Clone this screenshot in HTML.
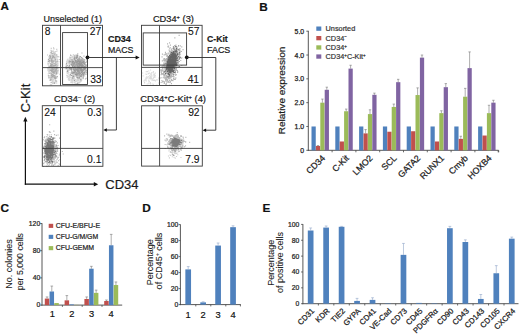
<!DOCTYPE html>
<html><head><meta charset="utf-8"><style>
html,body{margin:0;padding:0;background:#fff;width:520px;height:334px;overflow:hidden;}
svg{display:block;}
text{font-family:"Liberation Sans", sans-serif;}
</style></head><body>
<svg width="520" height="334" viewBox="0 0 520 334">
<rect width="520" height="334" fill="#fff"/>
<text x="0.6" y="9.9" font-size="11.6" font-weight="bold" fill="#111" stroke="#111" stroke-width="0.2">A</text>
<path d="M53.9 80.5h1.1v1.1h-1.1zM55.5 57.7h1.1v1.1h-1.1zM50.3 79.7h1.1v1.1h-1.1zM55.8 65.9h1.1v1.1h-1.1zM50.3 59.5h1.1v1.1h-1.1zM49.8 65.1h1.1v1.1h-1.1zM52.6 68.8h1.1v1.1h-1.1zM49.4 55.4h1.1v1.1h-1.1zM53.7 51.5h1.1v1.1h-1.1zM47.4 67.5h1.1v1.1h-1.1zM52.1 81.2h1.1v1.1h-1.1zM53.9 67.5h1.1v1.1h-1.1zM52.5 58.4h1.1v1.1h-1.1zM54.6 56.8h1.1v1.1h-1.1zM56.1 55.3h1.1v1.1h-1.1zM49.9 79.9h1.1v1.1h-1.1zM52.6 78.8h1.1v1.1h-1.1zM54.0 75.2h1.1v1.1h-1.1zM48.0 68.4h1.1v1.1h-1.1zM52.6 79.6h1.1v1.1h-1.1zM51.0 70.3h1.1v1.1h-1.1zM47.7 63.2h1.1v1.1h-1.1zM50.6 55.1h1.1v1.1h-1.1zM56.0 62.9h1.1v1.1h-1.1zM57.8 70.1h1.1v1.1h-1.1zM53.7 71.7h1.1v1.1h-1.1zM54.4 55.1h1.1v1.1h-1.1zM51.8 58.1h1.1v1.1h-1.1zM51.4 53.3h1.1v1.1h-1.1zM54.4 60.2h1.1v1.1h-1.1zM56.6 72.5h1.1v1.1h-1.1zM53.3 54.9h1.1v1.1h-1.1zM53.1 56.1h1.1v1.1h-1.1zM56.7 71.8h1.1v1.1h-1.1zM53.3 62.8h1.1v1.1h-1.1zM51.5 58.1h1.1v1.1h-1.1zM52.1 68.6h1.1v1.1h-1.1zM50.5 75.5h1.1v1.1h-1.1zM47.3 62.7h1.1v1.1h-1.1zM57.6 72.4h1.1v1.1h-1.1zM51.7 67.8h1.1v1.1h-1.1zM56.6 61.7h1.1v1.1h-1.1zM53.5 73.2h1.1v1.1h-1.1zM50.9 67.6h1.1v1.1h-1.1zM55.4 80.9h1.1v1.1h-1.1zM55.9 54.6h1.1v1.1h-1.1zM51.6 77.7h1.1v1.1h-1.1zM55.7 67.4h1.1v1.1h-1.1zM55.0 57.7h1.1v1.1h-1.1zM49.2 62.3h1.1v1.1h-1.1zM49.0 61.8h1.1v1.1h-1.1zM57.4 69.5h1.1v1.1h-1.1zM50.7 59.2h1.1v1.1h-1.1zM57.5 65.1h1.1v1.1h-1.1zM57.8 67.5h1.1v1.1h-1.1zM52.7 80.5h1.1v1.1h-1.1zM55.2 69.7h1.1v1.1h-1.1zM51.7 79.9h1.1v1.1h-1.1zM51.5 81.4h1.1v1.1h-1.1zM47.8 64.6h1.1v1.1h-1.1zM52.7 82.3h1.1v1.1h-1.1zM49.8 77.4h1.1v1.1h-1.1zM54.4 74.4h1.1v1.1h-1.1zM53.9 83.0h1.1v1.1h-1.1zM50.7 63.5h1.1v1.1h-1.1zM53.6 66.3h1.1v1.1h-1.1zM53.5 72.4h1.1v1.1h-1.1zM52.1 71.4h1.1v1.1h-1.1zM54.0 56.3h1.1v1.1h-1.1zM47.7 64.0h1.1v1.1h-1.1zM55.4 77.7h1.1v1.1h-1.1zM55.0 53.8h1.1v1.1h-1.1zM56.7 67.8h1.1v1.1h-1.1zM49.8 58.5h1.1v1.1h-1.1zM49.1 69.3h1.1v1.1h-1.1zM47.4 70.1h1.1v1.1h-1.1zM48.8 73.0h1.1v1.1h-1.1zM57.3 68.3h1.1v1.1h-1.1zM55.9 72.4h1.1v1.1h-1.1zM53.7 56.5h1.1v1.1h-1.1zM53.3 51.3h1.1v1.1h-1.1zM50.7 60.8h1.1v1.1h-1.1zM48.2 71.3h1.1v1.1h-1.1zM55.8 60.7h1.1v1.1h-1.1zM56.5 77.1h1.1v1.1h-1.1zM48.4 76.1h1.1v1.1h-1.1zM56.7 56.7h1.1v1.1h-1.1zM53.3 71.7h1.1v1.1h-1.1zM53.7 53.3h1.1v1.1h-1.1zM54.3 71.5h1.1v1.1h-1.1zM56.1 77.3h1.1v1.1h-1.1zM50.6 74.5h1.1v1.1h-1.1zM54.2 57.3h1.1v1.1h-1.1zM53.2 82.1h1.1v1.1h-1.1zM51.2 58.6h1.1v1.1h-1.1zM52.0 72.3h1.1v1.1h-1.1zM48.1 62.9h1.1v1.1h-1.1zM48.5 72.5h1.1v1.1h-1.1zM56.1 62.8h1.1v1.1h-1.1zM51.1 68.3h1.1v1.1h-1.1zM49.4 58.4h1.1v1.1h-1.1zM50.6 65.6h1.1v1.1h-1.1zM47.9 75.6h1.1v1.1h-1.1zM53.4 60.2h1.1v1.1h-1.1zM47.9 75.9h1.1v1.1h-1.1zM57.0 59.2h1.1v1.1h-1.1zM50.4 78.3h1.1v1.1h-1.1zM53.8 56.4h1.1v1.1h-1.1zM51.8 80.1h1.1v1.1h-1.1zM51.1 74.2h1.1v1.1h-1.1zM48.1 74.7h1.1v1.1h-1.1zM55.5 78.1h1.1v1.1h-1.1zM54.4 62.6h1.1v1.1h-1.1zM47.7 67.6h1.1v1.1h-1.1zM55.3 56.5h1.1v1.1h-1.1zM49.9 68.2h1.1v1.1h-1.1zM55.2 80.5h1.1v1.1h-1.1zM48.4 56.3h1.1v1.1h-1.1zM55.8 71.9h1.1v1.1h-1.1zM55.5 63.4h1.1v1.1h-1.1zM54.1 56.3h1.1v1.1h-1.1zM55.4 75.8h1.1v1.1h-1.1zM54.9 65.1h1.1v1.1h-1.1zM51.2 64.3h1.1v1.1h-1.1zM53.0 63.2h1.1v1.1h-1.1zM53.0 74.5h1.1v1.1h-1.1zM51.2 78.2h1.1v1.1h-1.1zM57.1 63.2h1.1v1.1h-1.1zM48.5 75.9h1.1v1.1h-1.1zM54.8 78.1h1.1v1.1h-1.1zM53.3 65.2h1.1v1.1h-1.1zM55.3 56.5h1.1v1.1h-1.1zM52.2 51.1h1.1v1.1h-1.1zM50.5 60.6h1.1v1.1h-1.1zM54.9 65.5h1.1v1.1h-1.1zM49.7 63.4h1.1v1.1h-1.1zM49.5 54.2h1.1v1.1h-1.1zM47.4 67.1h1.1v1.1h-1.1zM48.4 56.0h1.1v1.1h-1.1zM56.5 66.5h1.1v1.1h-1.1zM49.0 72.8h1.1v1.1h-1.1zM49.9 67.9h1.1v1.1h-1.1zM50.1 67.5h1.1v1.1h-1.1zM53.9 68.2h1.1v1.1h-1.1zM51.4 76.9h1.1v1.1h-1.1zM56.6 56.1h1.1v1.1h-1.1zM49.3 67.2h1.1v1.1h-1.1zM52.5 81.1h1.1v1.1h-1.1zM47.4 60.7h1.1v1.1h-1.1zM53.6 52.3h1.1v1.1h-1.1zM49.6 65.8h1.1v1.1h-1.1zM56.7 75.9h1.1v1.1h-1.1zM56.1 75.9h1.1v1.1h-1.1zM54.8 78.9h1.1v1.1h-1.1zM54.5 75.0h1.1v1.1h-1.1zM50.3 55.7h1.1v1.1h-1.1zM55.3 55.6h1.1v1.1h-1.1zM57.1 70.3h1.1v1.1h-1.1zM50.6 81.8h1.1v1.1h-1.1zM48.7 67.5h1.1v1.1h-1.1zM53.3 77.3h1.1v1.1h-1.1zM50.1 77.3h1.1v1.1h-1.1zM54.7 71.9h1.1v1.1h-1.1zM57.5 64.7h1.1v1.1h-1.1zM51.6 73.5h1.1v1.1h-1.1zM56.2 61.4h1.1v1.1h-1.1zM54.4 57.1h1.1v1.1h-1.1zM53.1 76.2h1.1v1.1h-1.1zM47.7 74.7h1.1v1.1h-1.1zM52.2 63.9h1.1v1.1h-1.1zM54.9 67.8h1.1v1.1h-1.1zM55.0 52.9h1.1v1.1h-1.1zM53.2 69.0h1.1v1.1h-1.1zM52.0 71.5h1.1v1.1h-1.1zM53.1 52.5h1.1v1.1h-1.1zM53.5 57.6h1.1v1.1h-1.1zM49.2 79.9h1.1v1.1h-1.1zM49.2 65.4h1.1v1.1h-1.1zM55.3 74.0h1.1v1.1h-1.1zM53.1 77.4h1.1v1.1h-1.1zM52.1 71.1h1.1v1.1h-1.1zM56.0 73.1h1.1v1.1h-1.1zM54.1 63.8h1.1v1.1h-1.1zM53.1 63.5h1.1v1.1h-1.1zM55.2 62.9h1.1v1.1h-1.1zM52.1 75.7h1.1v1.1h-1.1zM52.5 61.5h1.1v1.1h-1.1zM56.1 63.0h1.1v1.1h-1.1zM56.3 76.7h1.1v1.1h-1.1zM51.9 74.2h1.1v1.1h-1.1zM47.4 63.3h1.1v1.1h-1.1zM56.5 69.7h1.1v1.1h-1.1zM53.1 72.6h1.1v1.1h-1.1zM54.5 69.8h1.1v1.1h-1.1zM51.6 56.2h1.1v1.1h-1.1zM50.2 60.0h1.1v1.1h-1.1zM50.9 65.2h1.1v1.1h-1.1zM51.1 69.8h1.1v1.1h-1.1zM51.1 59.1h1.1v1.1h-1.1zM56.7 66.8h1.1v1.1h-1.1zM54.5 52.5h1.1v1.1h-1.1zM56.5 60.6h1.1v1.1h-1.1zM52.4 56.7h1.1v1.1h-1.1zM51.6 78.2h1.1v1.1h-1.1zM56.1 66.1h1.1v1.1h-1.1zM55.4 65.6h1.1v1.1h-1.1zM51.1 68.6h1.1v1.1h-1.1zM49.2 60.8h1.1v1.1h-1.1zM54.8 76.2h1.1v1.1h-1.1zM56.0 65.1h1.1v1.1h-1.1zM47.7 73.2h1.1v1.1h-1.1zM49.7 71.9h1.1v1.1h-1.1zM51.1 71.7h1.1v1.1h-1.1zM49.8 66.2h1.1v1.1h-1.1zM52.8 71.5h1.1v1.1h-1.1zM50.2 60.4h1.1v1.1h-1.1zM49.8 52.3h1.1v1.1h-1.1zM51.7 76.2h1.1v1.1h-1.1zM54.8 56.6h1.1v1.1h-1.1zM48.5 60.9h1.1v1.1h-1.1zM55.5 66.6h1.1v1.1h-1.1zM57.2 72.3h1.1v1.1h-1.1zM53.8 76.1h1.1v1.1h-1.1zM55.3 61.7h1.1v1.1h-1.1zM49.8 64.9h1.1v1.1h-1.1zM52.4 54.8h1.1v1.1h-1.1zM51.9 71.8h1.1v1.1h-1.1zM48.9 59.6h1.1v1.1h-1.1zM49.0 55.6h1.1v1.1h-1.1zM52.2 50.5h1.1v1.1h-1.1zM52.0 55.5h1.1v1.1h-1.1zM50.0 76.9h1.1v1.1h-1.1zM49.0 71.0h1.1v1.1h-1.1zM51.5 64.2h1.1v1.1h-1.1zM56.0 55.5h1.1v1.1h-1.1zM54.4 51.7h1.1v1.1h-1.1zM54.3 70.4h1.1v1.1h-1.1zM55.5 57.3h1.1v1.1h-1.1zM48.3 60.7h1.1v1.1h-1.1zM53.7 72.6h1.1v1.1h-1.1zM54.5 69.4h1.1v1.1h-1.1zM57.5 70.7h1.1v1.1h-1.1zM50.7 67.4h1.1v1.1h-1.1zM54.6 64.3h1.1v1.1h-1.1zM56.4 75.7h1.1v1.1h-1.1zM50.7 52.6h1.1v1.1h-1.1zM48.5 56.3h1.1v1.1h-1.1zM50.3 65.2h1.1v1.1h-1.1zM57.2 59.5h1.1v1.1h-1.1zM56.9 73.1h1.1v1.1h-1.1zM56.4 63.7h1.1v1.1h-1.1zM49.7 54.8h1.1v1.1h-1.1zM55.8 73.3h1.1v1.1h-1.1zM49.3 59.1h1.1v1.1h-1.1zM57.3 59.1h1.1v1.1h-1.1zM54.7 54.4h1.1v1.1h-1.1zM56.0 54.0h1.1v1.1h-1.1zM52.7 51.2h1.1v1.1h-1.1zM53.1 78.8h1.1v1.1h-1.1zM47.9 59.3h1.1v1.1h-1.1zM55.4 70.7h1.1v1.1h-1.1zM50.4 71.4h1.1v1.1h-1.1zM52.0 79.3h1.1v1.1h-1.1zM50.2 75.8h1.1v1.1h-1.1zM54.0 75.2h1.1v1.1h-1.1zM51.2 74.6h1.1v1.1h-1.1zM54.7 63.2h1.1v1.1h-1.1zM54.8 57.0h1.1v1.1h-1.1zM55.0 59.5h1.1v1.1h-1.1zM52.2 79.2h1.1v1.1h-1.1zM51.9 59.8h1.1v1.1h-1.1zM50.4 52.6h1.1v1.1h-1.1zM49.4 59.2h1.1v1.1h-1.1zM52.1 57.3h1.1v1.1h-1.1zM55.1 81.4h1.1v1.1h-1.1zM50.0 69.5h1.1v1.1h-1.1zM52.6 52.6h1.1v1.1h-1.1zM52.2 77.4h1.1v1.1h-1.1zM47.7 70.2h1.1v1.1h-1.1zM47.1 67.7h1.1v1.1h-1.1zM51.1 75.8h1.1v1.1h-1.1zM47.8 59.0h1.1v1.1h-1.1zM55.9 66.0h1.1v1.1h-1.1zM52.0 82.9h1.1v1.1h-1.1zM50.5 51.4h1.1v1.1h-1.1zM51.3 55.2h1.1v1.1h-1.1zM47.9 69.3h1.1v1.1h-1.1zM57.5 69.7h1.1v1.1h-1.1zM54.1 61.0h1.1v1.1h-1.1zM53.3 75.6h1.1v1.1h-1.1zM53.5 77.3h1.1v1.1h-1.1zM53.1 56.7h1.1v1.1h-1.1zM53.4 66.7h1.1v1.1h-1.1zM48.8 71.1h1.1v1.1h-1.1zM56.0 54.6h1.1v1.1h-1.1zM53.0 74.9h1.1v1.1h-1.1zM51.4 59.2h1.1v1.1h-1.1zM51.1 68.4h1.1v1.1h-1.1zM54.6 69.0h1.1v1.1h-1.1zM49.7 55.9h1.1v1.1h-1.1zM47.5 61.3h1.1v1.1h-1.1zM49.1 66.0h1.1v1.1h-1.1zM48.9 66.6h1.1v1.1h-1.1zM52.8 75.3h1.1v1.1h-1.1zM51.8 54.8h1.1v1.1h-1.1zM55.3 54.0h1.1v1.1h-1.1zM55.9 60.6h1.1v1.1h-1.1zM52.0 72.5h1.1v1.1h-1.1zM52.6 55.6h1.1v1.1h-1.1zM48.5 59.7h1.1v1.1h-1.1zM48.4 65.8h1.1v1.1h-1.1zM50.9 70.0h1.1v1.1h-1.1zM50.6 75.7h1.1v1.1h-1.1zM49.8 63.8h1.1v1.1h-1.1zM55.3 63.8h1.1v1.1h-1.1zM50.4 75.0h1.1v1.1h-1.1zM49.8 54.7h1.1v1.1h-1.1zM51.8 70.5h1.1v1.1h-1.1zM54.8 66.2h1.1v1.1h-1.1zM54.7 54.4h1.1v1.1h-1.1zM48.0 61.3h1.1v1.1h-1.1zM57.1 70.8h1.1v1.1h-1.1zM47.7 69.3h1.1v1.1h-1.1zM52.0 69.2h1.1v1.1h-1.1zM55.1 73.1h1.1v1.1h-1.1zM55.9 64.0h1.1v1.1h-1.1zM55.6 80.3h1.1v1.1h-1.1zM52.0 82.1h1.1v1.1h-1.1zM57.4 62.7h1.1v1.1h-1.1zM57.3 63.8h1.1v1.1h-1.1zM51.1 75.7h1.1v1.1h-1.1zM52.2 65.2h1.1v1.1h-1.1zM51.2 64.7h1.1v1.1h-1.1zM55.3 69.2h1.1v1.1h-1.1zM54.4 77.3h1.1v1.1h-1.1zM49.5 57.9h1.1v1.1h-1.1zM50.1 60.3h1.1v1.1h-1.1zM55.4 62.7h1.1v1.1h-1.1zM50.6 71.6h1.1v1.1h-1.1zM54.7 75.7h1.1v1.1h-1.1zM50.3 71.6h1.1v1.1h-1.1zM47.4 63.7h1.1v1.1h-1.1zM53.4 58.6h1.1v1.1h-1.1zM50.8 70.7h1.1v1.1h-1.1zM53.5 55.2h1.1v1.1h-1.1zM54.8 52.7h1.1v1.1h-1.1zM49.8 56.8h1.1v1.1h-1.1zM52.7 70.4h1.1v1.1h-1.1zM54.7 61.4h1.1v1.1h-1.1zM47.4 68.7h1.1v1.1h-1.1zM50.7 52.4h1.1v1.1h-1.1zM51.8 57.0h1.1v1.1h-1.1zM56.9 71.6h1.1v1.1h-1.1zM48.0 60.8h1.1v1.1h-1.1zM54.0 53.4h1.1v1.1h-1.1zM50.7 61.3h1.1v1.1h-1.1zM54.4 68.6h1.1v1.1h-1.1zM53.8 53.4h1.1v1.1h-1.1zM49.9 69.8h1.1v1.1h-1.1zM54.0 67.6h1.1v1.1h-1.1zM54.6 77.6h1.1v1.1h-1.1zM55.7 65.4h1.1v1.1h-1.1zM49.7 79.4h1.1v1.1h-1.1zM51.4 60.6h1.1v1.1h-1.1zM52.6 50.3h1.1v1.1h-1.1zM51.9 56.8h1.1v1.1h-1.1zM54.8 67.1h1.1v1.1h-1.1zM50.5 59.5h1.1v1.1h-1.1zM57.3 67.1h1.1v1.1h-1.1zM57.9 69.7h1.1v1.1h-1.1zM47.6 67.4h1.1v1.1h-1.1zM52.5 64.8h1.1v1.1h-1.1zM51.5 78.4h1.1v1.1h-1.1zM53.9 74.8h1.1v1.1h-1.1zM53.3 57.1h1.1v1.1h-1.1zM54.7 56.6h1.1v1.1h-1.1zM52.2 83.2h1.1v1.1h-1.1zM52.9 51.9h1.1v1.1h-1.1zM51.7 72.4h1.1v1.1h-1.1zM47.2 68.4h1.1v1.1h-1.1zM51.2 67.1h1.1v1.1h-1.1zM50.3 72.3h1.1v1.1h-1.1zM57.6 66.8h1.1v1.1h-1.1zM52.1 79.2h1.1v1.1h-1.1zM50.2 77.3h1.1v1.1h-1.1zM50.2 74.5h1.1v1.1h-1.1zM50.7 70.5h1.1v1.1h-1.1zM55.9 68.4h1.1v1.1h-1.1zM51.2 61.9h1.1v1.1h-1.1zM47.8 58.8h1.1v1.1h-1.1zM53.9 53.3h1.1v1.1h-1.1zM54.4 82.7h1.1v1.1h-1.1zM55.9 56.1h1.1v1.1h-1.1zM53.8 67.7h1.1v1.1h-1.1zM49.2 67.7h1.1v1.1h-1.1zM50.2 54.3h1.1v1.1h-1.1zM48.4 77.2h1.1v1.1h-1.1zM48.5 56.4h1.1v1.1h-1.1zM53.4 64.4h1.1v1.1h-1.1zM51.7 57.0h1.1v1.1h-1.1zM54.3 59.8h1.1v1.1h-1.1zM51.4 65.8h1.1v1.1h-1.1zM56.9 58.4h1.1v1.1h-1.1zM54.9 60.5h1.1v1.1h-1.1zM56.8 63.4h1.1v1.1h-1.1zM52.6 79.8h1.1v1.1h-1.1zM54.4 53.2h1.1v1.1h-1.1zM48.8 57.3h1.1v1.1h-1.1zM48.0 66.0h1.1v1.1h-1.1zM53.5 60.8h1.1v1.1h-1.1zM48.2 77.6h1.1v1.1h-1.1zM55.8 69.1h1.1v1.1h-1.1zM48.5 68.4h1.1v1.1h-1.1zM53.9 64.6h1.1v1.1h-1.1zM56.5 63.3h1.1v1.1h-1.1zM52.6 53.9h1.1v1.1h-1.1zM53.2 76.1h1.1v1.1h-1.1zM55.0 58.7h1.1v1.1h-1.1zM51.7 64.1h1.1v1.1h-1.1zM55.6 56.0h1.1v1.1h-1.1z" fill="#222" fill-opacity="0.2"/>
<path d="M51.8 57.0h1.1v1.1h-1.1zM55.4 59.1h1.1v1.1h-1.1zM50.3 64.8h1.1v1.1h-1.1zM55.0 61.4h1.1v1.1h-1.1zM50.8 75.1h1.1v1.1h-1.1zM54.7 65.0h1.1v1.1h-1.1zM49.7 55.6h1.1v1.1h-1.1zM50.8 50.2h1.1v1.1h-1.1zM54.4 63.0h1.1v1.1h-1.1zM53.7 82.9h1.1v1.1h-1.1zM55.4 58.8h1.1v1.1h-1.1zM54.7 77.3h1.1v1.1h-1.1zM50.6 60.4h1.1v1.1h-1.1zM52.2 55.2h1.1v1.1h-1.1zM56.2 48.8h1.1v1.1h-1.1zM49.7 65.8h1.1v1.1h-1.1zM51.9 69.3h1.1v1.1h-1.1zM53.2 66.3h1.1v1.1h-1.1zM55.3 50.9h1.1v1.1h-1.1zM52.5 62.3h1.1v1.1h-1.1zM52.8 69.8h1.1v1.1h-1.1zM50.2 62.9h1.1v1.1h-1.1zM54.5 70.8h1.1v1.1h-1.1zM50.8 84.3h1.1v1.1h-1.1zM58.3 56.3h1.1v1.1h-1.1zM54.5 69.8h1.1v1.1h-1.1zM52.0 63.7h1.1v1.1h-1.1zM52.0 63.6h1.1v1.1h-1.1zM54.4 64.8h1.1v1.1h-1.1zM51.4 58.4h1.1v1.1h-1.1zM52.4 60.8h1.1v1.1h-1.1zM52.0 76.3h1.1v1.1h-1.1zM53.4 72.0h1.1v1.1h-1.1zM53.4 68.5h1.1v1.1h-1.1zM52.2 65.5h1.1v1.1h-1.1zM54.4 59.3h1.1v1.1h-1.1zM55.9 68.3h1.1v1.1h-1.1zM50.6 64.1h1.1v1.1h-1.1zM50.8 69.3h1.1v1.1h-1.1zM50.7 77.1h1.1v1.1h-1.1zM50.5 49.8h1.1v1.1h-1.1zM50.7 51.9h1.1v1.1h-1.1zM52.4 76.5h1.1v1.1h-1.1zM54.1 57.3h1.1v1.1h-1.1zM50.6 82.2h1.1v1.1h-1.1zM53.3 68.0h1.1v1.1h-1.1zM55.7 69.1h1.1v1.1h-1.1zM53.4 72.9h1.1v1.1h-1.1zM51.0 59.5h1.1v1.1h-1.1zM52.6 60.4h1.1v1.1h-1.1zM52.3 68.8h1.1v1.1h-1.1zM58.4 61.2h1.1v1.1h-1.1zM52.2 66.7h1.1v1.1h-1.1zM53.6 76.4h1.1v1.1h-1.1zM51.3 61.4h1.1v1.1h-1.1zM48.4 60.6h1.1v1.1h-1.1zM53.8 68.4h1.1v1.1h-1.1zM50.0 65.0h1.1v1.1h-1.1zM52.6 72.0h1.1v1.1h-1.1zM51.0 66.0h1.1v1.1h-1.1zM48.0 58.8h1.1v1.1h-1.1zM56.5 50.5h1.1v1.1h-1.1zM51.7 69.8h1.1v1.1h-1.1zM51.6 61.5h1.1v1.1h-1.1zM52.3 68.0h1.1v1.1h-1.1zM52.3 53.0h1.1v1.1h-1.1zM52.1 61.2h1.1v1.1h-1.1zM51.1 69.8h1.1v1.1h-1.1zM54.1 75.2h1.1v1.1h-1.1zM51.3 75.4h1.1v1.1h-1.1zM55.4 77.1h1.1v1.1h-1.1zM56.0 66.8h1.1v1.1h-1.1zM52.1 74.6h1.1v1.1h-1.1zM49.1 69.7h1.1v1.1h-1.1zM51.2 65.0h1.1v1.1h-1.1zM48.1 60.9h1.1v1.1h-1.1zM52.4 75.1h1.1v1.1h-1.1zM55.0 67.4h1.1v1.1h-1.1zM52.0 61.4h1.1v1.1h-1.1zM53.5 66.0h1.1v1.1h-1.1zM54.0 82.0h1.1v1.1h-1.1zM52.4 56.0h1.1v1.1h-1.1zM50.3 56.3h1.1v1.1h-1.1zM49.5 78.4h1.1v1.1h-1.1zM53.1 55.8h1.1v1.1h-1.1zM54.1 78.1h1.1v1.1h-1.1zM51.6 62.6h1.1v1.1h-1.1zM51.7 70.3h1.1v1.1h-1.1zM54.1 77.5h1.1v1.1h-1.1zM55.5 77.5h1.1v1.1h-1.1zM55.9 73.3h1.1v1.1h-1.1zM48.7 67.0h1.1v1.1h-1.1zM53.3 64.9h1.1v1.1h-1.1zM54.8 65.1h1.1v1.1h-1.1zM50.2 79.6h1.1v1.1h-1.1zM54.2 69.8h1.1v1.1h-1.1zM54.8 76.5h1.1v1.1h-1.1zM53.4 48.3h1.1v1.1h-1.1zM50.8 64.3h1.1v1.1h-1.1zM50.0 69.6h1.1v1.1h-1.1zM55.5 64.1h1.1v1.1h-1.1zM49.7 84.2h1.1v1.1h-1.1zM51.4 58.1h1.1v1.1h-1.1zM53.1 71.4h1.1v1.1h-1.1zM50.7 74.3h1.1v1.1h-1.1zM51.3 60.6h1.1v1.1h-1.1zM52.9 74.2h1.1v1.1h-1.1zM50.9 70.6h1.1v1.1h-1.1zM50.7 79.1h1.1v1.1h-1.1zM52.4 67.0h1.1v1.1h-1.1zM54.3 75.2h1.1v1.1h-1.1zM55.7 70.6h1.1v1.1h-1.1zM51.0 63.7h1.1v1.1h-1.1zM53.8 72.6h1.1v1.1h-1.1zM56.0 71.3h1.1v1.1h-1.1zM55.2 80.1h1.1v1.1h-1.1zM52.9 56.1h1.1v1.1h-1.1zM49.6 56.5h1.1v1.1h-1.1zM56.5 61.2h1.1v1.1h-1.1zM55.6 72.7h1.1v1.1h-1.1zM56.8 76.0h1.1v1.1h-1.1zM52.2 66.4h1.1v1.1h-1.1zM52.7 69.4h1.1v1.1h-1.1zM51.2 67.7h1.1v1.1h-1.1zM56.5 54.4h1.1v1.1h-1.1zM53.1 60.7h1.1v1.1h-1.1zM53.0 74.7h1.1v1.1h-1.1zM52.4 74.2h1.1v1.1h-1.1zM48.5 76.9h1.1v1.1h-1.1zM51.0 73.0h1.1v1.1h-1.1zM53.0 47.3h1.1v1.1h-1.1zM50.6 69.8h1.1v1.1h-1.1zM56.4 70.3h1.1v1.1h-1.1zM53.1 56.7h1.1v1.1h-1.1zM56.1 82.5h1.1v1.1h-1.1zM52.6 66.2h1.1v1.1h-1.1zM48.5 75.1h1.1v1.1h-1.1zM59.3 73.7h1.1v1.1h-1.1zM55.7 72.3h1.1v1.1h-1.1zM50.0 78.7h1.1v1.1h-1.1zM49.4 66.3h1.1v1.1h-1.1zM53.2 75.1h1.1v1.1h-1.1zM53.5 71.1h1.1v1.1h-1.1zM50.6 57.7h1.1v1.1h-1.1zM52.7 62.3h1.1v1.1h-1.1zM49.2 57.9h1.1v1.1h-1.1zM51.3 53.2h1.1v1.1h-1.1zM49.1 54.9h1.1v1.1h-1.1zM53.0 71.3h1.1v1.1h-1.1zM57.5 56.0h1.1v1.1h-1.1zM50.8 75.3h1.1v1.1h-1.1zM52.0 65.4h1.1v1.1h-1.1zM56.8 65.3h1.1v1.1h-1.1zM49.6 57.5h1.1v1.1h-1.1zM53.3 70.4h1.1v1.1h-1.1zM49.1 60.1h1.1v1.1h-1.1zM53.8 72.6h1.1v1.1h-1.1zM50.9 73.0h1.1v1.1h-1.1zM53.9 53.7h1.1v1.1h-1.1zM51.7 71.3h1.1v1.1h-1.1zM51.1 50.9h1.1v1.1h-1.1zM51.8 74.0h1.1v1.1h-1.1zM56.5 50.5h1.1v1.1h-1.1zM59.0 59.0h1.1v1.1h-1.1zM54.9 77.9h1.1v1.1h-1.1zM55.0 69.2h1.1v1.1h-1.1zM49.6 73.0h1.1v1.1h-1.1zM50.7 47.8h1.1v1.1h-1.1zM59.6 73.7h1.1v1.1h-1.1zM57.0 60.7h1.1v1.1h-1.1zM56.2 80.7h1.1v1.1h-1.1zM56.4 67.8h1.1v1.1h-1.1zM49.5 66.6h1.1v1.1h-1.1zM47.0 54.4h1.1v1.1h-1.1zM52.7 60.1h1.1v1.1h-1.1zM52.1 67.1h1.1v1.1h-1.1z" fill="#222" fill-opacity="0.25"/>
<path d="M73.8 64.1h1.1v1.1h-1.1zM75.1 59.3h1.1v1.1h-1.1zM71.0 62.7h1.1v1.1h-1.1zM82.4 72.9h1.1v1.1h-1.1zM73.5 59.4h1.1v1.1h-1.1zM71.8 65.7h1.1v1.1h-1.1zM83.9 69.6h1.1v1.1h-1.1zM67.6 70.1h1.1v1.1h-1.1zM84.3 63.6h1.1v1.1h-1.1zM78.2 67.3h1.1v1.1h-1.1zM69.9 76.9h1.1v1.1h-1.1zM74.8 69.6h1.1v1.1h-1.1zM74.1 73.8h1.1v1.1h-1.1zM66.0 68.3h1.1v1.1h-1.1zM69.4 56.6h1.1v1.1h-1.1zM68.6 60.9h1.1v1.1h-1.1zM82.4 74.5h1.1v1.1h-1.1zM71.1 65.2h1.1v1.1h-1.1zM73.8 62.3h1.1v1.1h-1.1zM73.4 76.6h1.1v1.1h-1.1zM66.1 61.8h1.1v1.1h-1.1zM74.6 73.8h1.1v1.1h-1.1zM78.1 75.2h1.1v1.1h-1.1zM71.0 62.0h1.1v1.1h-1.1zM70.7 77.6h1.1v1.1h-1.1zM83.9 71.3h1.1v1.1h-1.1zM71.8 64.2h1.1v1.1h-1.1zM77.8 79.4h1.1v1.1h-1.1zM71.7 59.2h1.1v1.1h-1.1zM82.4 72.2h1.1v1.1h-1.1zM72.2 77.4h1.1v1.1h-1.1zM78.4 55.5h1.1v1.1h-1.1zM72.9 72.6h1.1v1.1h-1.1zM78.9 67.1h1.1v1.1h-1.1zM74.3 75.0h1.1v1.1h-1.1zM75.7 55.9h1.1v1.1h-1.1zM68.5 59.5h1.1v1.1h-1.1zM73.2 63.2h1.1v1.1h-1.1zM72.1 78.0h1.1v1.1h-1.1zM81.5 69.5h1.1v1.1h-1.1zM73.7 61.5h1.1v1.1h-1.1zM75.9 60.1h1.1v1.1h-1.1zM82.5 78.2h1.1v1.1h-1.1zM83.1 62.5h1.1v1.1h-1.1zM78.3 79.2h1.1v1.1h-1.1zM81.3 79.4h1.1v1.1h-1.1zM74.8 78.8h1.1v1.1h-1.1zM74.2 61.4h1.1v1.1h-1.1zM74.6 63.6h1.1v1.1h-1.1zM80.6 78.5h1.1v1.1h-1.1zM67.5 58.4h1.1v1.1h-1.1zM72.6 67.4h1.1v1.1h-1.1zM78.7 61.6h1.1v1.1h-1.1zM82.0 61.8h1.1v1.1h-1.1zM66.2 63.0h1.1v1.1h-1.1zM71.3 75.2h1.1v1.1h-1.1zM77.7 70.3h1.1v1.1h-1.1zM69.2 79.8h1.1v1.1h-1.1zM80.5 68.9h1.1v1.1h-1.1zM67.9 60.0h1.1v1.1h-1.1zM72.5 63.4h1.1v1.1h-1.1zM65.8 65.7h1.1v1.1h-1.1zM73.9 62.1h1.1v1.1h-1.1zM72.6 63.5h1.1v1.1h-1.1zM72.4 72.1h1.1v1.1h-1.1zM74.9 59.4h1.1v1.1h-1.1zM81.2 68.9h1.1v1.1h-1.1zM74.1 74.9h1.1v1.1h-1.1zM80.3 79.0h1.1v1.1h-1.1zM81.5 73.6h1.1v1.1h-1.1zM79.6 58.2h1.1v1.1h-1.1zM79.2 61.1h1.1v1.1h-1.1zM69.9 57.1h1.1v1.1h-1.1zM72.8 54.1h1.1v1.1h-1.1zM78.3 75.9h1.1v1.1h-1.1zM80.8 57.4h1.1v1.1h-1.1zM78.0 78.6h1.1v1.1h-1.1zM70.1 67.4h1.1v1.1h-1.1zM68.1 69.7h1.1v1.1h-1.1zM71.7 73.2h1.1v1.1h-1.1zM75.7 74.1h1.1v1.1h-1.1zM69.7 74.7h1.1v1.1h-1.1zM79.9 75.2h1.1v1.1h-1.1zM76.6 61.7h1.1v1.1h-1.1zM73.6 69.0h1.1v1.1h-1.1zM75.4 60.9h1.1v1.1h-1.1zM70.1 64.4h1.1v1.1h-1.1zM80.9 66.6h1.1v1.1h-1.1zM65.3 67.1h1.1v1.1h-1.1zM75.8 64.2h1.1v1.1h-1.1zM73.3 64.7h1.1v1.1h-1.1zM68.0 73.3h1.1v1.1h-1.1zM80.9 76.3h1.1v1.1h-1.1zM69.3 68.9h1.1v1.1h-1.1zM79.3 65.1h1.1v1.1h-1.1zM73.9 78.7h1.1v1.1h-1.1zM73.2 73.0h1.1v1.1h-1.1zM67.7 78.7h1.1v1.1h-1.1zM68.6 74.6h1.1v1.1h-1.1zM68.7 75.4h1.1v1.1h-1.1zM82.1 61.1h1.1v1.1h-1.1zM66.4 71.1h1.1v1.1h-1.1zM75.0 67.9h1.1v1.1h-1.1zM80.9 67.4h1.1v1.1h-1.1zM74.9 68.1h1.1v1.1h-1.1zM74.0 65.7h1.1v1.1h-1.1zM67.9 62.4h1.1v1.1h-1.1zM70.1 60.9h1.1v1.1h-1.1zM80.9 56.9h1.1v1.1h-1.1zM68.8 69.3h1.1v1.1h-1.1zM71.1 60.7h1.1v1.1h-1.1zM72.3 68.6h1.1v1.1h-1.1zM82.4 66.4h1.1v1.1h-1.1zM74.0 66.0h1.1v1.1h-1.1zM78.4 71.2h1.1v1.1h-1.1zM70.4 81.6h1.1v1.1h-1.1zM73.1 71.4h1.1v1.1h-1.1zM66.7 65.3h1.1v1.1h-1.1zM74.0 55.4h1.1v1.1h-1.1zM71.3 59.6h1.1v1.1h-1.1zM64.8 68.5h1.1v1.1h-1.1zM78.9 64.6h1.1v1.1h-1.1zM82.2 77.4h1.1v1.1h-1.1zM71.4 78.9h1.1v1.1h-1.1zM84.0 72.1h1.1v1.1h-1.1zM71.9 80.5h1.1v1.1h-1.1zM84.3 63.9h1.1v1.1h-1.1zM78.5 60.5h1.1v1.1h-1.1zM76.4 62.7h1.1v1.1h-1.1zM83.8 63.8h1.1v1.1h-1.1zM69.1 67.2h1.1v1.1h-1.1zM70.7 78.1h1.1v1.1h-1.1zM82.0 57.8h1.1v1.1h-1.1zM76.9 70.2h1.1v1.1h-1.1zM79.1 62.7h1.1v1.1h-1.1zM72.6 60.7h1.1v1.1h-1.1zM70.6 58.8h1.1v1.1h-1.1zM72.1 74.3h1.1v1.1h-1.1zM74.8 61.9h1.1v1.1h-1.1zM71.8 82.5h1.1v1.1h-1.1zM71.7 70.9h1.1v1.1h-1.1zM84.3 62.4h1.1v1.1h-1.1zM81.5 56.9h1.1v1.1h-1.1zM79.9 77.7h1.1v1.1h-1.1zM70.3 69.1h1.1v1.1h-1.1zM73.7 75.1h1.1v1.1h-1.1zM70.6 78.5h1.1v1.1h-1.1zM83.3 75.6h1.1v1.1h-1.1zM71.5 67.4h1.1v1.1h-1.1zM82.0 64.2h1.1v1.1h-1.1zM81.4 77.0h1.1v1.1h-1.1zM74.3 80.4h1.1v1.1h-1.1zM72.6 76.0h1.1v1.1h-1.1zM77.9 63.4h1.1v1.1h-1.1zM75.7 71.7h1.1v1.1h-1.1zM75.8 56.8h1.1v1.1h-1.1zM75.7 57.3h1.1v1.1h-1.1zM81.7 66.5h1.1v1.1h-1.1zM79.5 78.3h1.1v1.1h-1.1zM75.8 55.0h1.1v1.1h-1.1zM81.8 74.3h1.1v1.1h-1.1zM83.6 61.6h1.1v1.1h-1.1zM81.0 79.7h1.1v1.1h-1.1zM72.0 65.8h1.1v1.1h-1.1zM69.4 63.4h1.1v1.1h-1.1zM66.8 76.5h1.1v1.1h-1.1zM73.5 70.5h1.1v1.1h-1.1zM70.5 64.3h1.1v1.1h-1.1zM80.3 67.6h1.1v1.1h-1.1zM77.0 66.2h1.1v1.1h-1.1zM76.2 80.4h1.1v1.1h-1.1zM70.1 69.1h1.1v1.1h-1.1zM78.9 56.1h1.1v1.1h-1.1zM84.7 68.5h1.1v1.1h-1.1zM69.7 76.3h1.1v1.1h-1.1zM81.6 72.4h1.1v1.1h-1.1zM75.6 75.8h1.1v1.1h-1.1zM83.8 72.7h1.1v1.1h-1.1zM77.1 65.1h1.1v1.1h-1.1zM76.5 70.1h1.1v1.1h-1.1zM80.0 81.2h1.1v1.1h-1.1zM74.2 76.1h1.1v1.1h-1.1zM70.7 67.5h1.1v1.1h-1.1zM70.6 68.2h1.1v1.1h-1.1zM82.4 61.6h1.1v1.1h-1.1zM81.8 60.8h1.1v1.1h-1.1zM70.9 70.1h1.1v1.1h-1.1zM78.2 79.9h1.1v1.1h-1.1zM83.0 61.0h1.1v1.1h-1.1zM80.2 72.5h1.1v1.1h-1.1zM72.6 76.8h1.1v1.1h-1.1zM83.3 67.9h1.1v1.1h-1.1zM68.0 76.4h1.1v1.1h-1.1zM70.9 71.1h1.1v1.1h-1.1zM74.9 57.9h1.1v1.1h-1.1zM80.3 75.7h1.1v1.1h-1.1zM67.5 61.3h1.1v1.1h-1.1zM82.8 68.6h1.1v1.1h-1.1zM72.2 66.9h1.1v1.1h-1.1zM68.2 68.4h1.1v1.1h-1.1zM69.3 58.4h1.1v1.1h-1.1zM72.5 55.4h1.1v1.1h-1.1zM74.4 74.4h1.1v1.1h-1.1zM78.2 82.8h1.1v1.1h-1.1zM83.1 72.5h1.1v1.1h-1.1zM83.4 66.8h1.1v1.1h-1.1zM81.3 62.0h1.1v1.1h-1.1zM75.6 82.9h1.1v1.1h-1.1zM77.1 68.7h1.1v1.1h-1.1zM81.0 62.9h1.1v1.1h-1.1zM69.5 58.8h1.1v1.1h-1.1zM76.6 74.6h1.1v1.1h-1.1zM80.7 65.0h1.1v1.1h-1.1zM69.1 79.1h1.1v1.1h-1.1zM69.4 68.3h1.1v1.1h-1.1zM84.3 75.4h1.1v1.1h-1.1zM76.3 69.1h1.1v1.1h-1.1zM79.1 72.3h1.1v1.1h-1.1zM71.6 56.3h1.1v1.1h-1.1zM68.7 77.0h1.1v1.1h-1.1zM77.8 77.4h1.1v1.1h-1.1zM72.5 81.3h1.1v1.1h-1.1zM77.0 69.9h1.1v1.1h-1.1zM81.7 72.3h1.1v1.1h-1.1zM78.7 58.2h1.1v1.1h-1.1zM77.2 64.2h1.1v1.1h-1.1zM74.6 61.4h1.1v1.1h-1.1zM80.6 57.2h1.1v1.1h-1.1zM71.1 68.8h1.1v1.1h-1.1zM68.9 59.8h1.1v1.1h-1.1zM72.9 77.2h1.1v1.1h-1.1zM85.3 70.3h1.1v1.1h-1.1zM72.1 60.5h1.1v1.1h-1.1zM68.3 63.2h1.1v1.1h-1.1zM81.0 73.5h1.1v1.1h-1.1zM79.9 73.7h1.1v1.1h-1.1zM71.1 79.3h1.1v1.1h-1.1zM68.9 66.3h1.1v1.1h-1.1zM66.9 72.9h1.1v1.1h-1.1zM80.6 68.5h1.1v1.1h-1.1zM78.4 75.5h1.1v1.1h-1.1zM77.2 59.4h1.1v1.1h-1.1zM79.2 57.0h1.1v1.1h-1.1zM70.2 66.9h1.1v1.1h-1.1zM78.2 75.8h1.1v1.1h-1.1zM72.3 65.2h1.1v1.1h-1.1zM68.9 69.1h1.1v1.1h-1.1zM76.7 81.5h1.1v1.1h-1.1zM79.7 78.2h1.1v1.1h-1.1zM78.2 62.2h1.1v1.1h-1.1zM77.6 79.8h1.1v1.1h-1.1zM66.7 67.9h1.1v1.1h-1.1zM80.2 74.2h1.1v1.1h-1.1zM67.2 69.3h1.1v1.1h-1.1zM79.0 63.6h1.1v1.1h-1.1zM75.1 82.8h1.1v1.1h-1.1zM77.8 68.6h1.1v1.1h-1.1zM82.4 75.8h1.1v1.1h-1.1zM82.0 70.8h1.1v1.1h-1.1zM76.6 69.4h1.1v1.1h-1.1zM79.9 63.4h1.1v1.1h-1.1zM74.9 67.6h1.1v1.1h-1.1zM78.4 60.0h1.1v1.1h-1.1zM68.3 79.2h1.1v1.1h-1.1zM79.6 76.0h1.1v1.1h-1.1zM73.8 56.6h1.1v1.1h-1.1zM74.3 79.4h1.1v1.1h-1.1zM75.2 72.5h1.1v1.1h-1.1zM72.4 58.0h1.1v1.1h-1.1zM77.7 68.0h1.1v1.1h-1.1zM71.8 61.3h1.1v1.1h-1.1zM79.1 63.0h1.1v1.1h-1.1zM76.6 61.3h1.1v1.1h-1.1zM80.3 64.7h1.1v1.1h-1.1zM74.5 81.3h1.1v1.1h-1.1zM79.6 75.6h1.1v1.1h-1.1zM71.6 78.7h1.1v1.1h-1.1zM83.3 73.3h1.1v1.1h-1.1zM82.0 69.8h1.1v1.1h-1.1zM79.9 57.2h1.1v1.1h-1.1zM67.5 60.8h1.1v1.1h-1.1zM76.6 76.4h1.1v1.1h-1.1zM80.3 68.1h1.1v1.1h-1.1zM72.1 56.4h1.1v1.1h-1.1zM66.3 72.4h1.1v1.1h-1.1zM80.7 80.7h1.1v1.1h-1.1zM72.2 81.6h1.1v1.1h-1.1zM70.7 81.7h1.1v1.1h-1.1zM82.6 74.6h1.1v1.1h-1.1zM79.3 78.7h1.1v1.1h-1.1zM75.8 68.7h1.1v1.1h-1.1zM72.2 79.5h1.1v1.1h-1.1zM80.7 61.8h1.1v1.1h-1.1zM68.4 59.4h1.1v1.1h-1.1zM76.5 61.9h1.1v1.1h-1.1zM69.6 56.5h1.1v1.1h-1.1zM71.3 76.7h1.1v1.1h-1.1zM65.0 68.0h1.1v1.1h-1.1zM77.2 55.0h1.1v1.1h-1.1zM70.7 80.7h1.1v1.1h-1.1zM68.1 76.4h1.1v1.1h-1.1zM74.0 58.6h1.1v1.1h-1.1zM74.6 81.2h1.1v1.1h-1.1zM82.9 65.2h1.1v1.1h-1.1zM85.2 68.8h1.1v1.1h-1.1zM69.2 69.8h1.1v1.1h-1.1zM79.1 68.0h1.1v1.1h-1.1zM71.9 60.9h1.1v1.1h-1.1zM70.7 55.0h1.1v1.1h-1.1zM81.1 65.6h1.1v1.1h-1.1zM77.0 60.1h1.1v1.1h-1.1zM78.5 74.7h1.1v1.1h-1.1zM79.9 68.3h1.1v1.1h-1.1zM76.5 74.0h1.1v1.1h-1.1zM70.3 81.8h1.1v1.1h-1.1zM78.0 80.3h1.1v1.1h-1.1zM66.7 69.4h1.1v1.1h-1.1zM66.8 59.2h1.1v1.1h-1.1zM72.5 59.2h1.1v1.1h-1.1zM71.6 79.2h1.1v1.1h-1.1zM78.9 74.6h1.1v1.1h-1.1zM78.5 75.8h1.1v1.1h-1.1zM80.2 74.9h1.1v1.1h-1.1zM80.7 71.9h1.1v1.1h-1.1zM75.7 56.2h1.1v1.1h-1.1zM80.2 63.7h1.1v1.1h-1.1zM74.9 56.5h1.1v1.1h-1.1zM80.9 70.3h1.1v1.1h-1.1zM78.8 63.6h1.1v1.1h-1.1zM82.5 64.9h1.1v1.1h-1.1zM84.3 62.4h1.1v1.1h-1.1zM79.9 62.2h1.1v1.1h-1.1zM73.4 72.6h1.1v1.1h-1.1zM66.7 75.7h1.1v1.1h-1.1zM69.1 68.4h1.1v1.1h-1.1zM71.4 60.6h1.1v1.1h-1.1zM84.1 68.7h1.1v1.1h-1.1zM78.2 74.6h1.1v1.1h-1.1zM81.7 61.4h1.1v1.1h-1.1zM66.2 67.5h1.1v1.1h-1.1zM83.8 72.3h1.1v1.1h-1.1zM73.2 57.6h1.1v1.1h-1.1zM80.5 69.5h1.1v1.1h-1.1zM81.9 69.4h1.1v1.1h-1.1zM70.8 73.1h1.1v1.1h-1.1zM67.7 72.0h1.1v1.1h-1.1zM79.5 63.8h1.1v1.1h-1.1zM79.1 76.9h1.1v1.1h-1.1zM82.0 72.0h1.1v1.1h-1.1zM82.3 73.3h1.1v1.1h-1.1zM72.7 61.1h1.1v1.1h-1.1zM68.2 79.7h1.1v1.1h-1.1zM80.5 60.2h1.1v1.1h-1.1zM80.5 67.0h1.1v1.1h-1.1zM67.4 61.6h1.1v1.1h-1.1zM66.0 74.7h1.1v1.1h-1.1zM72.4 75.1h1.1v1.1h-1.1zM70.7 57.4h1.1v1.1h-1.1zM78.8 75.9h1.1v1.1h-1.1zM68.6 64.1h1.1v1.1h-1.1zM73.8 76.8h1.1v1.1h-1.1zM70.7 73.1h1.1v1.1h-1.1zM72.7 67.5h1.1v1.1h-1.1zM74.2 61.9h1.1v1.1h-1.1zM79.1 78.7h1.1v1.1h-1.1zM67.7 60.6h1.1v1.1h-1.1zM77.0 81.6h1.1v1.1h-1.1zM74.4 59.5h1.1v1.1h-1.1zM77.0 82.2h1.1v1.1h-1.1zM73.1 61.4h1.1v1.1h-1.1zM82.8 77.1h1.1v1.1h-1.1zM82.4 65.2h1.1v1.1h-1.1zM70.5 60.7h1.1v1.1h-1.1zM72.2 79.7h1.1v1.1h-1.1zM72.5 66.9h1.1v1.1h-1.1zM76.4 60.1h1.1v1.1h-1.1zM70.1 61.5h1.1v1.1h-1.1zM70.0 69.0h1.1v1.1h-1.1zM66.6 76.9h1.1v1.1h-1.1zM68.2 66.8h1.1v1.1h-1.1zM78.0 57.6h1.1v1.1h-1.1zM73.1 70.4h1.1v1.1h-1.1zM76.1 80.3h1.1v1.1h-1.1zM81.0 57.1h1.1v1.1h-1.1zM82.0 70.0h1.1v1.1h-1.1zM78.7 58.3h1.1v1.1h-1.1zM74.4 74.5h1.1v1.1h-1.1zM81.2 77.7h1.1v1.1h-1.1zM69.1 78.5h1.1v1.1h-1.1zM76.4 73.6h1.1v1.1h-1.1zM82.4 65.7h1.1v1.1h-1.1zM81.5 64.9h1.1v1.1h-1.1zM75.6 58.7h1.1v1.1h-1.1zM80.4 80.2h1.1v1.1h-1.1zM67.9 75.8h1.1v1.1h-1.1zM83.8 67.9h1.1v1.1h-1.1zM80.9 63.6h1.1v1.1h-1.1zM75.3 59.3h1.1v1.1h-1.1zM77.2 65.4h1.1v1.1h-1.1zM81.4 73.5h1.1v1.1h-1.1zM79.7 61.0h1.1v1.1h-1.1zM84.1 72.8h1.1v1.1h-1.1zM83.9 74.7h1.1v1.1h-1.1zM77.2 66.1h1.1v1.1h-1.1zM72.0 68.2h1.1v1.1h-1.1zM69.2 66.3h1.1v1.1h-1.1zM75.2 54.4h1.1v1.1h-1.1zM72.8 62.0h1.1v1.1h-1.1zM77.8 77.9h1.1v1.1h-1.1zM77.4 73.4h1.1v1.1h-1.1zM77.4 61.2h1.1v1.1h-1.1zM72.4 78.8h1.1v1.1h-1.1zM82.6 71.7h1.1v1.1h-1.1zM81.7 71.3h1.1v1.1h-1.1zM83.5 60.8h1.1v1.1h-1.1zM73.8 73.6h1.1v1.1h-1.1zM69.0 74.9h1.1v1.1h-1.1zM70.0 74.8h1.1v1.1h-1.1zM81.4 66.2h1.1v1.1h-1.1zM66.9 74.8h1.1v1.1h-1.1zM84.3 72.3h1.1v1.1h-1.1zM77.7 66.4h1.1v1.1h-1.1zM79.3 60.8h1.1v1.1h-1.1zM78.5 74.3h1.1v1.1h-1.1zM75.8 61.3h1.1v1.1h-1.1zM82.0 59.9h1.1v1.1h-1.1zM66.1 60.9h1.1v1.1h-1.1zM75.4 71.1h1.1v1.1h-1.1zM74.0 57.8h1.1v1.1h-1.1zM77.6 61.4h1.1v1.1h-1.1zM81.7 59.5h1.1v1.1h-1.1zM73.3 60.1h1.1v1.1h-1.1zM82.6 72.1h1.1v1.1h-1.1zM77.7 62.9h1.1v1.1h-1.1zM68.2 79.2h1.1v1.1h-1.1zM80.6 75.5h1.1v1.1h-1.1zM68.2 71.8h1.1v1.1h-1.1zM70.5 68.9h1.1v1.1h-1.1zM74.1 70.4h1.1v1.1h-1.1zM73.2 78.0h1.1v1.1h-1.1zM82.6 76.7h1.1v1.1h-1.1zM76.1 80.5h1.1v1.1h-1.1zM74.8 56.7h1.1v1.1h-1.1zM70.2 73.2h1.1v1.1h-1.1zM72.5 66.2h1.1v1.1h-1.1zM72.9 59.3h1.1v1.1h-1.1zM78.6 63.2h1.1v1.1h-1.1zM74.1 81.6h1.1v1.1h-1.1zM77.7 77.8h1.1v1.1h-1.1zM65.9 65.0h1.1v1.1h-1.1zM84.4 67.4h1.1v1.1h-1.1zM73.1 68.7h1.1v1.1h-1.1zM84.8 65.4h1.1v1.1h-1.1zM69.7 60.5h1.1v1.1h-1.1zM75.4 67.5h1.1v1.1h-1.1zM77.2 76.9h1.1v1.1h-1.1zM74.6 71.9h1.1v1.1h-1.1zM71.4 81.9h1.1v1.1h-1.1zM74.8 60.2h1.1v1.1h-1.1zM71.3 66.7h1.1v1.1h-1.1zM73.9 70.0h1.1v1.1h-1.1zM74.5 54.5h1.1v1.1h-1.1zM74.5 74.7h1.1v1.1h-1.1zM71.5 64.6h1.1v1.1h-1.1zM75.4 80.8h1.1v1.1h-1.1zM71.4 56.1h1.1v1.1h-1.1zM71.1 57.1h1.1v1.1h-1.1zM77.0 78.8h1.1v1.1h-1.1zM77.1 58.1h1.1v1.1h-1.1zM73.0 61.5h1.1v1.1h-1.1zM74.1 57.5h1.1v1.1h-1.1zM81.6 61.1h1.1v1.1h-1.1zM68.5 69.3h1.1v1.1h-1.1zM76.8 79.9h1.1v1.1h-1.1zM71.7 71.1h1.1v1.1h-1.1zM67.1 69.1h1.1v1.1h-1.1zM67.1 62.5h1.1v1.1h-1.1zM71.0 74.7h1.1v1.1h-1.1zM78.3 73.7h1.1v1.1h-1.1zM79.4 75.1h1.1v1.1h-1.1zM78.4 70.1h1.1v1.1h-1.1zM80.1 55.9h1.1v1.1h-1.1zM68.9 75.7h1.1v1.1h-1.1zM68.5 69.4h1.1v1.1h-1.1zM70.0 66.4h1.1v1.1h-1.1zM82.0 73.3h1.1v1.1h-1.1zM73.8 61.7h1.1v1.1h-1.1zM81.4 73.2h1.1v1.1h-1.1zM73.7 79.6h1.1v1.1h-1.1zM78.5 80.5h1.1v1.1h-1.1zM76.1 74.8h1.1v1.1h-1.1zM74.5 71.7h1.1v1.1h-1.1zM79.5 81.6h1.1v1.1h-1.1zM72.3 67.6h1.1v1.1h-1.1zM83.6 65.8h1.1v1.1h-1.1zM82.0 66.1h1.1v1.1h-1.1zM71.6 61.8h1.1v1.1h-1.1zM69.0 66.4h1.1v1.1h-1.1zM67.9 78.3h1.1v1.1h-1.1zM78.8 62.6h1.1v1.1h-1.1zM68.7 60.9h1.1v1.1h-1.1zM82.7 70.5h1.1v1.1h-1.1zM69.4 59.8h1.1v1.1h-1.1zM78.2 72.4h1.1v1.1h-1.1zM71.2 63.5h1.1v1.1h-1.1zM74.2 80.8h1.1v1.1h-1.1zM75.8 78.7h1.1v1.1h-1.1zM78.0 70.4h1.1v1.1h-1.1zM74.8 73.9h1.1v1.1h-1.1zM74.8 75.3h1.1v1.1h-1.1zM68.3 63.2h1.1v1.1h-1.1zM82.8 65.4h1.1v1.1h-1.1zM76.6 56.6h1.1v1.1h-1.1zM80.4 73.5h1.1v1.1h-1.1zM70.6 79.4h1.1v1.1h-1.1zM74.6 55.2h1.1v1.1h-1.1zM77.3 78.0h1.1v1.1h-1.1zM77.6 65.8h1.1v1.1h-1.1zM73.8 78.1h1.1v1.1h-1.1zM67.7 71.1h1.1v1.1h-1.1zM75.3 65.4h1.1v1.1h-1.1zM73.0 61.6h1.1v1.1h-1.1zM70.2 60.7h1.1v1.1h-1.1zM66.7 70.1h1.1v1.1h-1.1zM73.9 74.9h1.1v1.1h-1.1zM77.9 82.1h1.1v1.1h-1.1zM71.6 80.0h1.1v1.1h-1.1zM72.6 73.3h1.1v1.1h-1.1zM81.4 65.4h1.1v1.1h-1.1zM73.9 72.4h1.1v1.1h-1.1zM66.8 69.5h1.1v1.1h-1.1zM66.5 60.2h1.1v1.1h-1.1zM77.6 82.7h1.1v1.1h-1.1zM67.6 69.1h1.1v1.1h-1.1zM73.8 64.9h1.1v1.1h-1.1zM80.6 74.8h1.1v1.1h-1.1zM76.3 72.1h1.1v1.1h-1.1zM76.7 73.8h1.1v1.1h-1.1zM66.7 67.1h1.1v1.1h-1.1zM80.9 62.3h1.1v1.1h-1.1zM77.2 55.2h1.1v1.1h-1.1zM68.8 65.5h1.1v1.1h-1.1zM66.0 66.2h1.1v1.1h-1.1zM69.3 79.4h1.1v1.1h-1.1zM71.2 64.9h1.1v1.1h-1.1zM81.3 70.3h1.1v1.1h-1.1zM77.3 59.5h1.1v1.1h-1.1zM69.7 72.2h1.1v1.1h-1.1zM74.9 61.6h1.1v1.1h-1.1zM76.2 72.5h1.1v1.1h-1.1zM71.0 79.9h1.1v1.1h-1.1zM65.6 63.9h1.1v1.1h-1.1zM68.6 74.4h1.1v1.1h-1.1zM82.6 74.4h1.1v1.1h-1.1zM70.7 77.2h1.1v1.1h-1.1zM66.1 67.2h1.1v1.1h-1.1zM75.1 80.4h1.1v1.1h-1.1zM82.1 69.9h1.1v1.1h-1.1zM65.6 66.4h1.1v1.1h-1.1zM78.8 65.7h1.1v1.1h-1.1zM72.2 76.5h1.1v1.1h-1.1zM78.6 66.6h1.1v1.1h-1.1zM79.4 65.4h1.1v1.1h-1.1zM67.5 66.0h1.1v1.1h-1.1zM73.7 78.3h1.1v1.1h-1.1zM68.8 68.5h1.1v1.1h-1.1zM83.4 73.7h1.1v1.1h-1.1zM76.9 71.0h1.1v1.1h-1.1zM77.1 67.4h1.1v1.1h-1.1zM72.1 60.7h1.1v1.1h-1.1zM65.9 64.6h1.1v1.1h-1.1zM80.7 70.1h1.1v1.1h-1.1zM67.9 77.9h1.1v1.1h-1.1zM78.2 70.2h1.1v1.1h-1.1zM73.2 78.3h1.1v1.1h-1.1zM75.4 62.4h1.1v1.1h-1.1zM72.9 69.6h1.1v1.1h-1.1zM78.7 56.5h1.1v1.1h-1.1zM80.0 69.5h1.1v1.1h-1.1zM78.9 75.6h1.1v1.1h-1.1zM85.4 67.8h1.1v1.1h-1.1zM68.7 64.7h1.1v1.1h-1.1zM72.2 80.4h1.1v1.1h-1.1zM75.5 55.5h1.1v1.1h-1.1zM79.5 68.4h1.1v1.1h-1.1zM64.7 67.8h1.1v1.1h-1.1zM67.1 69.4h1.1v1.1h-1.1zM68.4 73.5h1.1v1.1h-1.1zM78.2 63.1h1.1v1.1h-1.1zM71.4 71.0h1.1v1.1h-1.1zM72.3 56.8h1.1v1.1h-1.1zM76.5 75.2h1.1v1.1h-1.1zM79.3 68.2h1.1v1.1h-1.1zM75.7 72.4h1.1v1.1h-1.1zM73.8 82.3h1.1v1.1h-1.1zM68.7 77.9h1.1v1.1h-1.1zM79.6 80.5h1.1v1.1h-1.1zM83.9 60.6h1.1v1.1h-1.1zM83.9 65.6h1.1v1.1h-1.1zM78.8 82.1h1.1v1.1h-1.1z" fill="#222" fill-opacity="0.19"/>
<path d="M82.5 60.2h1.1v1.1h-1.1zM75.9 62.6h1.1v1.1h-1.1zM81.8 66.1h1.1v1.1h-1.1zM78.6 57.8h1.1v1.1h-1.1zM78.1 58.8h1.1v1.1h-1.1zM79.9 68.4h1.1v1.1h-1.1zM78.4 77.1h1.1v1.1h-1.1zM80.9 69.6h1.1v1.1h-1.1zM79.2 65.5h1.1v1.1h-1.1zM82.9 72.2h1.1v1.1h-1.1zM72.5 72.0h1.1v1.1h-1.1zM80.9 71.5h1.1v1.1h-1.1zM80.6 60.0h1.1v1.1h-1.1zM73.1 76.0h1.1v1.1h-1.1zM79.7 59.1h1.1v1.1h-1.1zM80.1 64.6h1.1v1.1h-1.1zM70.0 54.6h1.1v1.1h-1.1zM71.1 67.9h1.1v1.1h-1.1zM78.3 65.2h1.1v1.1h-1.1zM79.8 69.6h1.1v1.1h-1.1zM68.8 64.9h1.1v1.1h-1.1zM74.7 60.1h1.1v1.1h-1.1zM76.0 65.9h1.1v1.1h-1.1zM77.3 58.9h1.1v1.1h-1.1zM76.3 77.0h1.1v1.1h-1.1zM73.6 57.7h1.1v1.1h-1.1zM79.8 69.6h1.1v1.1h-1.1zM80.6 60.7h1.1v1.1h-1.1zM83.1 62.4h1.1v1.1h-1.1zM73.3 63.3h1.1v1.1h-1.1zM78.0 70.2h1.1v1.1h-1.1zM81.4 66.4h1.1v1.1h-1.1zM82.8 66.9h1.1v1.1h-1.1zM82.6 59.2h1.1v1.1h-1.1zM71.3 70.5h1.1v1.1h-1.1zM72.1 64.9h1.1v1.1h-1.1zM78.0 64.0h1.1v1.1h-1.1zM76.4 73.7h1.1v1.1h-1.1zM66.9 71.1h1.1v1.1h-1.1zM78.4 70.3h1.1v1.1h-1.1zM86.9 60.3h1.1v1.1h-1.1zM78.9 65.5h1.1v1.1h-1.1zM81.1 67.3h1.1v1.1h-1.1zM81.5 64.3h1.1v1.1h-1.1zM78.7 63.0h1.1v1.1h-1.1zM75.4 65.8h1.1v1.1h-1.1zM77.8 60.4h1.1v1.1h-1.1zM85.7 65.8h1.1v1.1h-1.1zM72.1 72.2h1.1v1.1h-1.1zM75.1 69.1h1.1v1.1h-1.1zM78.4 67.8h1.1v1.1h-1.1zM79.3 63.5h1.1v1.1h-1.1zM78.7 77.1h1.1v1.1h-1.1zM68.2 66.8h1.1v1.1h-1.1zM80.5 61.0h1.1v1.1h-1.1zM72.2 77.7h1.1v1.1h-1.1zM76.8 77.3h1.1v1.1h-1.1zM81.0 66.9h1.1v1.1h-1.1zM80.7 69.8h1.1v1.1h-1.1zM83.9 68.8h1.1v1.1h-1.1zM79.2 67.4h1.1v1.1h-1.1zM84.7 70.7h1.1v1.1h-1.1zM73.9 63.2h1.1v1.1h-1.1zM80.0 63.3h1.1v1.1h-1.1zM76.8 61.5h1.1v1.1h-1.1zM77.3 68.7h1.1v1.1h-1.1zM83.1 66.5h1.1v1.1h-1.1zM80.8 63.9h1.1v1.1h-1.1zM65.5 65.7h1.1v1.1h-1.1zM79.3 76.5h1.1v1.1h-1.1zM72.2 76.4h1.1v1.1h-1.1zM77.3 70.3h1.1v1.1h-1.1zM66.8 67.2h1.1v1.1h-1.1zM76.9 70.0h1.1v1.1h-1.1zM78.9 60.6h1.1v1.1h-1.1zM82.9 70.1h1.1v1.1h-1.1zM81.2 71.7h1.1v1.1h-1.1zM83.6 66.4h1.1v1.1h-1.1zM72.3 59.3h1.1v1.1h-1.1zM84.7 70.2h1.1v1.1h-1.1zM79.0 64.2h1.1v1.1h-1.1zM78.6 66.6h1.1v1.1h-1.1zM77.0 62.9h1.1v1.1h-1.1zM75.7 59.7h1.1v1.1h-1.1zM75.2 70.2h1.1v1.1h-1.1zM82.0 65.4h1.1v1.1h-1.1zM78.7 64.9h1.1v1.1h-1.1zM73.4 73.3h1.1v1.1h-1.1zM80.2 79.4h1.1v1.1h-1.1zM75.0 65.8h1.1v1.1h-1.1zM82.6 65.2h1.1v1.1h-1.1zM72.1 61.6h1.1v1.1h-1.1zM79.0 68.3h1.1v1.1h-1.1zM78.1 71.7h1.1v1.1h-1.1zM83.1 68.2h1.1v1.1h-1.1zM78.6 65.2h1.1v1.1h-1.1zM81.0 71.3h1.1v1.1h-1.1zM78.8 68.8h1.1v1.1h-1.1zM77.0 59.2h1.1v1.1h-1.1zM73.9 70.5h1.1v1.1h-1.1zM80.6 74.8h1.1v1.1h-1.1zM78.8 71.0h1.1v1.1h-1.1zM84.6 71.7h1.1v1.1h-1.1zM75.7 65.5h1.1v1.1h-1.1zM79.1 61.4h1.1v1.1h-1.1zM80.7 71.8h1.1v1.1h-1.1zM76.3 76.8h1.1v1.1h-1.1zM77.2 65.4h1.1v1.1h-1.1zM77.4 62.8h1.1v1.1h-1.1zM80.4 66.6h1.1v1.1h-1.1zM86.1 69.7h1.1v1.1h-1.1zM81.0 65.3h1.1v1.1h-1.1zM72.0 66.0h1.1v1.1h-1.1zM74.6 71.4h1.1v1.1h-1.1zM78.4 75.2h1.1v1.1h-1.1zM81.9 70.8h1.1v1.1h-1.1zM79.6 67.6h1.1v1.1h-1.1zM81.5 71.3h1.1v1.1h-1.1zM75.2 69.1h1.1v1.1h-1.1zM77.3 62.9h1.1v1.1h-1.1zM71.8 72.7h1.1v1.1h-1.1zM78.8 68.1h1.1v1.1h-1.1zM87.0 79.5h1.1v1.1h-1.1zM74.4 72.0h1.1v1.1h-1.1zM81.4 68.6h1.1v1.1h-1.1zM80.7 66.4h1.1v1.1h-1.1zM85.8 69.7h1.1v1.1h-1.1zM80.1 73.0h1.1v1.1h-1.1zM82.6 68.9h1.1v1.1h-1.1zM80.0 75.6h1.1v1.1h-1.1zM80.9 66.0h1.1v1.1h-1.1zM74.6 64.7h1.1v1.1h-1.1zM73.7 67.1h1.1v1.1h-1.1zM79.7 55.9h1.1v1.1h-1.1zM78.6 69.9h1.1v1.1h-1.1zM79.3 61.5h1.1v1.1h-1.1zM84.3 62.9h1.1v1.1h-1.1zM72.9 60.9h1.1v1.1h-1.1zM78.4 71.6h1.1v1.1h-1.1zM83.9 67.6h1.1v1.1h-1.1zM73.0 63.1h1.1v1.1h-1.1zM74.4 65.6h1.1v1.1h-1.1zM70.3 67.1h1.1v1.1h-1.1zM81.5 65.7h1.1v1.1h-1.1zM80.6 61.6h1.1v1.1h-1.1zM71.8 63.2h1.1v1.1h-1.1zM83.8 71.9h1.1v1.1h-1.1zM76.4 72.8h1.1v1.1h-1.1zM77.0 74.4h1.1v1.1h-1.1zM80.7 64.2h1.1v1.1h-1.1zM82.2 62.5h1.1v1.1h-1.1zM74.2 59.0h1.1v1.1h-1.1zM79.7 66.2h1.1v1.1h-1.1zM78.1 64.4h1.1v1.1h-1.1zM85.1 64.3h1.1v1.1h-1.1zM75.2 73.0h1.1v1.1h-1.1zM85.0 68.3h1.1v1.1h-1.1zM70.5 63.4h1.1v1.1h-1.1zM81.3 66.6h1.1v1.1h-1.1zM85.6 59.4h1.1v1.1h-1.1zM81.6 63.2h1.1v1.1h-1.1zM84.6 66.1h1.1v1.1h-1.1zM83.2 63.1h1.1v1.1h-1.1zM72.0 60.7h1.1v1.1h-1.1zM75.7 61.2h1.1v1.1h-1.1zM84.0 73.5h1.1v1.1h-1.1zM79.8 61.1h1.1v1.1h-1.1zM78.0 62.9h1.1v1.1h-1.1zM85.2 68.1h1.1v1.1h-1.1zM80.8 64.4h1.1v1.1h-1.1zM69.2 62.5h1.1v1.1h-1.1zM73.4 68.4h1.1v1.1h-1.1zM78.9 62.3h1.1v1.1h-1.1zM76.7 74.6h1.1v1.1h-1.1zM74.1 61.7h1.1v1.1h-1.1zM77.4 62.9h1.1v1.1h-1.1zM76.5 69.3h1.1v1.1h-1.1zM86.5 57.2h1.1v1.1h-1.1zM78.4 66.7h1.1v1.1h-1.1zM78.1 65.5h1.1v1.1h-1.1zM76.9 71.7h1.1v1.1h-1.1zM76.4 65.8h1.1v1.1h-1.1zM78.5 67.1h1.1v1.1h-1.1zM77.7 71.7h1.1v1.1h-1.1zM78.5 67.4h1.1v1.1h-1.1zM78.3 61.3h1.1v1.1h-1.1zM74.7 61.0h1.1v1.1h-1.1zM79.4 62.8h1.1v1.1h-1.1zM73.6 67.7h1.1v1.1h-1.1zM80.9 57.3h1.1v1.1h-1.1zM86.3 66.7h1.1v1.1h-1.1zM78.0 72.0h1.1v1.1h-1.1zM78.8 63.4h1.1v1.1h-1.1zM78.1 70.9h1.1v1.1h-1.1zM73.6 66.0h1.1v1.1h-1.1zM80.3 79.0h1.1v1.1h-1.1zM74.4 66.3h1.1v1.1h-1.1zM81.5 66.9h1.1v1.1h-1.1zM73.0 68.6h1.1v1.1h-1.1zM79.0 68.8h1.1v1.1h-1.1zM83.7 71.8h1.1v1.1h-1.1zM80.4 68.1h1.1v1.1h-1.1zM73.4 65.8h1.1v1.1h-1.1zM79.5 64.4h1.1v1.1h-1.1zM78.9 62.2h1.1v1.1h-1.1zM85.6 77.7h1.1v1.1h-1.1zM76.7 68.6h1.1v1.1h-1.1zM77.4 73.1h1.1v1.1h-1.1zM80.5 66.9h1.1v1.1h-1.1zM77.5 67.2h1.1v1.1h-1.1zM73.9 70.0h1.1v1.1h-1.1zM75.2 69.3h1.1v1.1h-1.1zM79.1 72.2h1.1v1.1h-1.1zM78.4 71.8h1.1v1.1h-1.1zM74.3 69.7h1.1v1.1h-1.1zM77.5 67.5h1.1v1.1h-1.1zM78.8 71.4h1.1v1.1h-1.1zM69.2 68.2h1.1v1.1h-1.1zM71.6 72.8h1.1v1.1h-1.1zM69.4 61.3h1.1v1.1h-1.1zM70.8 75.0h1.1v1.1h-1.1zM72.6 67.1h1.1v1.1h-1.1zM76.0 57.1h1.1v1.1h-1.1zM76.9 69.9h1.1v1.1h-1.1zM77.7 71.4h1.1v1.1h-1.1zM76.8 66.5h1.1v1.1h-1.1zM76.7 68.3h1.1v1.1h-1.1zM87.2 68.4h1.1v1.1h-1.1zM79.4 63.3h1.1v1.1h-1.1zM75.0 74.1h1.1v1.1h-1.1zM73.4 61.8h1.1v1.1h-1.1zM78.1 64.3h1.1v1.1h-1.1zM80.2 70.2h1.1v1.1h-1.1zM73.3 63.1h1.1v1.1h-1.1zM80.5 75.0h1.1v1.1h-1.1zM74.3 58.3h1.1v1.1h-1.1zM83.0 74.4h1.1v1.1h-1.1zM77.0 55.0h1.1v1.1h-1.1zM85.2 65.5h1.1v1.1h-1.1zM83.7 66.3h1.1v1.1h-1.1zM76.8 64.2h1.1v1.1h-1.1zM85.3 74.0h1.1v1.1h-1.1zM68.7 61.6h1.1v1.1h-1.1zM86.7 64.6h1.1v1.1h-1.1zM72.2 66.5h1.1v1.1h-1.1zM78.0 66.0h1.1v1.1h-1.1zM76.3 64.9h1.1v1.1h-1.1zM76.4 68.2h1.1v1.1h-1.1zM74.8 65.0h1.1v1.1h-1.1zM77.8 73.3h1.1v1.1h-1.1zM80.2 65.9h1.1v1.1h-1.1zM81.0 68.6h1.1v1.1h-1.1zM83.5 69.1h1.1v1.1h-1.1zM86.8 73.5h1.1v1.1h-1.1zM78.3 64.3h1.1v1.1h-1.1zM82.6 69.2h1.1v1.1h-1.1zM78.1 58.8h1.1v1.1h-1.1zM70.1 68.3h1.1v1.1h-1.1zM82.0 70.7h1.1v1.1h-1.1zM72.6 71.9h1.1v1.1h-1.1zM76.0 68.5h1.1v1.1h-1.1zM80.4 62.3h1.1v1.1h-1.1zM75.8 55.7h1.1v1.1h-1.1zM74.3 57.1h1.1v1.1h-1.1zM80.5 66.8h1.1v1.1h-1.1zM82.7 68.4h1.1v1.1h-1.1zM75.6 68.3h1.1v1.1h-1.1zM76.7 69.7h1.1v1.1h-1.1zM80.0 61.4h1.1v1.1h-1.1zM78.5 66.8h1.1v1.1h-1.1zM77.1 71.2h1.1v1.1h-1.1zM86.4 64.6h1.1v1.1h-1.1zM76.9 54.8h1.1v1.1h-1.1zM77.9 64.2h1.1v1.1h-1.1zM68.6 68.0h1.1v1.1h-1.1zM81.2 62.7h1.1v1.1h-1.1zM76.8 61.5h1.1v1.1h-1.1zM82.0 58.6h1.1v1.1h-1.1zM77.1 76.6h1.1v1.1h-1.1zM78.7 68.9h1.1v1.1h-1.1zM77.8 60.4h1.1v1.1h-1.1zM78.3 68.6h1.1v1.1h-1.1zM73.8 68.3h1.1v1.1h-1.1zM84.2 72.1h1.1v1.1h-1.1zM71.2 61.4h1.1v1.1h-1.1zM71.1 72.1h1.1v1.1h-1.1zM81.3 70.2h1.1v1.1h-1.1zM74.5 60.4h1.1v1.1h-1.1zM78.9 67.0h1.1v1.1h-1.1zM74.6 67.2h1.1v1.1h-1.1zM81.5 67.7h1.1v1.1h-1.1zM73.7 55.5h1.1v1.1h-1.1zM77.3 67.4h1.1v1.1h-1.1zM77.3 64.3h1.1v1.1h-1.1zM75.3 70.2h1.1v1.1h-1.1zM78.3 67.1h1.1v1.1h-1.1zM74.0 63.3h1.1v1.1h-1.1zM79.3 61.3h1.1v1.1h-1.1zM72.7 64.8h1.1v1.1h-1.1zM84.0 67.5h1.1v1.1h-1.1zM85.2 65.8h1.1v1.1h-1.1zM77.1 59.3h1.1v1.1h-1.1zM75.8 74.0h1.1v1.1h-1.1zM80.0 70.3h1.1v1.1h-1.1zM81.7 66.5h1.1v1.1h-1.1zM77.6 67.1h1.1v1.1h-1.1zM81.6 68.9h1.1v1.1h-1.1zM80.8 67.3h1.1v1.1h-1.1zM75.0 65.1h1.1v1.1h-1.1zM74.2 71.7h1.1v1.1h-1.1zM68.8 65.4h1.1v1.1h-1.1zM73.3 66.4h1.1v1.1h-1.1zM84.4 65.7h1.1v1.1h-1.1zM81.3 67.0h1.1v1.1h-1.1zM76.8 82.9h1.1v1.1h-1.1zM78.8 63.7h1.1v1.1h-1.1zM76.2 68.5h1.1v1.1h-1.1zM80.4 70.5h1.1v1.1h-1.1zM79.1 59.1h1.1v1.1h-1.1zM80.9 64.9h1.1v1.1h-1.1zM77.2 58.8h1.1v1.1h-1.1zM75.9 62.7h1.1v1.1h-1.1zM78.3 58.9h1.1v1.1h-1.1zM78.7 67.1h1.1v1.1h-1.1zM73.3 63.3h1.1v1.1h-1.1zM74.6 71.2h1.1v1.1h-1.1zM66.9 64.7h1.1v1.1h-1.1zM70.9 64.3h1.1v1.1h-1.1zM82.4 63.2h1.1v1.1h-1.1zM79.1 62.1h1.1v1.1h-1.1zM83.7 59.6h1.1v1.1h-1.1zM73.4 72.1h1.1v1.1h-1.1zM77.6 65.2h1.1v1.1h-1.1zM80.0 60.0h1.1v1.1h-1.1zM82.1 66.6h1.1v1.1h-1.1zM80.7 63.0h1.1v1.1h-1.1zM80.9 62.8h1.1v1.1h-1.1zM82.9 72.4h1.1v1.1h-1.1zM82.7 69.2h1.1v1.1h-1.1zM81.4 52.4h1.1v1.1h-1.1zM82.3 65.1h1.1v1.1h-1.1zM78.9 65.0h1.1v1.1h-1.1zM72.1 63.7h1.1v1.1h-1.1zM81.5 73.9h1.1v1.1h-1.1zM75.6 61.8h1.1v1.1h-1.1zM85.2 61.9h1.1v1.1h-1.1zM74.4 71.6h1.1v1.1h-1.1zM86.3 59.0h1.1v1.1h-1.1zM85.7 65.0h1.1v1.1h-1.1zM85.3 64.5h1.1v1.1h-1.1zM71.2 69.1h1.1v1.1h-1.1zM82.8 77.4h1.1v1.1h-1.1zM86.4 70.1h1.1v1.1h-1.1zM77.4 63.8h1.1v1.1h-1.1zM77.1 62.2h1.1v1.1h-1.1zM77.2 53.3h1.1v1.1h-1.1zM79.3 66.3h1.1v1.1h-1.1zM76.3 69.4h1.1v1.1h-1.1zM72.9 63.4h1.1v1.1h-1.1zM69.9 74.0h1.1v1.1h-1.1zM81.2 60.4h1.1v1.1h-1.1zM78.2 71.4h1.1v1.1h-1.1zM80.8 68.5h1.1v1.1h-1.1zM74.6 63.2h1.1v1.1h-1.1zM78.9 71.3h1.1v1.1h-1.1zM74.7 60.7h1.1v1.1h-1.1zM83.8 61.7h1.1v1.1h-1.1zM83.5 67.8h1.1v1.1h-1.1zM82.6 75.6h1.1v1.1h-1.1zM81.7 70.5h1.1v1.1h-1.1zM74.3 62.9h1.1v1.1h-1.1zM81.5 74.5h1.1v1.1h-1.1zM84.9 78.5h1.1v1.1h-1.1zM79.9 67.6h1.1v1.1h-1.1zM83.1 66.6h1.1v1.1h-1.1zM78.2 61.1h1.1v1.1h-1.1zM83.1 60.9h1.1v1.1h-1.1zM80.9 59.1h1.1v1.1h-1.1zM83.5 61.2h1.1v1.1h-1.1zM82.4 58.2h1.1v1.1h-1.1zM76.5 72.6h1.1v1.1h-1.1zM74.8 66.8h1.1v1.1h-1.1zM76.3 54.5h1.1v1.1h-1.1zM79.9 68.7h1.1v1.1h-1.1zM73.4 69.5h1.1v1.1h-1.1zM74.8 61.3h1.1v1.1h-1.1zM78.5 63.0h1.1v1.1h-1.1zM81.9 71.6h1.1v1.1h-1.1zM69.4 57.5h1.1v1.1h-1.1zM81.1 64.0h1.1v1.1h-1.1zM80.3 72.4h1.1v1.1h-1.1zM76.8 61.0h1.1v1.1h-1.1zM65.9 67.6h1.1v1.1h-1.1zM74.2 68.1h1.1v1.1h-1.1zM79.6 59.3h1.1v1.1h-1.1zM86.4 72.1h1.1v1.1h-1.1zM82.4 60.3h1.1v1.1h-1.1zM76.6 63.7h1.1v1.1h-1.1zM76.6 60.7h1.1v1.1h-1.1zM80.5 67.7h1.1v1.1h-1.1zM80.2 63.9h1.1v1.1h-1.1zM84.4 67.5h1.1v1.1h-1.1zM65.9 63.2h1.1v1.1h-1.1zM78.2 71.5h1.1v1.1h-1.1zM77.1 65.2h1.1v1.1h-1.1zM75.5 70.0h1.1v1.1h-1.1zM76.4 63.4h1.1v1.1h-1.1zM75.1 69.4h1.1v1.1h-1.1zM76.0 57.8h1.1v1.1h-1.1zM81.4 62.9h1.1v1.1h-1.1zM80.1 68.4h1.1v1.1h-1.1zM84.0 71.9h1.1v1.1h-1.1zM75.9 65.6h1.1v1.1h-1.1zM72.6 75.2h1.1v1.1h-1.1zM80.5 73.8h1.1v1.1h-1.1zM77.0 55.8h1.1v1.1h-1.1zM85.5 67.0h1.1v1.1h-1.1zM79.1 66.8h1.1v1.1h-1.1zM81.5 69.3h1.1v1.1h-1.1zM71.2 72.2h1.1v1.1h-1.1zM76.1 64.1h1.1v1.1h-1.1zM86.4 71.3h1.1v1.1h-1.1zM76.9 56.8h1.1v1.1h-1.1zM79.2 69.3h1.1v1.1h-1.1zM78.1 60.0h1.1v1.1h-1.1zM74.9 60.0h1.1v1.1h-1.1zM79.5 70.8h1.1v1.1h-1.1zM83.2 62.7h1.1v1.1h-1.1zM79.6 69.4h1.1v1.1h-1.1zM76.1 65.7h1.1v1.1h-1.1zM82.6 64.2h1.1v1.1h-1.1zM78.7 57.6h1.1v1.1h-1.1zM78.4 72.7h1.1v1.1h-1.1zM81.7 66.8h1.1v1.1h-1.1zM75.7 65.7h1.1v1.1h-1.1zM81.3 62.4h1.1v1.1h-1.1zM82.8 61.4h1.1v1.1h-1.1zM70.3 61.2h1.1v1.1h-1.1zM70.8 59.4h1.1v1.1h-1.1zM83.7 65.5h1.1v1.1h-1.1zM79.5 72.5h1.1v1.1h-1.1zM84.3 63.9h1.1v1.1h-1.1zM84.6 68.5h1.1v1.1h-1.1zM78.5 68.8h1.1v1.1h-1.1zM71.9 62.4h1.1v1.1h-1.1zM78.0 69.7h1.1v1.1h-1.1zM76.8 65.8h1.1v1.1h-1.1zM83.0 73.8h1.1v1.1h-1.1zM82.0 73.1h1.1v1.1h-1.1zM76.6 64.9h1.1v1.1h-1.1zM80.0 64.9h1.1v1.1h-1.1zM76.2 75.1h1.1v1.1h-1.1zM77.6 61.5h1.1v1.1h-1.1zM80.7 76.0h1.1v1.1h-1.1zM78.9 72.9h1.1v1.1h-1.1zM76.5 63.9h1.1v1.1h-1.1zM75.3 65.8h1.1v1.1h-1.1zM86.9 60.5h1.1v1.1h-1.1zM86.0 61.3h1.1v1.1h-1.1zM77.4 70.8h1.1v1.1h-1.1zM81.4 68.0h1.1v1.1h-1.1zM70.9 68.4h1.1v1.1h-1.1zM73.8 79.9h1.1v1.1h-1.1zM77.5 67.5h1.1v1.1h-1.1zM73.2 64.0h1.1v1.1h-1.1zM72.6 71.6h1.1v1.1h-1.1zM77.3 69.4h1.1v1.1h-1.1zM75.4 63.9h1.1v1.1h-1.1zM84.4 61.4h1.1v1.1h-1.1zM70.2 68.6h1.1v1.1h-1.1zM73.2 64.2h1.1v1.1h-1.1zM82.7 62.2h1.1v1.1h-1.1zM82.5 63.0h1.1v1.1h-1.1zM85.4 73.4h1.1v1.1h-1.1zM76.3 65.4h1.1v1.1h-1.1zM74.7 67.5h1.1v1.1h-1.1zM83.8 59.0h1.1v1.1h-1.1zM82.7 59.6h1.1v1.1h-1.1zM74.5 57.2h1.1v1.1h-1.1zM79.6 63.0h1.1v1.1h-1.1zM83.4 55.6h1.1v1.1h-1.1zM78.6 78.0h1.1v1.1h-1.1zM76.7 66.6h1.1v1.1h-1.1zM81.6 62.3h1.1v1.1h-1.1zM78.6 71.5h1.1v1.1h-1.1zM79.4 68.4h1.1v1.1h-1.1zM76.9 68.1h1.1v1.1h-1.1zM78.8 74.1h1.1v1.1h-1.1zM81.8 65.2h1.1v1.1h-1.1zM67.2 70.2h1.1v1.1h-1.1zM82.0 61.7h1.1v1.1h-1.1zM69.3 60.6h1.1v1.1h-1.1zM82.8 61.0h1.1v1.1h-1.1zM76.4 67.6h1.1v1.1h-1.1zM84.1 66.4h1.1v1.1h-1.1zM78.0 63.6h1.1v1.1h-1.1zM86.0 72.0h1.1v1.1h-1.1zM78.1 59.2h1.1v1.1h-1.1zM74.9 69.5h1.1v1.1h-1.1zM75.2 71.1h1.1v1.1h-1.1zM80.2 68.0h1.1v1.1h-1.1zM81.5 69.1h1.1v1.1h-1.1zM74.6 64.8h1.1v1.1h-1.1zM76.3 72.0h1.1v1.1h-1.1z" fill="#222" fill-opacity="0.34"/>
<rect x="42.50" y="25.30" width="60.00" height="60.50" fill="none" stroke="#3a3a3a" stroke-width="0.9"/>
<line x1="60.50" y1="25.30" x2="60.50" y2="85.80" stroke="#3a3a3a" stroke-width="0.9"/>
<line x1="42.50" y1="67.60" x2="102.50" y2="67.60" stroke="#3a3a3a" stroke-width="0.9"/>
<rect x="62.60" y="32.60" width="24.90" height="51.90" fill="none" stroke="#3a3a3a" stroke-width="0.9"/>
<path d="M171.9 57.1h1.1v1.1h-1.1zM164.7 67.1h1.1v1.1h-1.1zM170.7 76.6h1.1v1.1h-1.1zM168.2 72.7h1.1v1.1h-1.1zM166.5 64.4h1.1v1.1h-1.1zM167.7 64.8h1.1v1.1h-1.1zM170.6 73.6h1.1v1.1h-1.1zM164.1 73.5h1.1v1.1h-1.1zM171.3 55.0h1.1v1.1h-1.1zM173.4 51.7h1.1v1.1h-1.1zM169.8 66.4h1.1v1.1h-1.1zM168.5 68.2h1.1v1.1h-1.1zM169.4 63.7h1.1v1.1h-1.1zM165.4 62.9h1.1v1.1h-1.1zM168.6 59.4h1.1v1.1h-1.1zM169.7 65.5h1.1v1.1h-1.1zM168.5 49.4h1.1v1.1h-1.1zM168.3 67.6h1.1v1.1h-1.1zM169.6 71.7h1.1v1.1h-1.1zM173.8 69.4h1.1v1.1h-1.1zM172.9 55.5h1.1v1.1h-1.1zM168.3 59.2h1.1v1.1h-1.1zM170.9 66.1h1.1v1.1h-1.1zM170.9 62.7h1.1v1.1h-1.1zM172.2 66.3h1.1v1.1h-1.1zM170.8 66.8h1.1v1.1h-1.1zM171.1 54.9h1.1v1.1h-1.1zM171.2 67.9h1.1v1.1h-1.1zM170.7 60.3h1.1v1.1h-1.1zM180.2 60.0h1.1v1.1h-1.1zM169.1 66.0h1.1v1.1h-1.1zM166.2 63.8h1.1v1.1h-1.1zM174.5 73.5h1.1v1.1h-1.1zM171.3 69.5h1.1v1.1h-1.1zM168.6 72.0h1.1v1.1h-1.1zM171.0 60.4h1.1v1.1h-1.1zM168.7 71.6h1.1v1.1h-1.1zM170.0 69.9h1.1v1.1h-1.1zM160.7 71.9h1.1v1.1h-1.1zM175.4 77.4h1.1v1.1h-1.1zM171.4 56.7h1.1v1.1h-1.1zM173.8 56.1h1.1v1.1h-1.1zM174.3 60.4h1.1v1.1h-1.1zM170.6 76.2h1.1v1.1h-1.1zM162.8 64.4h1.1v1.1h-1.1zM171.4 51.7h1.1v1.1h-1.1zM168.9 61.6h1.1v1.1h-1.1zM177.7 52.4h1.1v1.1h-1.1zM169.4 81.7h1.1v1.1h-1.1zM171.3 69.1h1.1v1.1h-1.1zM173.2 54.3h1.1v1.1h-1.1zM171.4 67.7h1.1v1.1h-1.1zM172.0 68.2h1.1v1.1h-1.1zM179.1 54.4h1.1v1.1h-1.1zM167.4 59.8h1.1v1.1h-1.1zM166.6 69.1h1.1v1.1h-1.1zM165.3 78.1h1.1v1.1h-1.1zM173.9 71.9h1.1v1.1h-1.1zM167.7 68.7h1.1v1.1h-1.1zM175.8 56.0h1.1v1.1h-1.1zM170.0 70.2h1.1v1.1h-1.1zM167.5 77.2h1.1v1.1h-1.1zM176.7 58.4h1.1v1.1h-1.1zM172.9 57.2h1.1v1.1h-1.1zM174.6 57.4h1.1v1.1h-1.1zM172.8 68.1h1.1v1.1h-1.1zM174.2 63.8h1.1v1.1h-1.1zM161.3 77.2h1.1v1.1h-1.1zM166.6 75.2h1.1v1.1h-1.1zM170.4 70.0h1.1v1.1h-1.1zM176.0 68.6h1.1v1.1h-1.1zM178.9 53.1h1.1v1.1h-1.1zM174.1 62.9h1.1v1.1h-1.1zM170.0 63.9h1.1v1.1h-1.1zM167.8 78.0h1.1v1.1h-1.1zM164.0 62.5h1.1v1.1h-1.1zM165.3 72.9h1.1v1.1h-1.1zM168.0 67.4h1.1v1.1h-1.1zM167.5 69.1h1.1v1.1h-1.1zM175.0 61.7h1.1v1.1h-1.1zM174.0 52.3h1.1v1.1h-1.1zM169.5 71.4h1.1v1.1h-1.1zM165.9 72.7h1.1v1.1h-1.1zM167.7 46.6h1.1v1.1h-1.1zM166.8 58.6h1.1v1.1h-1.1zM170.8 63.4h1.1v1.1h-1.1zM168.6 69.9h1.1v1.1h-1.1zM171.9 53.1h1.1v1.1h-1.1zM161.2 80.2h1.1v1.1h-1.1zM162.8 60.2h1.1v1.1h-1.1zM174.4 69.4h1.1v1.1h-1.1zM167.6 63.2h1.1v1.1h-1.1zM170.6 74.8h1.1v1.1h-1.1zM165.6 69.4h1.1v1.1h-1.1zM168.8 73.4h1.1v1.1h-1.1zM176.1 62.5h1.1v1.1h-1.1zM164.5 65.8h1.1v1.1h-1.1zM175.0 71.4h1.1v1.1h-1.1zM165.6 84.1h1.1v1.1h-1.1zM164.8 70.4h1.1v1.1h-1.1zM168.4 63.8h1.1v1.1h-1.1zM167.2 76.6h1.1v1.1h-1.1zM168.5 58.6h1.1v1.1h-1.1zM163.8 66.4h1.1v1.1h-1.1zM167.9 67.0h1.1v1.1h-1.1zM167.6 60.0h1.1v1.1h-1.1zM174.5 63.6h1.1v1.1h-1.1zM171.4 69.0h1.1v1.1h-1.1zM173.0 50.8h1.1v1.1h-1.1zM173.5 66.4h1.1v1.1h-1.1zM178.7 48.3h1.1v1.1h-1.1zM169.9 44.6h1.1v1.1h-1.1zM165.0 71.7h1.1v1.1h-1.1zM172.5 64.3h1.1v1.1h-1.1zM169.2 70.4h1.1v1.1h-1.1zM168.5 67.0h1.1v1.1h-1.1zM176.2 46.1h1.1v1.1h-1.1zM165.9 74.9h1.1v1.1h-1.1zM169.5 62.4h1.1v1.1h-1.1zM169.5 59.4h1.1v1.1h-1.1zM175.0 62.9h1.1v1.1h-1.1zM174.3 37.3h1.1v1.1h-1.1zM173.2 47.2h1.1v1.1h-1.1zM162.3 68.8h1.1v1.1h-1.1zM177.5 48.9h1.1v1.1h-1.1zM172.4 68.6h1.1v1.1h-1.1zM166.0 69.3h1.1v1.1h-1.1zM167.7 52.4h1.1v1.1h-1.1zM168.2 53.4h1.1v1.1h-1.1zM176.7 53.8h1.1v1.1h-1.1zM168.8 55.0h1.1v1.1h-1.1zM172.0 61.4h1.1v1.1h-1.1zM175.2 59.0h1.1v1.1h-1.1zM167.2 58.6h1.1v1.1h-1.1zM172.8 56.3h1.1v1.1h-1.1zM167.2 79.2h1.1v1.1h-1.1zM168.4 63.7h1.1v1.1h-1.1zM176.7 59.9h1.1v1.1h-1.1zM170.2 54.0h1.1v1.1h-1.1zM170.6 68.5h1.1v1.1h-1.1zM169.9 64.1h1.1v1.1h-1.1zM172.8 72.3h1.1v1.1h-1.1zM165.7 62.3h1.1v1.1h-1.1zM169.1 69.9h1.1v1.1h-1.1zM171.2 58.2h1.1v1.1h-1.1zM173.1 48.6h1.1v1.1h-1.1zM171.8 58.8h1.1v1.1h-1.1zM174.5 55.7h1.1v1.1h-1.1zM171.3 55.2h1.1v1.1h-1.1zM165.1 68.4h1.1v1.1h-1.1zM167.8 66.9h1.1v1.1h-1.1zM166.4 63.4h1.1v1.1h-1.1zM165.8 58.0h1.1v1.1h-1.1zM167.3 68.0h1.1v1.1h-1.1zM171.5 62.4h1.1v1.1h-1.1zM172.9 66.0h1.1v1.1h-1.1zM170.5 70.5h1.1v1.1h-1.1zM170.9 61.1h1.1v1.1h-1.1zM172.6 60.5h1.1v1.1h-1.1zM169.2 73.1h1.1v1.1h-1.1zM174.3 61.3h1.1v1.1h-1.1zM166.1 61.8h1.1v1.1h-1.1zM167.4 72.6h1.1v1.1h-1.1zM169.6 61.5h1.1v1.1h-1.1zM174.1 60.4h1.1v1.1h-1.1zM165.8 77.6h1.1v1.1h-1.1zM174.1 70.2h1.1v1.1h-1.1zM173.7 55.8h1.1v1.1h-1.1zM172.2 64.6h1.1v1.1h-1.1zM172.4 59.5h1.1v1.1h-1.1zM170.8 62.0h1.1v1.1h-1.1zM168.2 75.7h1.1v1.1h-1.1zM175.6 50.2h1.1v1.1h-1.1zM170.8 49.5h1.1v1.1h-1.1zM166.4 67.4h1.1v1.1h-1.1zM173.3 59.0h1.1v1.1h-1.1zM173.2 57.6h1.1v1.1h-1.1zM168.9 50.5h1.1v1.1h-1.1zM164.1 74.4h1.1v1.1h-1.1zM162.9 72.5h1.1v1.1h-1.1zM175.5 63.4h1.1v1.1h-1.1zM171.7 58.4h1.1v1.1h-1.1zM168.8 68.9h1.1v1.1h-1.1zM168.1 71.8h1.1v1.1h-1.1zM173.7 67.5h1.1v1.1h-1.1zM171.7 63.3h1.1v1.1h-1.1zM174.3 54.7h1.1v1.1h-1.1zM171.4 65.6h1.1v1.1h-1.1zM162.4 80.4h1.1v1.1h-1.1zM169.1 55.4h1.1v1.1h-1.1zM176.0 47.8h1.1v1.1h-1.1zM171.3 50.2h1.1v1.1h-1.1zM167.4 61.5h1.1v1.1h-1.1zM168.9 72.9h1.1v1.1h-1.1zM170.4 74.1h1.1v1.1h-1.1zM173.6 60.2h1.1v1.1h-1.1zM175.4 60.6h1.1v1.1h-1.1zM164.7 75.5h1.1v1.1h-1.1zM172.6 66.1h1.1v1.1h-1.1zM171.0 71.5h1.1v1.1h-1.1zM166.0 61.4h1.1v1.1h-1.1zM166.1 63.3h1.1v1.1h-1.1zM164.9 74.0h1.1v1.1h-1.1zM174.2 57.3h1.1v1.1h-1.1zM173.2 53.5h1.1v1.1h-1.1zM169.3 68.0h1.1v1.1h-1.1zM175.9 47.8h1.1v1.1h-1.1zM168.1 67.4h1.1v1.1h-1.1zM168.8 73.4h1.1v1.1h-1.1zM164.8 66.5h1.1v1.1h-1.1zM167.7 64.4h1.1v1.1h-1.1zM170.2 69.6h1.1v1.1h-1.1zM168.0 64.4h1.1v1.1h-1.1zM169.7 50.7h1.1v1.1h-1.1zM172.5 63.6h1.1v1.1h-1.1zM166.9 54.8h1.1v1.1h-1.1zM166.8 76.3h1.1v1.1h-1.1zM172.2 71.1h1.1v1.1h-1.1zM164.5 60.9h1.1v1.1h-1.1zM171.2 67.2h1.1v1.1h-1.1zM172.4 61.9h1.1v1.1h-1.1zM173.0 77.4h1.1v1.1h-1.1zM172.4 55.3h1.1v1.1h-1.1zM178.9 60.9h1.1v1.1h-1.1zM170.1 80.4h1.1v1.1h-1.1zM166.5 64.9h1.1v1.1h-1.1zM168.0 67.4h1.1v1.1h-1.1zM166.9 79.9h1.1v1.1h-1.1zM172.5 64.0h1.1v1.1h-1.1zM175.0 62.3h1.1v1.1h-1.1zM163.9 81.6h1.1v1.1h-1.1zM168.8 58.6h1.1v1.1h-1.1zM173.1 54.8h1.1v1.1h-1.1zM160.6 70.1h1.1v1.1h-1.1zM169.0 58.2h1.1v1.1h-1.1zM171.5 55.0h1.1v1.1h-1.1zM166.3 63.7h1.1v1.1h-1.1zM177.0 71.9h1.1v1.1h-1.1zM176.6 51.8h1.1v1.1h-1.1zM173.2 53.6h1.1v1.1h-1.1zM173.6 62.3h1.1v1.1h-1.1zM170.8 62.8h1.1v1.1h-1.1zM172.0 50.3h1.1v1.1h-1.1zM175.7 52.6h1.1v1.1h-1.1zM167.1 59.8h1.1v1.1h-1.1zM167.4 64.9h1.1v1.1h-1.1zM173.3 66.5h1.1v1.1h-1.1zM171.1 63.8h1.1v1.1h-1.1zM177.8 49.0h1.1v1.1h-1.1zM173.9 56.1h1.1v1.1h-1.1zM166.2 62.3h1.1v1.1h-1.1zM167.7 67.9h1.1v1.1h-1.1zM179.8 45.3h1.1v1.1h-1.1zM165.5 79.6h1.1v1.1h-1.1zM170.0 76.3h1.1v1.1h-1.1zM174.2 51.7h1.1v1.1h-1.1zM164.9 68.2h1.1v1.1h-1.1zM175.5 58.4h1.1v1.1h-1.1zM168.9 65.4h1.1v1.1h-1.1zM165.2 58.8h1.1v1.1h-1.1zM170.9 83.1h1.1v1.1h-1.1zM165.7 78.5h1.1v1.1h-1.1zM170.5 56.2h1.1v1.1h-1.1zM160.4 69.1h1.1v1.1h-1.1zM163.6 82.4h1.1v1.1h-1.1zM171.1 65.3h1.1v1.1h-1.1zM160.6 74.1h1.1v1.1h-1.1zM169.6 61.8h1.1v1.1h-1.1zM160.6 68.9h1.1v1.1h-1.1zM175.3 59.4h1.1v1.1h-1.1zM169.8 66.8h1.1v1.1h-1.1zM173.5 65.3h1.1v1.1h-1.1zM177.0 63.2h1.1v1.1h-1.1zM169.4 59.0h1.1v1.1h-1.1zM163.6 54.3h1.1v1.1h-1.1zM173.3 66.7h1.1v1.1h-1.1zM166.8 65.6h1.1v1.1h-1.1zM164.1 59.1h1.1v1.1h-1.1zM170.6 69.8h1.1v1.1h-1.1zM165.6 70.3h1.1v1.1h-1.1zM177.9 61.8h1.1v1.1h-1.1zM176.7 51.4h1.1v1.1h-1.1zM162.2 66.6h1.1v1.1h-1.1zM170.1 65.2h1.1v1.1h-1.1zM169.1 60.5h1.1v1.1h-1.1zM169.2 78.5h1.1v1.1h-1.1zM173.6 49.7h1.1v1.1h-1.1zM173.4 69.8h1.1v1.1h-1.1zM172.4 65.7h1.1v1.1h-1.1zM178.3 66.5h1.1v1.1h-1.1zM176.6 48.7h1.1v1.1h-1.1zM170.1 57.3h1.1v1.1h-1.1zM169.5 66.4h1.1v1.1h-1.1zM163.7 77.1h1.1v1.1h-1.1zM167.8 58.7h1.1v1.1h-1.1zM174.2 53.4h1.1v1.1h-1.1zM170.9 69.3h1.1v1.1h-1.1zM164.9 79.0h1.1v1.1h-1.1zM170.1 65.9h1.1v1.1h-1.1zM171.1 48.7h1.1v1.1h-1.1zM169.0 60.2h1.1v1.1h-1.1zM167.0 69.4h1.1v1.1h-1.1zM164.9 51.8h1.1v1.1h-1.1zM160.9 72.8h1.1v1.1h-1.1zM169.7 58.7h1.1v1.1h-1.1zM164.5 69.9h1.1v1.1h-1.1zM168.5 65.0h1.1v1.1h-1.1zM160.6 71.2h1.1v1.1h-1.1zM170.5 68.5h1.1v1.1h-1.1zM175.2 63.2h1.1v1.1h-1.1zM168.2 69.3h1.1v1.1h-1.1zM172.5 61.9h1.1v1.1h-1.1zM171.8 59.4h1.1v1.1h-1.1zM170.7 72.0h1.1v1.1h-1.1zM166.0 79.1h1.1v1.1h-1.1zM165.7 60.1h1.1v1.1h-1.1zM177.4 61.8h1.1v1.1h-1.1zM161.6 73.5h1.1v1.1h-1.1zM175.2 54.2h1.1v1.1h-1.1zM175.6 55.9h1.1v1.1h-1.1zM166.2 61.0h1.1v1.1h-1.1zM171.4 54.0h1.1v1.1h-1.1zM171.6 54.9h1.1v1.1h-1.1zM170.7 63.4h1.1v1.1h-1.1zM174.1 60.5h1.1v1.1h-1.1zM169.0 51.3h1.1v1.1h-1.1zM165.9 76.0h1.1v1.1h-1.1zM174.9 59.1h1.1v1.1h-1.1zM176.5 54.9h1.1v1.1h-1.1zM174.9 61.4h1.1v1.1h-1.1zM171.6 69.5h1.1v1.1h-1.1zM168.7 66.0h1.1v1.1h-1.1zM166.9 61.9h1.1v1.1h-1.1zM172.7 65.0h1.1v1.1h-1.1zM164.4 71.3h1.1v1.1h-1.1zM166.6 55.3h1.1v1.1h-1.1zM174.6 53.9h1.1v1.1h-1.1zM173.2 74.2h1.1v1.1h-1.1zM169.8 58.4h1.1v1.1h-1.1zM169.2 50.6h1.1v1.1h-1.1zM170.5 69.2h1.1v1.1h-1.1zM171.0 66.1h1.1v1.1h-1.1zM167.6 66.0h1.1v1.1h-1.1zM165.3 62.2h1.1v1.1h-1.1zM172.4 76.0h1.1v1.1h-1.1zM169.6 60.3h1.1v1.1h-1.1zM171.0 79.8h1.1v1.1h-1.1zM166.3 58.5h1.1v1.1h-1.1zM168.4 73.9h1.1v1.1h-1.1zM166.0 68.1h1.1v1.1h-1.1zM163.8 83.0h1.1v1.1h-1.1zM172.3 62.9h1.1v1.1h-1.1zM166.8 72.0h1.1v1.1h-1.1zM175.4 55.3h1.1v1.1h-1.1zM174.4 52.7h1.1v1.1h-1.1zM170.9 52.1h1.1v1.1h-1.1zM167.5 56.6h1.1v1.1h-1.1zM165.8 67.0h1.1v1.1h-1.1zM173.8 62.4h1.1v1.1h-1.1zM164.6 69.1h1.1v1.1h-1.1zM168.0 45.5h1.1v1.1h-1.1zM171.4 69.8h1.1v1.1h-1.1zM174.4 62.8h1.1v1.1h-1.1zM167.3 58.1h1.1v1.1h-1.1zM174.2 57.8h1.1v1.1h-1.1zM171.3 51.3h1.1v1.1h-1.1zM164.4 69.4h1.1v1.1h-1.1zM174.8 54.4h1.1v1.1h-1.1zM168.0 57.8h1.1v1.1h-1.1zM175.1 54.4h1.1v1.1h-1.1zM175.0 45.6h1.1v1.1h-1.1zM165.1 65.8h1.1v1.1h-1.1zM176.3 54.9h1.1v1.1h-1.1zM165.9 69.4h1.1v1.1h-1.1zM170.4 58.7h1.1v1.1h-1.1zM171.8 65.7h1.1v1.1h-1.1zM172.4 71.3h1.1v1.1h-1.1zM168.7 62.0h1.1v1.1h-1.1zM173.5 52.3h1.1v1.1h-1.1zM164.8 70.7h1.1v1.1h-1.1zM162.6 70.3h1.1v1.1h-1.1zM171.8 62.7h1.1v1.1h-1.1zM171.2 68.1h1.1v1.1h-1.1zM175.6 61.5h1.1v1.1h-1.1zM170.2 61.3h1.1v1.1h-1.1zM174.7 73.3h1.1v1.1h-1.1zM168.0 59.9h1.1v1.1h-1.1zM168.0 63.0h1.1v1.1h-1.1zM165.7 82.9h1.1v1.1h-1.1zM161.7 70.3h1.1v1.1h-1.1zM173.6 58.2h1.1v1.1h-1.1zM171.1 59.4h1.1v1.1h-1.1zM168.2 72.0h1.1v1.1h-1.1zM162.1 73.0h1.1v1.1h-1.1zM165.6 75.7h1.1v1.1h-1.1zM169.0 74.3h1.1v1.1h-1.1zM169.8 73.2h1.1v1.1h-1.1zM172.6 56.8h1.1v1.1h-1.1zM171.1 70.2h1.1v1.1h-1.1zM182.5 49.1h1.1v1.1h-1.1zM167.3 72.3h1.1v1.1h-1.1zM166.7 60.5h1.1v1.1h-1.1zM174.4 77.5h1.1v1.1h-1.1zM164.0 74.6h1.1v1.1h-1.1zM172.7 71.3h1.1v1.1h-1.1zM171.2 66.1h1.1v1.1h-1.1zM168.7 58.6h1.1v1.1h-1.1zM172.7 65.6h1.1v1.1h-1.1zM177.7 62.8h1.1v1.1h-1.1zM162.9 58.6h1.1v1.1h-1.1zM170.5 67.2h1.1v1.1h-1.1zM172.7 57.0h1.1v1.1h-1.1zM177.2 59.7h1.1v1.1h-1.1zM173.6 62.1h1.1v1.1h-1.1zM163.0 74.3h1.1v1.1h-1.1zM163.8 54.2h1.1v1.1h-1.1zM172.8 61.2h1.1v1.1h-1.1zM173.3 63.7h1.1v1.1h-1.1zM163.8 81.2h1.1v1.1h-1.1zM170.1 62.3h1.1v1.1h-1.1zM168.5 56.5h1.1v1.1h-1.1zM171.4 69.1h1.1v1.1h-1.1zM172.1 58.0h1.1v1.1h-1.1zM176.9 50.4h1.1v1.1h-1.1zM169.9 61.4h1.1v1.1h-1.1zM167.2 64.2h1.1v1.1h-1.1zM170.1 56.5h1.1v1.1h-1.1zM175.0 71.8h1.1v1.1h-1.1zM174.5 65.5h1.1v1.1h-1.1zM172.0 71.3h1.1v1.1h-1.1zM169.1 84.7h1.1v1.1h-1.1zM169.1 65.8h1.1v1.1h-1.1zM178.6 34.8h1.1v1.1h-1.1zM165.6 62.7h1.1v1.1h-1.1zM174.0 59.8h1.1v1.1h-1.1zM171.4 75.7h1.1v1.1h-1.1zM165.7 75.3h1.1v1.1h-1.1zM175.5 69.5h1.1v1.1h-1.1zM163.6 75.1h1.1v1.1h-1.1zM170.8 60.7h1.1v1.1h-1.1zM172.2 59.6h1.1v1.1h-1.1zM172.4 71.5h1.1v1.1h-1.1zM173.3 70.0h1.1v1.1h-1.1zM168.1 61.9h1.1v1.1h-1.1zM174.5 61.5h1.1v1.1h-1.1zM181.2 64.9h1.1v1.1h-1.1zM165.7 72.9h1.1v1.1h-1.1zM173.2 64.5h1.1v1.1h-1.1zM168.7 67.3h1.1v1.1h-1.1zM171.6 71.1h1.1v1.1h-1.1zM168.4 67.3h1.1v1.1h-1.1zM171.6 71.2h1.1v1.1h-1.1zM161.9 53.6h1.1v1.1h-1.1zM168.4 61.3h1.1v1.1h-1.1zM168.9 71.8h1.1v1.1h-1.1zM172.9 63.6h1.1v1.1h-1.1zM166.4 78.6h1.1v1.1h-1.1zM167.7 65.9h1.1v1.1h-1.1zM175.1 68.4h1.1v1.1h-1.1zM162.5 65.1h1.1v1.1h-1.1zM169.4 62.7h1.1v1.1h-1.1zM173.0 68.9h1.1v1.1h-1.1zM167.5 71.1h1.1v1.1h-1.1zM171.8 65.3h1.1v1.1h-1.1zM170.9 66.4h1.1v1.1h-1.1zM170.4 59.9h1.1v1.1h-1.1zM172.8 56.1h1.1v1.1h-1.1zM163.1 73.5h1.1v1.1h-1.1zM169.7 63.6h1.1v1.1h-1.1zM170.0 64.1h1.1v1.1h-1.1zM170.4 64.6h1.1v1.1h-1.1zM165.5 70.9h1.1v1.1h-1.1zM165.7 71.9h1.1v1.1h-1.1zM166.4 53.3h1.1v1.1h-1.1zM174.3 63.8h1.1v1.1h-1.1zM167.3 66.4h1.1v1.1h-1.1zM166.7 63.6h1.1v1.1h-1.1zM163.9 58.1h1.1v1.1h-1.1zM167.0 67.8h1.1v1.1h-1.1zM175.6 57.8h1.1v1.1h-1.1zM177.5 60.7h1.1v1.1h-1.1zM169.0 42.3h1.1v1.1h-1.1zM176.0 64.8h1.1v1.1h-1.1zM170.0 57.2h1.1v1.1h-1.1zM163.5 74.1h1.1v1.1h-1.1zM166.0 78.7h1.1v1.1h-1.1zM175.4 44.4h1.1v1.1h-1.1zM174.3 61.8h1.1v1.1h-1.1zM166.0 76.7h1.1v1.1h-1.1zM166.8 73.3h1.1v1.1h-1.1zM172.3 57.8h1.1v1.1h-1.1zM173.7 59.5h1.1v1.1h-1.1zM172.5 73.2h1.1v1.1h-1.1zM169.3 69.1h1.1v1.1h-1.1zM173.1 62.3h1.1v1.1h-1.1zM174.1 63.0h1.1v1.1h-1.1zM174.9 56.8h1.1v1.1h-1.1zM169.9 67.5h1.1v1.1h-1.1zM168.8 59.8h1.1v1.1h-1.1zM166.9 69.5h1.1v1.1h-1.1zM167.0 66.9h1.1v1.1h-1.1zM174.9 68.5h1.1v1.1h-1.1zM164.6 63.5h1.1v1.1h-1.1zM174.8 62.7h1.1v1.1h-1.1zM172.9 70.3h1.1v1.1h-1.1zM172.6 62.3h1.1v1.1h-1.1zM169.3 61.4h1.1v1.1h-1.1zM169.5 68.5h1.1v1.1h-1.1zM172.7 62.0h1.1v1.1h-1.1zM169.8 67.4h1.1v1.1h-1.1zM166.7 56.1h1.1v1.1h-1.1zM168.2 61.6h1.1v1.1h-1.1zM170.2 61.7h1.1v1.1h-1.1zM165.9 68.8h1.1v1.1h-1.1zM175.4 50.8h1.1v1.1h-1.1zM173.2 54.8h1.1v1.1h-1.1zM177.5 62.1h1.1v1.1h-1.1zM169.0 64.4h1.1v1.1h-1.1zM170.0 63.5h1.1v1.1h-1.1zM175.3 67.6h1.1v1.1h-1.1zM170.7 74.3h1.1v1.1h-1.1zM163.1 77.2h1.1v1.1h-1.1zM170.6 72.8h1.1v1.1h-1.1zM165.6 70.1h1.1v1.1h-1.1zM173.2 60.1h1.1v1.1h-1.1zM177.1 71.1h1.1v1.1h-1.1zM169.2 65.5h1.1v1.1h-1.1zM171.0 74.4h1.1v1.1h-1.1zM169.6 74.8h1.1v1.1h-1.1zM178.5 55.4h1.1v1.1h-1.1zM171.1 55.9h1.1v1.1h-1.1zM167.4 76.2h1.1v1.1h-1.1zM175.3 56.2h1.1v1.1h-1.1zM167.1 72.4h1.1v1.1h-1.1zM168.9 62.9h1.1v1.1h-1.1zM175.9 49.4h1.1v1.1h-1.1zM172.4 67.8h1.1v1.1h-1.1zM174.8 56.7h1.1v1.1h-1.1zM169.3 58.5h1.1v1.1h-1.1zM171.2 65.0h1.1v1.1h-1.1zM166.7 79.1h1.1v1.1h-1.1zM176.7 59.5h1.1v1.1h-1.1zM164.2 77.7h1.1v1.1h-1.1zM166.2 75.3h1.1v1.1h-1.1zM177.3 61.3h1.1v1.1h-1.1zM169.4 64.6h1.1v1.1h-1.1zM169.9 55.2h1.1v1.1h-1.1zM167.1 70.8h1.1v1.1h-1.1zM169.5 62.0h1.1v1.1h-1.1zM172.1 52.4h1.1v1.1h-1.1zM181.2 46.3h1.1v1.1h-1.1zM166.9 68.2h1.1v1.1h-1.1zM164.3 67.8h1.1v1.1h-1.1zM176.9 58.3h1.1v1.1h-1.1zM173.9 55.2h1.1v1.1h-1.1zM172.1 65.4h1.1v1.1h-1.1zM168.0 75.7h1.1v1.1h-1.1zM169.0 75.8h1.1v1.1h-1.1zM175.6 54.9h1.1v1.1h-1.1zM170.3 68.5h1.1v1.1h-1.1zM162.4 73.8h1.1v1.1h-1.1zM169.9 67.3h1.1v1.1h-1.1zM167.2 63.9h1.1v1.1h-1.1zM172.3 61.8h1.1v1.1h-1.1zM175.8 46.7h1.1v1.1h-1.1zM177.9 56.3h1.1v1.1h-1.1zM165.2 54.1h1.1v1.1h-1.1zM166.3 67.8h1.1v1.1h-1.1zM166.7 65.6h1.1v1.1h-1.1zM162.0 81.5h1.1v1.1h-1.1zM167.8 80.9h1.1v1.1h-1.1zM165.4 68.6h1.1v1.1h-1.1zM165.8 68.0h1.1v1.1h-1.1zM176.6 51.7h1.1v1.1h-1.1zM169.4 53.4h1.1v1.1h-1.1zM167.0 56.6h1.1v1.1h-1.1zM170.6 51.2h1.1v1.1h-1.1zM169.6 68.7h1.1v1.1h-1.1zM167.3 58.2h1.1v1.1h-1.1zM171.1 62.2h1.1v1.1h-1.1zM166.2 70.1h1.1v1.1h-1.1zM171.8 70.6h1.1v1.1h-1.1zM165.1 80.3h1.1v1.1h-1.1zM177.5 62.5h1.1v1.1h-1.1zM167.3 73.8h1.1v1.1h-1.1zM166.8 66.6h1.1v1.1h-1.1zM172.3 58.3h1.1v1.1h-1.1zM173.4 50.9h1.1v1.1h-1.1zM173.4 47.1h1.1v1.1h-1.1zM174.8 78.8h1.1v1.1h-1.1zM174.0 67.8h1.1v1.1h-1.1zM171.0 75.6h1.1v1.1h-1.1zM171.8 72.7h1.1v1.1h-1.1zM166.3 66.7h1.1v1.1h-1.1zM171.5 53.8h1.1v1.1h-1.1zM165.5 66.5h1.1v1.1h-1.1zM177.4 53.8h1.1v1.1h-1.1zM173.1 77.9h1.1v1.1h-1.1zM170.3 59.8h1.1v1.1h-1.1zM167.9 72.1h1.1v1.1h-1.1zM171.8 54.5h1.1v1.1h-1.1zM176.6 47.3h1.1v1.1h-1.1zM168.2 73.7h1.1v1.1h-1.1zM169.7 70.8h1.1v1.1h-1.1zM170.5 70.5h1.1v1.1h-1.1zM173.0 57.3h1.1v1.1h-1.1zM169.9 63.2h1.1v1.1h-1.1zM171.0 78.7h1.1v1.1h-1.1zM173.7 58.2h1.1v1.1h-1.1zM168.4 61.7h1.1v1.1h-1.1zM174.5 68.1h1.1v1.1h-1.1zM172.1 57.6h1.1v1.1h-1.1zM172.9 67.3h1.1v1.1h-1.1zM170.1 64.8h1.1v1.1h-1.1zM176.7 64.3h1.1v1.1h-1.1zM173.4 75.9h1.1v1.1h-1.1zM168.6 71.4h1.1v1.1h-1.1zM172.0 57.0h1.1v1.1h-1.1zM171.7 56.2h1.1v1.1h-1.1zM172.2 64.6h1.1v1.1h-1.1zM170.5 71.4h1.1v1.1h-1.1zM159.0 63.5h1.1v1.1h-1.1zM163.9 63.6h1.1v1.1h-1.1zM167.2 64.0h1.1v1.1h-1.1zM179.3 51.2h1.1v1.1h-1.1zM171.3 63.5h1.1v1.1h-1.1zM162.4 67.5h1.1v1.1h-1.1zM171.8 59.8h1.1v1.1h-1.1zM173.4 48.7h1.1v1.1h-1.1zM168.1 60.0h1.1v1.1h-1.1zM169.4 63.0h1.1v1.1h-1.1zM165.6 67.4h1.1v1.1h-1.1zM172.1 52.3h1.1v1.1h-1.1zM168.6 60.0h1.1v1.1h-1.1zM172.3 68.8h1.1v1.1h-1.1zM169.3 63.8h1.1v1.1h-1.1zM166.4 81.1h1.1v1.1h-1.1zM167.3 67.2h1.1v1.1h-1.1zM175.3 56.8h1.1v1.1h-1.1zM170.8 65.5h1.1v1.1h-1.1zM167.5 68.2h1.1v1.1h-1.1zM171.4 74.4h1.1v1.1h-1.1zM169.4 65.4h1.1v1.1h-1.1zM181.3 57.2h1.1v1.1h-1.1zM169.2 71.6h1.1v1.1h-1.1zM169.5 69.6h1.1v1.1h-1.1zM169.3 70.4h1.1v1.1h-1.1zM175.5 63.4h1.1v1.1h-1.1zM171.3 63.7h1.1v1.1h-1.1zM169.1 63.4h1.1v1.1h-1.1zM164.8 69.0h1.1v1.1h-1.1zM172.4 79.8h1.1v1.1h-1.1zM177.2 57.3h1.1v1.1h-1.1zM177.5 59.6h1.1v1.1h-1.1zM165.9 79.2h1.1v1.1h-1.1zM164.8 69.9h1.1v1.1h-1.1zM171.8 63.0h1.1v1.1h-1.1zM166.5 66.6h1.1v1.1h-1.1zM166.4 72.2h1.1v1.1h-1.1zM178.0 53.8h1.1v1.1h-1.1zM169.5 60.9h1.1v1.1h-1.1zM169.1 53.6h1.1v1.1h-1.1zM171.3 62.4h1.1v1.1h-1.1zM166.1 57.9h1.1v1.1h-1.1zM175.2 54.5h1.1v1.1h-1.1zM163.5 76.2h1.1v1.1h-1.1zM178.9 51.9h1.1v1.1h-1.1zM164.9 65.8h1.1v1.1h-1.1zM167.0 60.7h1.1v1.1h-1.1zM167.6 68.2h1.1v1.1h-1.1zM167.0 43.3h1.1v1.1h-1.1zM163.9 71.2h1.1v1.1h-1.1zM174.0 49.7h1.1v1.1h-1.1zM170.5 70.3h1.1v1.1h-1.1zM170.4 61.0h1.1v1.1h-1.1zM169.1 74.4h1.1v1.1h-1.1zM169.8 68.6h1.1v1.1h-1.1zM171.2 60.8h1.1v1.1h-1.1zM166.7 65.2h1.1v1.1h-1.1zM170.0 61.7h1.1v1.1h-1.1zM172.6 69.0h1.1v1.1h-1.1zM177.2 51.8h1.1v1.1h-1.1zM173.8 59.7h1.1v1.1h-1.1zM169.7 56.2h1.1v1.1h-1.1zM172.7 72.0h1.1v1.1h-1.1zM170.7 53.9h1.1v1.1h-1.1zM171.6 60.2h1.1v1.1h-1.1zM179.7 53.6h1.1v1.1h-1.1zM164.8 60.1h1.1v1.1h-1.1zM170.2 65.1h1.1v1.1h-1.1zM168.2 81.9h1.1v1.1h-1.1zM170.6 59.2h1.1v1.1h-1.1zM163.8 64.3h1.1v1.1h-1.1zM174.1 62.7h1.1v1.1h-1.1zM174.5 65.4h1.1v1.1h-1.1zM175.0 68.3h1.1v1.1h-1.1zM168.4 57.7h1.1v1.1h-1.1zM169.3 48.1h1.1v1.1h-1.1zM169.4 71.5h1.1v1.1h-1.1zM177.4 65.5h1.1v1.1h-1.1zM172.3 54.6h1.1v1.1h-1.1zM173.0 68.2h1.1v1.1h-1.1zM166.8 69.1h1.1v1.1h-1.1zM176.9 49.1h1.1v1.1h-1.1zM172.7 65.9h1.1v1.1h-1.1zM170.1 60.2h1.1v1.1h-1.1zM172.9 78.4h1.1v1.1h-1.1zM179.5 56.3h1.1v1.1h-1.1zM166.1 70.8h1.1v1.1h-1.1zM168.0 56.8h1.1v1.1h-1.1zM159.9 77.5h1.1v1.1h-1.1zM173.1 68.8h1.1v1.1h-1.1zM172.2 60.8h1.1v1.1h-1.1zM167.7 68.7h1.1v1.1h-1.1zM165.1 73.4h1.1v1.1h-1.1zM170.9 56.3h1.1v1.1h-1.1zM175.3 64.1h1.1v1.1h-1.1zM173.4 61.1h1.1v1.1h-1.1zM161.4 66.3h1.1v1.1h-1.1zM163.3 71.6h1.1v1.1h-1.1zM169.6 47.0h1.1v1.1h-1.1zM170.6 67.8h1.1v1.1h-1.1zM173.7 54.1h1.1v1.1h-1.1zM177.0 52.8h1.1v1.1h-1.1zM170.8 57.0h1.1v1.1h-1.1zM167.2 70.7h1.1v1.1h-1.1zM167.0 68.0h1.1v1.1h-1.1zM177.0 50.5h1.1v1.1h-1.1zM167.4 59.7h1.1v1.1h-1.1zM167.7 66.0h1.1v1.1h-1.1zM162.1 68.0h1.1v1.1h-1.1zM173.5 63.3h1.1v1.1h-1.1zM165.7 62.7h1.1v1.1h-1.1zM167.3 68.2h1.1v1.1h-1.1zM168.5 69.9h1.1v1.1h-1.1zM165.6 75.5h1.1v1.1h-1.1zM164.9 53.3h1.1v1.1h-1.1zM175.8 52.0h1.1v1.1h-1.1zM175.9 54.7h1.1v1.1h-1.1zM173.0 56.5h1.1v1.1h-1.1zM168.6 65.0h1.1v1.1h-1.1zM171.0 60.7h1.1v1.1h-1.1zM177.9 66.2h1.1v1.1h-1.1zM164.9 70.7h1.1v1.1h-1.1zM170.4 74.9h1.1v1.1h-1.1zM178.9 58.0h1.1v1.1h-1.1zM171.5 74.5h1.1v1.1h-1.1zM169.9 66.0h1.1v1.1h-1.1zM161.5 56.3h1.1v1.1h-1.1zM180.9 51.0h1.1v1.1h-1.1zM168.0 65.8h1.1v1.1h-1.1zM168.6 78.1h1.1v1.1h-1.1zM164.3 62.6h1.1v1.1h-1.1zM176.6 54.0h1.1v1.1h-1.1zM165.9 79.5h1.1v1.1h-1.1zM173.8 69.8h1.1v1.1h-1.1zM161.8 60.3h1.1v1.1h-1.1zM172.6 61.8h1.1v1.1h-1.1zM172.1 55.8h1.1v1.1h-1.1zM172.1 61.6h1.1v1.1h-1.1zM169.6 63.0h1.1v1.1h-1.1zM172.6 66.7h1.1v1.1h-1.1zM166.7 61.7h1.1v1.1h-1.1zM173.3 60.6h1.1v1.1h-1.1zM172.6 71.6h1.1v1.1h-1.1zM166.3 65.7h1.1v1.1h-1.1zM173.7 78.9h1.1v1.1h-1.1zM168.2 71.4h1.1v1.1h-1.1zM171.6 51.4h1.1v1.1h-1.1zM171.8 66.6h1.1v1.1h-1.1zM172.3 64.3h1.1v1.1h-1.1zM172.8 60.1h1.1v1.1h-1.1zM170.2 71.4h1.1v1.1h-1.1zM168.4 70.7h1.1v1.1h-1.1zM166.2 55.7h1.1v1.1h-1.1zM171.3 80.0h1.1v1.1h-1.1zM171.6 63.4h1.1v1.1h-1.1zM165.3 65.7h1.1v1.1h-1.1zM176.7 52.5h1.1v1.1h-1.1zM171.3 68.6h1.1v1.1h-1.1zM174.7 55.1h1.1v1.1h-1.1zM175.9 52.2h1.1v1.1h-1.1zM175.3 66.6h1.1v1.1h-1.1zM163.3 74.0h1.1v1.1h-1.1zM176.0 59.8h1.1v1.1h-1.1zM180.5 57.9h1.1v1.1h-1.1zM168.8 74.1h1.1v1.1h-1.1zM160.3 70.0h1.1v1.1h-1.1zM170.3 63.8h1.1v1.1h-1.1zM166.0 65.7h1.1v1.1h-1.1zM169.0 54.9h1.1v1.1h-1.1zM171.9 53.4h1.1v1.1h-1.1zM179.1 54.6h1.1v1.1h-1.1zM168.6 60.6h1.1v1.1h-1.1zM168.6 70.6h1.1v1.1h-1.1zM174.0 62.3h1.1v1.1h-1.1zM169.1 63.9h1.1v1.1h-1.1zM171.7 70.6h1.1v1.1h-1.1zM173.6 46.5h1.1v1.1h-1.1zM175.7 74.0h1.1v1.1h-1.1zM170.6 67.1h1.1v1.1h-1.1zM171.1 55.2h1.1v1.1h-1.1zM169.9 61.8h1.1v1.1h-1.1zM171.8 51.3h1.1v1.1h-1.1zM168.1 68.5h1.1v1.1h-1.1zM168.7 63.7h1.1v1.1h-1.1zM163.8 60.2h1.1v1.1h-1.1zM173.0 53.7h1.1v1.1h-1.1zM163.5 65.7h1.1v1.1h-1.1zM166.5 67.2h1.1v1.1h-1.1zM167.6 68.7h1.1v1.1h-1.1zM172.9 51.2h1.1v1.1h-1.1zM171.0 61.2h1.1v1.1h-1.1zM173.8 60.9h1.1v1.1h-1.1zM167.1 70.7h1.1v1.1h-1.1zM172.7 71.4h1.1v1.1h-1.1zM173.0 68.8h1.1v1.1h-1.1zM171.1 72.0h1.1v1.1h-1.1zM171.7 64.9h1.1v1.1h-1.1zM165.3 84.0h1.1v1.1h-1.1zM171.1 62.1h1.1v1.1h-1.1zM169.3 63.4h1.1v1.1h-1.1zM174.0 54.9h1.1v1.1h-1.1zM162.9 64.5h1.1v1.1h-1.1zM164.3 64.5h1.1v1.1h-1.1zM168.3 73.7h1.1v1.1h-1.1zM175.4 68.7h1.1v1.1h-1.1zM171.4 53.7h1.1v1.1h-1.1zM167.7 63.5h1.1v1.1h-1.1zM163.2 62.6h1.1v1.1h-1.1zM168.9 69.3h1.1v1.1h-1.1zM169.1 64.5h1.1v1.1h-1.1zM169.1 59.4h1.1v1.1h-1.1zM164.1 63.3h1.1v1.1h-1.1zM175.5 66.9h1.1v1.1h-1.1zM174.1 56.2h1.1v1.1h-1.1zM177.3 59.1h1.1v1.1h-1.1zM173.0 65.7h1.1v1.1h-1.1zM164.7 71.5h1.1v1.1h-1.1zM170.1 65.5h1.1v1.1h-1.1zM172.1 64.3h1.1v1.1h-1.1zM168.1 67.5h1.1v1.1h-1.1zM168.9 64.1h1.1v1.1h-1.1zM171.7 51.0h1.1v1.1h-1.1zM169.3 59.2h1.1v1.1h-1.1zM167.7 73.8h1.1v1.1h-1.1zM164.3 63.4h1.1v1.1h-1.1zM165.3 53.2h1.1v1.1h-1.1zM174.1 44.9h1.1v1.1h-1.1zM163.7 63.4h1.1v1.1h-1.1zM171.0 63.1h1.1v1.1h-1.1zM162.6 81.0h1.1v1.1h-1.1zM172.0 56.7h1.1v1.1h-1.1zM174.9 70.7h1.1v1.1h-1.1zM166.4 73.5h1.1v1.1h-1.1zM169.5 69.5h1.1v1.1h-1.1zM173.8 55.7h1.1v1.1h-1.1zM173.5 66.3h1.1v1.1h-1.1zM168.8 56.7h1.1v1.1h-1.1zM174.7 61.9h1.1v1.1h-1.1zM169.1 69.5h1.1v1.1h-1.1zM174.6 51.5h1.1v1.1h-1.1zM170.5 72.4h1.1v1.1h-1.1zM169.7 78.2h1.1v1.1h-1.1zM169.9 70.8h1.1v1.1h-1.1zM176.7 63.2h1.1v1.1h-1.1zM172.4 80.1h1.1v1.1h-1.1zM168.8 80.0h1.1v1.1h-1.1zM175.5 57.6h1.1v1.1h-1.1zM173.7 67.8h1.1v1.1h-1.1zM171.6 65.7h1.1v1.1h-1.1zM173.9 69.9h1.1v1.1h-1.1zM166.9 67.3h1.1v1.1h-1.1zM174.7 58.7h1.1v1.1h-1.1zM169.9 60.4h1.1v1.1h-1.1zM167.6 66.3h1.1v1.1h-1.1zM169.5 80.7h1.1v1.1h-1.1zM172.2 73.6h1.1v1.1h-1.1zM171.3 76.2h1.1v1.1h-1.1zM167.6 69.4h1.1v1.1h-1.1zM171.9 63.3h1.1v1.1h-1.1zM170.1 59.4h1.1v1.1h-1.1zM172.5 53.5h1.1v1.1h-1.1zM172.4 64.3h1.1v1.1h-1.1zM170.1 66.9h1.1v1.1h-1.1zM174.4 59.8h1.1v1.1h-1.1zM173.9 50.6h1.1v1.1h-1.1zM167.4 45.8h1.1v1.1h-1.1zM180.1 50.4h1.1v1.1h-1.1zM168.6 76.7h1.1v1.1h-1.1zM165.1 77.0h1.1v1.1h-1.1zM174.7 73.6h1.1v1.1h-1.1zM177.2 71.5h1.1v1.1h-1.1zM166.7 67.6h1.1v1.1h-1.1zM172.1 52.8h1.1v1.1h-1.1zM160.6 81.9h1.1v1.1h-1.1zM168.7 63.3h1.1v1.1h-1.1zM167.9 64.5h1.1v1.1h-1.1zM170.7 60.5h1.1v1.1h-1.1zM169.7 51.2h1.1v1.1h-1.1zM167.2 65.8h1.1v1.1h-1.1zM175.2 74.9h1.1v1.1h-1.1zM175.7 70.0h1.1v1.1h-1.1zM173.4 53.1h1.1v1.1h-1.1zM175.6 46.4h1.1v1.1h-1.1zM165.6 77.3h1.1v1.1h-1.1zM169.0 73.8h1.1v1.1h-1.1zM172.5 52.4h1.1v1.1h-1.1zM169.8 60.4h1.1v1.1h-1.1zM170.0 81.7h1.1v1.1h-1.1zM168.8 60.5h1.1v1.1h-1.1zM170.8 61.2h1.1v1.1h-1.1zM166.0 63.8h1.1v1.1h-1.1zM170.9 67.8h1.1v1.1h-1.1zM166.6 62.1h1.1v1.1h-1.1zM162.3 70.1h1.1v1.1h-1.1zM167.6 61.0h1.1v1.1h-1.1zM170.4 59.0h1.1v1.1h-1.1zM171.1 48.6h1.1v1.1h-1.1zM175.9 68.1h1.1v1.1h-1.1zM166.5 81.9h1.1v1.1h-1.1zM168.9 68.7h1.1v1.1h-1.1zM167.8 74.1h1.1v1.1h-1.1zM171.5 67.4h1.1v1.1h-1.1zM169.0 66.3h1.1v1.1h-1.1zM179.5 48.3h1.1v1.1h-1.1zM171.1 60.7h1.1v1.1h-1.1zM174.2 47.7h1.1v1.1h-1.1zM175.1 58.0h1.1v1.1h-1.1zM170.9 59.9h1.1v1.1h-1.1zM165.8 59.0h1.1v1.1h-1.1zM166.4 54.7h1.1v1.1h-1.1zM169.5 64.0h1.1v1.1h-1.1zM171.1 63.2h1.1v1.1h-1.1zM176.9 70.0h1.1v1.1h-1.1zM167.8 58.0h1.1v1.1h-1.1zM168.7 62.2h1.1v1.1h-1.1zM170.5 56.6h1.1v1.1h-1.1zM176.1 66.3h1.1v1.1h-1.1zM170.0 61.9h1.1v1.1h-1.1zM166.5 75.6h1.1v1.1h-1.1zM169.5 74.1h1.1v1.1h-1.1zM159.0 63.9h1.1v1.1h-1.1zM169.5 81.7h1.1v1.1h-1.1zM174.7 50.2h1.1v1.1h-1.1zM174.0 60.0h1.1v1.1h-1.1z" fill="#222" fill-opacity="0.34"/>
<path d="M168.7 57.8h1.1v1.1h-1.1zM171.9 69.2h1.1v1.1h-1.1zM174.6 57.1h1.1v1.1h-1.1zM178.6 57.6h1.1v1.1h-1.1zM173.5 54.5h1.1v1.1h-1.1zM173.6 65.4h1.1v1.1h-1.1zM173.3 63.2h1.1v1.1h-1.1zM171.1 63.1h1.1v1.1h-1.1zM166.0 66.3h1.1v1.1h-1.1zM174.0 60.7h1.1v1.1h-1.1zM171.0 63.8h1.1v1.1h-1.1zM174.2 65.5h1.1v1.1h-1.1zM172.4 59.6h1.1v1.1h-1.1zM169.2 58.2h1.1v1.1h-1.1zM172.1 61.0h1.1v1.1h-1.1zM170.6 66.2h1.1v1.1h-1.1zM172.0 64.0h1.1v1.1h-1.1zM172.6 63.6h1.1v1.1h-1.1zM170.7 64.7h1.1v1.1h-1.1zM166.0 67.8h1.1v1.1h-1.1zM167.5 65.9h1.1v1.1h-1.1zM169.9 68.1h1.1v1.1h-1.1zM173.0 57.3h1.1v1.1h-1.1zM173.5 63.9h1.1v1.1h-1.1zM171.7 62.8h1.1v1.1h-1.1zM172.4 67.2h1.1v1.1h-1.1zM174.4 54.2h1.1v1.1h-1.1zM170.5 62.6h1.1v1.1h-1.1zM174.7 65.4h1.1v1.1h-1.1zM169.5 68.6h1.1v1.1h-1.1zM171.3 62.1h1.1v1.1h-1.1zM174.1 54.5h1.1v1.1h-1.1zM172.9 65.1h1.1v1.1h-1.1zM172.7 56.1h1.1v1.1h-1.1zM169.9 69.9h1.1v1.1h-1.1zM171.8 56.3h1.1v1.1h-1.1zM174.8 54.1h1.1v1.1h-1.1zM167.5 58.6h1.1v1.1h-1.1zM170.5 60.4h1.1v1.1h-1.1zM169.9 63.8h1.1v1.1h-1.1zM172.0 59.0h1.1v1.1h-1.1zM169.6 65.4h1.1v1.1h-1.1zM172.2 67.7h1.1v1.1h-1.1zM178.0 45.3h1.1v1.1h-1.1zM169.9 60.1h1.1v1.1h-1.1zM174.4 53.9h1.1v1.1h-1.1zM174.1 64.8h1.1v1.1h-1.1zM170.0 62.8h1.1v1.1h-1.1zM172.0 58.1h1.1v1.1h-1.1zM173.3 60.3h1.1v1.1h-1.1zM169.5 58.1h1.1v1.1h-1.1zM172.9 56.6h1.1v1.1h-1.1zM175.9 57.4h1.1v1.1h-1.1zM173.9 68.2h1.1v1.1h-1.1zM169.3 62.5h1.1v1.1h-1.1zM174.3 62.1h1.1v1.1h-1.1zM168.8 62.2h1.1v1.1h-1.1zM178.0 55.7h1.1v1.1h-1.1zM172.7 62.8h1.1v1.1h-1.1zM171.9 60.3h1.1v1.1h-1.1zM169.3 67.7h1.1v1.1h-1.1zM174.3 57.5h1.1v1.1h-1.1zM176.8 56.5h1.1v1.1h-1.1zM172.7 63.8h1.1v1.1h-1.1zM173.5 65.0h1.1v1.1h-1.1zM173.8 62.9h1.1v1.1h-1.1zM173.1 64.8h1.1v1.1h-1.1zM177.1 60.0h1.1v1.1h-1.1zM173.4 65.6h1.1v1.1h-1.1zM172.8 59.5h1.1v1.1h-1.1zM174.7 54.9h1.1v1.1h-1.1zM167.6 65.4h1.1v1.1h-1.1zM166.1 69.1h1.1v1.1h-1.1zM170.6 63.6h1.1v1.1h-1.1zM171.1 64.7h1.1v1.1h-1.1zM171.5 60.3h1.1v1.1h-1.1zM169.7 67.9h1.1v1.1h-1.1zM172.0 69.9h1.1v1.1h-1.1zM172.6 61.6h1.1v1.1h-1.1zM167.0 64.8h1.1v1.1h-1.1zM173.9 60.8h1.1v1.1h-1.1zM171.3 69.8h1.1v1.1h-1.1zM170.1 68.1h1.1v1.1h-1.1zM174.8 53.5h1.1v1.1h-1.1zM171.2 60.0h1.1v1.1h-1.1zM174.0 58.2h1.1v1.1h-1.1zM172.1 57.1h1.1v1.1h-1.1zM171.4 62.8h1.1v1.1h-1.1zM172.4 67.3h1.1v1.1h-1.1zM171.5 63.8h1.1v1.1h-1.1zM171.6 63.1h1.1v1.1h-1.1zM178.6 50.2h1.1v1.1h-1.1zM170.7 64.0h1.1v1.1h-1.1zM175.6 57.4h1.1v1.1h-1.1zM171.0 67.2h1.1v1.1h-1.1zM173.5 52.1h1.1v1.1h-1.1zM172.6 55.9h1.1v1.1h-1.1zM174.2 58.4h1.1v1.1h-1.1zM175.1 64.3h1.1v1.1h-1.1zM170.6 59.3h1.1v1.1h-1.1zM168.6 63.9h1.1v1.1h-1.1zM175.0 62.2h1.1v1.1h-1.1zM174.9 58.0h1.1v1.1h-1.1zM168.7 74.8h1.1v1.1h-1.1zM166.7 68.1h1.1v1.1h-1.1zM176.9 53.2h1.1v1.1h-1.1zM170.0 56.4h1.1v1.1h-1.1zM174.2 60.8h1.1v1.1h-1.1zM170.1 66.1h1.1v1.1h-1.1zM171.5 63.7h1.1v1.1h-1.1zM169.2 68.2h1.1v1.1h-1.1zM167.4 70.8h1.1v1.1h-1.1zM172.0 58.0h1.1v1.1h-1.1zM172.2 65.2h1.1v1.1h-1.1zM167.0 62.4h1.1v1.1h-1.1zM169.9 57.2h1.1v1.1h-1.1zM174.5 58.4h1.1v1.1h-1.1zM172.9 60.6h1.1v1.1h-1.1zM175.8 63.1h1.1v1.1h-1.1zM170.7 55.9h1.1v1.1h-1.1zM169.4 62.5h1.1v1.1h-1.1zM170.1 67.5h1.1v1.1h-1.1zM171.7 63.2h1.1v1.1h-1.1zM172.4 61.9h1.1v1.1h-1.1zM171.0 66.7h1.1v1.1h-1.1zM174.0 60.0h1.1v1.1h-1.1zM169.0 57.0h1.1v1.1h-1.1zM175.9 49.4h1.1v1.1h-1.1zM169.9 64.5h1.1v1.1h-1.1zM172.0 56.1h1.1v1.1h-1.1zM173.1 70.8h1.1v1.1h-1.1zM169.0 69.2h1.1v1.1h-1.1zM176.0 57.2h1.1v1.1h-1.1zM178.6 59.0h1.1v1.1h-1.1zM172.6 56.4h1.1v1.1h-1.1zM173.7 55.4h1.1v1.1h-1.1zM169.9 68.1h1.1v1.1h-1.1zM172.4 61.1h1.1v1.1h-1.1zM176.2 58.5h1.1v1.1h-1.1zM174.0 61.3h1.1v1.1h-1.1zM171.9 62.6h1.1v1.1h-1.1zM171.9 62.1h1.1v1.1h-1.1zM170.7 58.8h1.1v1.1h-1.1zM172.6 62.0h1.1v1.1h-1.1zM170.1 57.9h1.1v1.1h-1.1zM170.1 61.6h1.1v1.1h-1.1zM171.8 62.9h1.1v1.1h-1.1zM170.1 62.0h1.1v1.1h-1.1zM173.0 46.2h1.1v1.1h-1.1zM173.9 53.5h1.1v1.1h-1.1zM171.4 55.3h1.1v1.1h-1.1zM174.7 56.2h1.1v1.1h-1.1zM172.8 59.8h1.1v1.1h-1.1zM171.3 53.1h1.1v1.1h-1.1zM171.9 64.5h1.1v1.1h-1.1zM170.4 72.3h1.1v1.1h-1.1zM171.7 63.8h1.1v1.1h-1.1zM171.1 62.6h1.1v1.1h-1.1zM172.1 57.2h1.1v1.1h-1.1zM178.6 53.5h1.1v1.1h-1.1zM171.4 64.6h1.1v1.1h-1.1zM173.3 57.1h1.1v1.1h-1.1zM171.8 59.5h1.1v1.1h-1.1zM169.3 61.2h1.1v1.1h-1.1zM171.5 58.9h1.1v1.1h-1.1zM174.6 56.9h1.1v1.1h-1.1zM173.4 59.1h1.1v1.1h-1.1zM172.3 62.6h1.1v1.1h-1.1zM173.5 57.0h1.1v1.1h-1.1zM171.2 57.0h1.1v1.1h-1.1zM170.7 66.0h1.1v1.1h-1.1zM174.5 60.0h1.1v1.1h-1.1zM174.1 53.5h1.1v1.1h-1.1zM168.1 56.0h1.1v1.1h-1.1zM172.4 53.4h1.1v1.1h-1.1zM166.9 63.7h1.1v1.1h-1.1zM172.3 52.6h1.1v1.1h-1.1zM176.1 64.2h1.1v1.1h-1.1zM169.8 65.3h1.1v1.1h-1.1zM167.5 69.8h1.1v1.1h-1.1zM170.2 54.1h1.1v1.1h-1.1zM172.4 57.8h1.1v1.1h-1.1zM176.9 54.3h1.1v1.1h-1.1zM169.6 62.7h1.1v1.1h-1.1zM171.2 67.5h1.1v1.1h-1.1zM168.9 73.7h1.1v1.1h-1.1zM170.2 62.5h1.1v1.1h-1.1zM173.8 60.7h1.1v1.1h-1.1zM171.6 59.2h1.1v1.1h-1.1zM171.8 55.5h1.1v1.1h-1.1zM172.7 53.3h1.1v1.1h-1.1zM174.7 53.6h1.1v1.1h-1.1zM173.3 72.0h1.1v1.1h-1.1zM174.1 61.3h1.1v1.1h-1.1zM168.4 67.8h1.1v1.1h-1.1zM171.0 64.8h1.1v1.1h-1.1zM168.3 66.9h1.1v1.1h-1.1zM169.6 61.8h1.1v1.1h-1.1zM168.8 57.2h1.1v1.1h-1.1zM173.2 59.7h1.1v1.1h-1.1zM169.3 65.6h1.1v1.1h-1.1zM169.4 68.2h1.1v1.1h-1.1zM165.5 63.2h1.1v1.1h-1.1zM174.9 53.9h1.1v1.1h-1.1zM167.4 65.5h1.1v1.1h-1.1zM170.2 57.7h1.1v1.1h-1.1zM173.2 60.3h1.1v1.1h-1.1zM173.8 57.4h1.1v1.1h-1.1zM170.5 67.6h1.1v1.1h-1.1zM175.5 50.3h1.1v1.1h-1.1zM172.8 62.4h1.1v1.1h-1.1zM167.5 68.5h1.1v1.1h-1.1zM165.0 70.5h1.1v1.1h-1.1zM167.8 69.6h1.1v1.1h-1.1zM173.4 54.7h1.1v1.1h-1.1zM171.2 63.5h1.1v1.1h-1.1zM171.0 67.6h1.1v1.1h-1.1zM168.8 63.7h1.1v1.1h-1.1zM173.4 60.7h1.1v1.1h-1.1zM170.9 56.1h1.1v1.1h-1.1zM171.8 66.3h1.1v1.1h-1.1zM171.7 54.1h1.1v1.1h-1.1zM176.4 54.2h1.1v1.1h-1.1zM173.0 57.5h1.1v1.1h-1.1zM167.6 61.3h1.1v1.1h-1.1zM168.9 69.1h1.1v1.1h-1.1zM176.5 62.1h1.1v1.1h-1.1zM172.0 67.8h1.1v1.1h-1.1zM171.7 56.8h1.1v1.1h-1.1zM175.4 60.7h1.1v1.1h-1.1zM171.9 60.1h1.1v1.1h-1.1zM172.1 58.4h1.1v1.1h-1.1zM171.1 68.7h1.1v1.1h-1.1zM172.8 54.2h1.1v1.1h-1.1zM173.8 53.9h1.1v1.1h-1.1zM168.3 67.8h1.1v1.1h-1.1zM175.8 65.0h1.1v1.1h-1.1zM168.0 65.1h1.1v1.1h-1.1zM167.8 56.7h1.1v1.1h-1.1zM173.5 66.5h1.1v1.1h-1.1zM171.1 52.1h1.1v1.1h-1.1zM173.3 61.9h1.1v1.1h-1.1zM169.6 63.5h1.1v1.1h-1.1zM173.2 51.2h1.1v1.1h-1.1zM174.1 58.7h1.1v1.1h-1.1zM171.4 54.0h1.1v1.1h-1.1zM173.2 57.6h1.1v1.1h-1.1zM173.2 60.6h1.1v1.1h-1.1zM174.3 60.3h1.1v1.1h-1.1zM173.1 50.9h1.1v1.1h-1.1zM168.1 64.8h1.1v1.1h-1.1zM179.8 56.9h1.1v1.1h-1.1zM168.8 62.8h1.1v1.1h-1.1zM173.5 58.4h1.1v1.1h-1.1zM174.1 53.3h1.1v1.1h-1.1zM169.5 66.2h1.1v1.1h-1.1zM175.2 61.8h1.1v1.1h-1.1zM170.2 63.9h1.1v1.1h-1.1zM173.1 64.9h1.1v1.1h-1.1zM169.3 63.1h1.1v1.1h-1.1zM174.6 58.5h1.1v1.1h-1.1zM167.9 63.6h1.1v1.1h-1.1zM170.8 67.0h1.1v1.1h-1.1zM172.6 58.3h1.1v1.1h-1.1zM172.1 56.0h1.1v1.1h-1.1zM170.3 58.2h1.1v1.1h-1.1zM168.8 67.3h1.1v1.1h-1.1zM169.0 60.7h1.1v1.1h-1.1zM168.0 69.2h1.1v1.1h-1.1zM172.6 59.9h1.1v1.1h-1.1zM173.1 62.5h1.1v1.1h-1.1zM168.2 69.5h1.1v1.1h-1.1zM170.4 71.2h1.1v1.1h-1.1zM172.7 66.5h1.1v1.1h-1.1zM173.4 56.1h1.1v1.1h-1.1zM172.9 62.5h1.1v1.1h-1.1zM172.9 62.1h1.1v1.1h-1.1zM171.5 56.0h1.1v1.1h-1.1zM171.0 68.9h1.1v1.1h-1.1zM170.2 64.0h1.1v1.1h-1.1zM175.6 58.2h1.1v1.1h-1.1zM172.4 55.7h1.1v1.1h-1.1zM173.6 63.8h1.1v1.1h-1.1zM173.0 52.8h1.1v1.1h-1.1zM169.6 66.9h1.1v1.1h-1.1zM171.5 59.3h1.1v1.1h-1.1zM174.7 55.7h1.1v1.1h-1.1zM170.7 64.9h1.1v1.1h-1.1zM171.1 56.9h1.1v1.1h-1.1zM172.1 61.4h1.1v1.1h-1.1zM170.7 62.7h1.1v1.1h-1.1zM173.3 57.0h1.1v1.1h-1.1zM169.4 63.7h1.1v1.1h-1.1zM171.8 69.6h1.1v1.1h-1.1zM168.1 67.0h1.1v1.1h-1.1zM173.1 62.1h1.1v1.1h-1.1zM171.3 66.4h1.1v1.1h-1.1zM176.8 57.3h1.1v1.1h-1.1zM172.9 61.4h1.1v1.1h-1.1zM169.3 67.7h1.1v1.1h-1.1zM174.7 57.0h1.1v1.1h-1.1zM170.5 62.8h1.1v1.1h-1.1zM167.2 65.5h1.1v1.1h-1.1zM171.1 62.6h1.1v1.1h-1.1zM169.5 71.5h1.1v1.1h-1.1zM172.1 60.0h1.1v1.1h-1.1zM175.9 60.2h1.1v1.1h-1.1zM172.5 54.2h1.1v1.1h-1.1zM173.3 63.9h1.1v1.1h-1.1zM172.2 63.0h1.1v1.1h-1.1zM172.4 57.6h1.1v1.1h-1.1zM169.2 63.6h1.1v1.1h-1.1zM169.3 70.4h1.1v1.1h-1.1zM170.6 58.8h1.1v1.1h-1.1zM167.3 68.4h1.1v1.1h-1.1zM167.7 65.1h1.1v1.1h-1.1zM174.7 62.0h1.1v1.1h-1.1zM176.2 51.1h1.1v1.1h-1.1zM173.2 52.9h1.1v1.1h-1.1zM171.8 62.0h1.1v1.1h-1.1zM168.5 66.3h1.1v1.1h-1.1zM173.0 59.3h1.1v1.1h-1.1zM172.6 53.9h1.1v1.1h-1.1zM167.9 72.8h1.1v1.1h-1.1zM169.4 63.6h1.1v1.1h-1.1zM169.1 65.7h1.1v1.1h-1.1zM172.8 60.9h1.1v1.1h-1.1zM168.5 58.1h1.1v1.1h-1.1zM174.4 61.3h1.1v1.1h-1.1zM173.5 59.7h1.1v1.1h-1.1zM166.9 63.0h1.1v1.1h-1.1zM173.0 59.0h1.1v1.1h-1.1zM170.3 63.1h1.1v1.1h-1.1zM169.7 63.3h1.1v1.1h-1.1zM174.6 49.4h1.1v1.1h-1.1zM172.1 58.7h1.1v1.1h-1.1zM169.1 63.5h1.1v1.1h-1.1zM169.7 64.4h1.1v1.1h-1.1zM173.6 63.3h1.1v1.1h-1.1zM169.3 57.1h1.1v1.1h-1.1zM173.8 61.1h1.1v1.1h-1.1zM169.9 60.9h1.1v1.1h-1.1zM172.2 63.5h1.1v1.1h-1.1zM174.1 57.9h1.1v1.1h-1.1zM171.3 60.4h1.1v1.1h-1.1zM174.6 50.9h1.1v1.1h-1.1zM173.0 54.7h1.1v1.1h-1.1zM172.1 70.8h1.1v1.1h-1.1zM173.8 67.1h1.1v1.1h-1.1zM169.0 66.6h1.1v1.1h-1.1zM170.2 65.0h1.1v1.1h-1.1zM170.5 58.3h1.1v1.1h-1.1zM169.8 71.4h1.1v1.1h-1.1zM168.1 73.7h1.1v1.1h-1.1zM179.2 56.8h1.1v1.1h-1.1zM172.9 56.9h1.1v1.1h-1.1zM172.0 59.0h1.1v1.1h-1.1zM169.9 66.9h1.1v1.1h-1.1zM173.1 63.8h1.1v1.1h-1.1zM171.3 62.5h1.1v1.1h-1.1zM170.9 65.0h1.1v1.1h-1.1zM170.7 64.5h1.1v1.1h-1.1zM167.6 65.3h1.1v1.1h-1.1zM174.9 63.9h1.1v1.1h-1.1zM166.5 68.1h1.1v1.1h-1.1zM175.3 46.1h1.1v1.1h-1.1zM170.1 65.0h1.1v1.1h-1.1zM170.4 68.6h1.1v1.1h-1.1zM172.6 62.9h1.1v1.1h-1.1zM169.0 54.9h1.1v1.1h-1.1zM170.9 65.6h1.1v1.1h-1.1zM170.3 58.1h1.1v1.1h-1.1zM175.3 52.2h1.1v1.1h-1.1zM167.8 59.6h1.1v1.1h-1.1zM172.7 59.6h1.1v1.1h-1.1zM166.7 60.7h1.1v1.1h-1.1zM167.7 64.5h1.1v1.1h-1.1zM170.9 63.2h1.1v1.1h-1.1zM173.6 59.6h1.1v1.1h-1.1zM171.4 68.9h1.1v1.1h-1.1zM170.3 69.1h1.1v1.1h-1.1zM168.8 66.3h1.1v1.1h-1.1zM173.5 56.9h1.1v1.1h-1.1zM172.1 59.1h1.1v1.1h-1.1zM170.2 62.1h1.1v1.1h-1.1zM174.2 60.9h1.1v1.1h-1.1zM174.0 54.3h1.1v1.1h-1.1zM170.0 68.0h1.1v1.1h-1.1zM172.5 64.9h1.1v1.1h-1.1zM171.9 56.5h1.1v1.1h-1.1zM173.3 54.9h1.1v1.1h-1.1zM167.5 66.1h1.1v1.1h-1.1zM166.9 70.8h1.1v1.1h-1.1zM167.9 63.3h1.1v1.1h-1.1zM168.8 62.1h1.1v1.1h-1.1zM169.3 61.5h1.1v1.1h-1.1zM171.8 59.5h1.1v1.1h-1.1zM170.3 70.1h1.1v1.1h-1.1zM168.9 66.2h1.1v1.1h-1.1zM171.7 61.8h1.1v1.1h-1.1zM179.3 51.9h1.1v1.1h-1.1zM172.8 52.0h1.1v1.1h-1.1zM171.2 60.5h1.1v1.1h-1.1zM179.0 66.0h1.1v1.1h-1.1zM173.3 69.8h1.1v1.1h-1.1zM169.9 64.2h1.1v1.1h-1.1zM174.7 63.8h1.1v1.1h-1.1zM171.2 64.7h1.1v1.1h-1.1zM169.6 56.8h1.1v1.1h-1.1zM171.4 65.0h1.1v1.1h-1.1zM170.1 59.7h1.1v1.1h-1.1zM171.5 61.1h1.1v1.1h-1.1zM172.8 62.9h1.1v1.1h-1.1zM174.0 54.6h1.1v1.1h-1.1zM168.8 63.0h1.1v1.1h-1.1zM167.7 62.4h1.1v1.1h-1.1zM171.3 57.3h1.1v1.1h-1.1zM173.9 58.8h1.1v1.1h-1.1zM170.7 57.9h1.1v1.1h-1.1zM167.5 76.3h1.1v1.1h-1.1zM167.1 60.5h1.1v1.1h-1.1zM169.6 66.7h1.1v1.1h-1.1zM174.4 48.7h1.1v1.1h-1.1zM175.9 57.0h1.1v1.1h-1.1zM173.4 54.7h1.1v1.1h-1.1zM169.9 58.6h1.1v1.1h-1.1zM172.0 66.8h1.1v1.1h-1.1zM169.5 64.1h1.1v1.1h-1.1zM170.5 62.2h1.1v1.1h-1.1zM170.9 65.2h1.1v1.1h-1.1zM170.4 60.8h1.1v1.1h-1.1zM171.8 62.5h1.1v1.1h-1.1zM167.2 70.4h1.1v1.1h-1.1zM169.4 65.5h1.1v1.1h-1.1zM170.1 68.4h1.1v1.1h-1.1zM163.8 71.3h1.1v1.1h-1.1zM172.9 55.2h1.1v1.1h-1.1zM168.4 73.8h1.1v1.1h-1.1zM174.4 55.7h1.1v1.1h-1.1zM168.5 68.6h1.1v1.1h-1.1zM168.8 60.0h1.1v1.1h-1.1zM167.6 73.0h1.1v1.1h-1.1zM168.9 68.5h1.1v1.1h-1.1zM171.3 57.2h1.1v1.1h-1.1zM172.7 65.7h1.1v1.1h-1.1zM166.9 64.1h1.1v1.1h-1.1zM173.8 59.0h1.1v1.1h-1.1zM171.5 63.4h1.1v1.1h-1.1zM171.3 58.5h1.1v1.1h-1.1zM170.5 60.0h1.1v1.1h-1.1zM168.8 60.8h1.1v1.1h-1.1zM168.2 61.3h1.1v1.1h-1.1zM172.9 56.3h1.1v1.1h-1.1zM170.4 72.5h1.1v1.1h-1.1zM176.3 55.4h1.1v1.1h-1.1zM173.8 63.7h1.1v1.1h-1.1zM172.3 58.6h1.1v1.1h-1.1zM169.4 69.1h1.1v1.1h-1.1zM173.2 60.0h1.1v1.1h-1.1zM170.7 59.2h1.1v1.1h-1.1zM169.9 71.9h1.1v1.1h-1.1zM169.3 61.2h1.1v1.1h-1.1zM171.8 57.6h1.1v1.1h-1.1zM171.5 64.9h1.1v1.1h-1.1zM170.1 55.5h1.1v1.1h-1.1zM173.5 64.2h1.1v1.1h-1.1zM173.3 59.5h1.1v1.1h-1.1zM170.0 64.0h1.1v1.1h-1.1zM172.1 55.7h1.1v1.1h-1.1zM170.1 66.5h1.1v1.1h-1.1zM167.7 66.7h1.1v1.1h-1.1zM174.2 57.7h1.1v1.1h-1.1zM171.6 61.6h1.1v1.1h-1.1zM171.8 65.7h1.1v1.1h-1.1zM170.8 54.0h1.1v1.1h-1.1zM173.5 63.0h1.1v1.1h-1.1zM171.9 63.8h1.1v1.1h-1.1zM176.5 56.4h1.1v1.1h-1.1zM175.0 58.2h1.1v1.1h-1.1zM171.0 69.3h1.1v1.1h-1.1zM168.0 63.1h1.1v1.1h-1.1zM171.3 60.1h1.1v1.1h-1.1zM173.1 56.3h1.1v1.1h-1.1zM168.5 64.7h1.1v1.1h-1.1zM174.1 59.3h1.1v1.1h-1.1zM165.0 73.0h1.1v1.1h-1.1zM173.2 64.3h1.1v1.1h-1.1zM170.2 58.1h1.1v1.1h-1.1zM173.4 56.9h1.1v1.1h-1.1zM174.6 63.5h1.1v1.1h-1.1zM173.8 56.7h1.1v1.1h-1.1zM170.8 57.1h1.1v1.1h-1.1zM172.5 60.6h1.1v1.1h-1.1zM170.4 63.3h1.1v1.1h-1.1zM169.7 69.7h1.1v1.1h-1.1zM172.6 56.4h1.1v1.1h-1.1zM169.3 69.4h1.1v1.1h-1.1zM170.3 61.7h1.1v1.1h-1.1zM170.1 63.7h1.1v1.1h-1.1zM173.2 57.7h1.1v1.1h-1.1zM169.6 66.6h1.1v1.1h-1.1zM172.4 67.3h1.1v1.1h-1.1zM173.8 60.6h1.1v1.1h-1.1zM169.3 66.4h1.1v1.1h-1.1zM169.1 60.8h1.1v1.1h-1.1zM168.2 58.7h1.1v1.1h-1.1zM171.8 55.1h1.1v1.1h-1.1zM173.8 58.3h1.1v1.1h-1.1zM171.1 60.2h1.1v1.1h-1.1zM167.8 68.8h1.1v1.1h-1.1zM170.2 62.5h1.1v1.1h-1.1zM169.5 58.6h1.1v1.1h-1.1zM171.3 60.0h1.1v1.1h-1.1zM170.1 62.2h1.1v1.1h-1.1zM174.9 62.0h1.1v1.1h-1.1zM171.8 59.7h1.1v1.1h-1.1zM174.3 71.7h1.1v1.1h-1.1zM171.6 65.8h1.1v1.1h-1.1zM170.2 60.6h1.1v1.1h-1.1zM171.7 62.6h1.1v1.1h-1.1zM170.9 57.3h1.1v1.1h-1.1zM172.1 63.7h1.1v1.1h-1.1zM167.0 61.0h1.1v1.1h-1.1zM175.1 59.2h1.1v1.1h-1.1zM174.1 54.4h1.1v1.1h-1.1zM174.9 56.5h1.1v1.1h-1.1zM169.4 59.4h1.1v1.1h-1.1zM177.3 60.1h1.1v1.1h-1.1zM168.2 63.5h1.1v1.1h-1.1zM169.5 70.6h1.1v1.1h-1.1zM171.2 52.8h1.1v1.1h-1.1zM170.3 63.6h1.1v1.1h-1.1zM170.6 67.7h1.1v1.1h-1.1zM169.6 56.7h1.1v1.1h-1.1zM170.0 66.1h1.1v1.1h-1.1zM173.1 59.9h1.1v1.1h-1.1zM168.1 65.8h1.1v1.1h-1.1zM169.4 76.5h1.1v1.1h-1.1zM168.7 70.1h1.1v1.1h-1.1zM169.8 58.3h1.1v1.1h-1.1zM170.8 59.0h1.1v1.1h-1.1zM170.5 58.5h1.1v1.1h-1.1zM172.0 59.5h1.1v1.1h-1.1zM173.0 61.8h1.1v1.1h-1.1zM169.3 69.5h1.1v1.1h-1.1zM171.9 62.8h1.1v1.1h-1.1zM171.3 62.1h1.1v1.1h-1.1zM173.9 58.0h1.1v1.1h-1.1zM171.5 70.6h1.1v1.1h-1.1zM174.6 60.0h1.1v1.1h-1.1zM168.8 58.6h1.1v1.1h-1.1zM170.6 66.2h1.1v1.1h-1.1zM171.6 60.1h1.1v1.1h-1.1zM175.6 59.3h1.1v1.1h-1.1zM172.3 67.1h1.1v1.1h-1.1zM168.3 62.5h1.1v1.1h-1.1zM171.7 56.6h1.1v1.1h-1.1zM170.0 52.6h1.1v1.1h-1.1zM172.9 60.1h1.1v1.1h-1.1zM173.6 56.5h1.1v1.1h-1.1zM171.2 60.2h1.1v1.1h-1.1zM170.8 52.3h1.1v1.1h-1.1zM172.2 62.9h1.1v1.1h-1.1zM169.7 60.7h1.1v1.1h-1.1zM170.1 71.7h1.1v1.1h-1.1zM168.7 64.5h1.1v1.1h-1.1zM175.8 63.4h1.1v1.1h-1.1zM178.4 49.3h1.1v1.1h-1.1zM174.5 62.6h1.1v1.1h-1.1zM166.4 64.8h1.1v1.1h-1.1zM171.9 68.7h1.1v1.1h-1.1zM174.0 62.4h1.1v1.1h-1.1zM170.6 59.0h1.1v1.1h-1.1zM170.8 63.9h1.1v1.1h-1.1zM170.4 61.8h1.1v1.1h-1.1zM172.8 64.0h1.1v1.1h-1.1zM173.0 74.4h1.1v1.1h-1.1zM169.9 58.2h1.1v1.1h-1.1zM170.5 55.0h1.1v1.1h-1.1zM174.1 57.0h1.1v1.1h-1.1zM169.7 59.8h1.1v1.1h-1.1zM173.7 60.5h1.1v1.1h-1.1zM169.4 66.4h1.1v1.1h-1.1zM171.8 64.5h1.1v1.1h-1.1zM175.0 57.1h1.1v1.1h-1.1zM172.9 58.7h1.1v1.1h-1.1zM172.4 66.7h1.1v1.1h-1.1zM167.3 68.2h1.1v1.1h-1.1zM167.3 67.2h1.1v1.1h-1.1zM173.2 57.4h1.1v1.1h-1.1zM169.6 59.6h1.1v1.1h-1.1zM172.5 58.1h1.1v1.1h-1.1zM174.7 54.9h1.1v1.1h-1.1zM171.5 61.8h1.1v1.1h-1.1zM167.1 62.3h1.1v1.1h-1.1zM172.6 48.1h1.1v1.1h-1.1zM170.5 60.3h1.1v1.1h-1.1zM174.1 59.8h1.1v1.1h-1.1zM172.4 70.2h1.1v1.1h-1.1zM171.8 69.4h1.1v1.1h-1.1zM173.0 59.1h1.1v1.1h-1.1zM171.4 67.3h1.1v1.1h-1.1zM172.3 60.7h1.1v1.1h-1.1zM167.2 64.4h1.1v1.1h-1.1zM174.2 55.3h1.1v1.1h-1.1zM170.6 65.6h1.1v1.1h-1.1zM170.1 65.8h1.1v1.1h-1.1zM175.3 54.6h1.1v1.1h-1.1zM170.1 64.2h1.1v1.1h-1.1zM171.3 69.7h1.1v1.1h-1.1zM167.6 60.3h1.1v1.1h-1.1zM171.1 68.6h1.1v1.1h-1.1zM176.4 58.0h1.1v1.1h-1.1zM172.3 56.1h1.1v1.1h-1.1zM175.2 55.4h1.1v1.1h-1.1zM172.6 67.4h1.1v1.1h-1.1zM175.7 50.8h1.1v1.1h-1.1zM168.9 65.3h1.1v1.1h-1.1zM168.9 59.7h1.1v1.1h-1.1zM169.9 66.4h1.1v1.1h-1.1zM171.7 63.4h1.1v1.1h-1.1zM170.6 61.6h1.1v1.1h-1.1zM170.1 65.5h1.1v1.1h-1.1zM169.6 67.1h1.1v1.1h-1.1zM166.1 67.1h1.1v1.1h-1.1zM169.4 67.6h1.1v1.1h-1.1zM170.4 66.3h1.1v1.1h-1.1zM175.4 59.8h1.1v1.1h-1.1zM171.9 61.0h1.1v1.1h-1.1zM174.3 53.5h1.1v1.1h-1.1zM171.5 60.4h1.1v1.1h-1.1zM170.1 60.3h1.1v1.1h-1.1zM166.2 68.2h1.1v1.1h-1.1zM169.6 71.9h1.1v1.1h-1.1zM171.4 55.2h1.1v1.1h-1.1zM174.6 53.3h1.1v1.1h-1.1zM173.0 58.3h1.1v1.1h-1.1zM170.4 62.9h1.1v1.1h-1.1zM168.8 71.6h1.1v1.1h-1.1zM174.7 55.4h1.1v1.1h-1.1zM175.5 55.4h1.1v1.1h-1.1zM173.5 55.3h1.1v1.1h-1.1zM167.8 68.2h1.1v1.1h-1.1zM171.3 58.1h1.1v1.1h-1.1zM170.8 59.8h1.1v1.1h-1.1zM176.3 56.5h1.1v1.1h-1.1zM168.0 64.1h1.1v1.1h-1.1zM168.7 58.9h1.1v1.1h-1.1zM173.8 62.5h1.1v1.1h-1.1zM171.5 57.8h1.1v1.1h-1.1zM170.4 58.1h1.1v1.1h-1.1zM169.9 68.3h1.1v1.1h-1.1zM174.3 59.4h1.1v1.1h-1.1zM168.9 64.9h1.1v1.1h-1.1zM168.3 58.4h1.1v1.1h-1.1zM172.5 55.7h1.1v1.1h-1.1zM168.9 62.9h1.1v1.1h-1.1zM169.4 55.9h1.1v1.1h-1.1zM170.0 61.7h1.1v1.1h-1.1zM167.0 66.5h1.1v1.1h-1.1zM171.2 60.1h1.1v1.1h-1.1zM171.7 57.9h1.1v1.1h-1.1zM167.7 67.1h1.1v1.1h-1.1zM172.1 61.2h1.1v1.1h-1.1zM174.6 58.5h1.1v1.1h-1.1zM172.7 62.1h1.1v1.1h-1.1zM168.5 65.1h1.1v1.1h-1.1zM167.4 64.1h1.1v1.1h-1.1zM169.0 63.2h1.1v1.1h-1.1zM173.5 65.4h1.1v1.1h-1.1zM170.2 61.1h1.1v1.1h-1.1zM172.4 55.2h1.1v1.1h-1.1zM169.1 61.1h1.1v1.1h-1.1zM175.2 52.7h1.1v1.1h-1.1zM170.5 64.1h1.1v1.1h-1.1zM173.2 56.4h1.1v1.1h-1.1zM175.4 55.8h1.1v1.1h-1.1zM170.4 70.2h1.1v1.1h-1.1zM166.8 61.6h1.1v1.1h-1.1zM171.8 62.9h1.1v1.1h-1.1zM170.3 59.4h1.1v1.1h-1.1zM168.3 61.3h1.1v1.1h-1.1zM173.6 58.3h1.1v1.1h-1.1zM170.2 58.5h1.1v1.1h-1.1zM171.3 61.8h1.1v1.1h-1.1zM171.1 61.8h1.1v1.1h-1.1zM172.8 46.5h1.1v1.1h-1.1zM170.6 69.2h1.1v1.1h-1.1zM169.5 57.1h1.1v1.1h-1.1zM170.6 66.6h1.1v1.1h-1.1zM170.9 68.5h1.1v1.1h-1.1zM170.7 63.6h1.1v1.1h-1.1zM172.9 59.4h1.1v1.1h-1.1zM173.0 65.4h1.1v1.1h-1.1zM174.1 60.0h1.1v1.1h-1.1zM175.1 56.6h1.1v1.1h-1.1zM176.1 48.1h1.1v1.1h-1.1zM168.3 64.6h1.1v1.1h-1.1zM170.3 62.1h1.1v1.1h-1.1zM165.8 68.5h1.1v1.1h-1.1z" fill="#000" fill-opacity="0.45"/>
<path d="M153.7 76.4h1.1v1.1h-1.1zM152.7 78.1h1.1v1.1h-1.1zM158.1 77.6h1.1v1.1h-1.1zM142.5 75.3h1.1v1.1h-1.1zM157.4 79.3h1.1v1.1h-1.1zM148.2 79.5h1.1v1.1h-1.1zM151.1 79.5h1.1v1.1h-1.1zM154.0 75.4h1.1v1.1h-1.1zM148.8 77.7h1.1v1.1h-1.1zM147.5 73.4h1.1v1.1h-1.1zM150.0 69.4h1.1v1.1h-1.1zM149.9 82.0h1.1v1.1h-1.1zM151.1 77.2h1.1v1.1h-1.1zM154.1 80.0h1.1v1.1h-1.1zM144.0 82.4h1.1v1.1h-1.1zM145.2 77.5h1.1v1.1h-1.1zM153.8 76.8h1.1v1.1h-1.1zM152.7 72.3h1.1v1.1h-1.1zM145.5 78.1h1.1v1.1h-1.1zM142.1 72.4h1.1v1.1h-1.1zM153.9 73.5h1.1v1.1h-1.1zM145.7 71.1h1.1v1.1h-1.1zM151.2 74.7h1.1v1.1h-1.1zM151.3 75.6h1.1v1.1h-1.1zM150.5 77.3h1.1v1.1h-1.1zM150.3 76.3h1.1v1.1h-1.1zM150.1 83.1h1.1v1.1h-1.1zM148.2 70.5h1.1v1.1h-1.1zM151.2 72.1h1.1v1.1h-1.1zM152.7 71.2h1.1v1.1h-1.1zM149.8 75.4h1.1v1.1h-1.1zM150.3 74.0h1.1v1.1h-1.1zM146.1 76.2h1.1v1.1h-1.1zM147.4 77.3h1.1v1.1h-1.1zM150.1 83.3h1.1v1.1h-1.1zM152.1 79.4h1.1v1.1h-1.1zM152.9 74.2h1.1v1.1h-1.1zM143.3 80.4h1.1v1.1h-1.1zM156.1 79.3h1.1v1.1h-1.1zM152.7 78.4h1.1v1.1h-1.1zM150.3 77.8h1.1v1.1h-1.1zM150.5 78.1h1.1v1.1h-1.1zM145.4 73.5h1.1v1.1h-1.1zM153.5 74.9h1.1v1.1h-1.1zM154.3 79.8h1.1v1.1h-1.1zM146.9 71.1h1.1v1.1h-1.1zM149.3 76.6h1.1v1.1h-1.1zM146.4 77.3h1.1v1.1h-1.1zM154.1 79.4h1.1v1.1h-1.1zM150.5 73.4h1.1v1.1h-1.1zM152.9 84.4h1.1v1.1h-1.1zM156.4 84.4h1.1v1.1h-1.1zM150.7 77.9h1.1v1.1h-1.1zM155.0 76.4h1.1v1.1h-1.1zM147.9 73.0h1.1v1.1h-1.1zM150.6 73.6h1.1v1.1h-1.1zM154.7 75.0h1.1v1.1h-1.1zM158.2 82.4h1.1v1.1h-1.1zM144.0 81.8h1.1v1.1h-1.1zM148.4 83.1h1.1v1.1h-1.1zM153.3 76.4h1.1v1.1h-1.1zM154.1 73.9h1.1v1.1h-1.1zM152.3 78.5h1.1v1.1h-1.1zM149.8 78.5h1.1v1.1h-1.1zM145.3 79.3h1.1v1.1h-1.1zM144.2 79.6h1.1v1.1h-1.1zM153.1 80.0h1.1v1.1h-1.1zM149.4 77.4h1.1v1.1h-1.1zM146.7 83.5h1.1v1.1h-1.1zM148.2 81.4h1.1v1.1h-1.1zM145.7 78.2h1.1v1.1h-1.1zM148.7 81.1h1.1v1.1h-1.1zM149.1 72.6h1.1v1.1h-1.1zM153.0 71.0h1.1v1.1h-1.1zM145.7 80.4h1.1v1.1h-1.1zM148.6 72.4h1.1v1.1h-1.1zM152.0 79.7h1.1v1.1h-1.1zM147.7 75.9h1.1v1.1h-1.1zM154.9 80.3h1.1v1.1h-1.1zM150.5 73.1h1.1v1.1h-1.1zM145.8 74.0h1.1v1.1h-1.1zM154.3 79.5h1.1v1.1h-1.1zM152.3 83.4h1.1v1.1h-1.1zM149.2 75.0h1.1v1.1h-1.1zM153.1 77.1h1.1v1.1h-1.1zM154.8 72.6h1.1v1.1h-1.1zM153.4 75.1h1.1v1.1h-1.1zM151.1 77.8h1.1v1.1h-1.1zM148.3 79.8h1.1v1.1h-1.1z" fill="#222" fill-opacity="0.17"/>
<rect x="141.50" y="25.30" width="60.60" height="60.20" fill="none" stroke="#3a3a3a" stroke-width="0.9"/>
<line x1="159.50" y1="25.30" x2="159.50" y2="85.50" stroke="#3a3a3a" stroke-width="0.9"/>
<line x1="141.50" y1="67.40" x2="202.10" y2="67.40" stroke="#3a3a3a" stroke-width="0.9"/>
<rect x="143.20" y="32.90" width="43.40" height="32.20" fill="none" stroke="#3a3a3a" stroke-width="0.9"/>
<path d="M53.3 158.9h1.1v1.1h-1.1zM48.7 147.2h1.1v1.1h-1.1zM51.8 144.8h1.1v1.1h-1.1zM52.3 142.7h1.1v1.1h-1.1zM46.1 151.0h1.1v1.1h-1.1zM44.2 150.9h1.1v1.1h-1.1zM51.3 141.0h1.1v1.1h-1.1zM52.8 146.7h1.1v1.1h-1.1zM51.4 152.5h1.1v1.1h-1.1zM47.8 147.0h1.1v1.1h-1.1zM43.4 145.7h1.1v1.1h-1.1zM46.7 163.3h1.1v1.1h-1.1zM53.1 140.6h1.1v1.1h-1.1zM52.3 152.6h1.1v1.1h-1.1zM48.1 154.4h1.1v1.1h-1.1zM52.3 146.7h1.1v1.1h-1.1zM48.5 152.2h1.1v1.1h-1.1zM46.0 152.3h1.1v1.1h-1.1zM49.2 145.9h1.1v1.1h-1.1zM46.5 153.2h1.1v1.1h-1.1zM52.6 153.4h1.1v1.1h-1.1zM46.4 156.6h1.1v1.1h-1.1zM50.1 155.4h1.1v1.1h-1.1zM53.6 144.2h1.1v1.1h-1.1zM49.0 146.5h1.1v1.1h-1.1zM46.4 166.0h1.1v1.1h-1.1zM52.8 137.8h1.1v1.1h-1.1zM51.0 146.8h1.1v1.1h-1.1zM53.6 151.6h1.1v1.1h-1.1zM48.9 152.0h1.1v1.1h-1.1zM50.9 151.2h1.1v1.1h-1.1zM48.7 150.0h1.1v1.1h-1.1zM51.3 142.5h1.1v1.1h-1.1zM49.5 150.1h1.1v1.1h-1.1zM47.8 156.5h1.1v1.1h-1.1zM44.9 148.3h1.1v1.1h-1.1zM46.5 155.1h1.1v1.1h-1.1zM47.8 151.4h1.1v1.1h-1.1zM50.9 139.1h1.1v1.1h-1.1zM51.1 145.4h1.1v1.1h-1.1zM48.6 150.2h1.1v1.1h-1.1zM52.4 156.5h1.1v1.1h-1.1zM55.8 152.3h1.1v1.1h-1.1zM47.8 147.2h1.1v1.1h-1.1zM51.8 163.0h1.1v1.1h-1.1zM50.7 146.7h1.1v1.1h-1.1zM50.5 152.9h1.1v1.1h-1.1zM49.6 145.4h1.1v1.1h-1.1zM53.2 152.6h1.1v1.1h-1.1zM42.9 165.9h1.1v1.1h-1.1zM50.2 142.0h1.1v1.1h-1.1zM52.3 145.2h1.1v1.1h-1.1zM51.5 151.2h1.1v1.1h-1.1zM45.3 156.0h1.1v1.1h-1.1zM44.7 161.0h1.1v1.1h-1.1zM49.7 143.3h1.1v1.1h-1.1zM43.1 163.1h1.1v1.1h-1.1zM54.7 141.6h1.1v1.1h-1.1zM55.3 152.2h1.1v1.1h-1.1zM48.7 150.4h1.1v1.1h-1.1zM48.5 161.7h1.1v1.1h-1.1zM50.0 137.2h1.1v1.1h-1.1zM56.9 157.6h1.1v1.1h-1.1zM45.6 148.3h1.1v1.1h-1.1zM46.3 151.3h1.1v1.1h-1.1zM50.9 152.8h1.1v1.1h-1.1zM47.4 145.0h1.1v1.1h-1.1zM52.5 150.2h1.1v1.1h-1.1zM57.5 145.0h1.1v1.1h-1.1zM52.3 151.4h1.1v1.1h-1.1zM46.8 161.2h1.1v1.1h-1.1zM49.9 144.3h1.1v1.1h-1.1zM48.4 158.6h1.1v1.1h-1.1zM45.2 161.3h1.1v1.1h-1.1zM51.9 148.9h1.1v1.1h-1.1zM54.3 164.1h1.1v1.1h-1.1zM51.6 152.3h1.1v1.1h-1.1zM56.1 162.2h1.1v1.1h-1.1zM46.2 149.5h1.1v1.1h-1.1zM48.7 147.9h1.1v1.1h-1.1zM44.2 157.8h1.1v1.1h-1.1zM49.8 151.7h1.1v1.1h-1.1zM54.5 146.8h1.1v1.1h-1.1zM49.3 153.1h1.1v1.1h-1.1zM48.0 150.2h1.1v1.1h-1.1zM52.2 150.9h1.1v1.1h-1.1zM54.2 145.4h1.1v1.1h-1.1zM50.2 140.3h1.1v1.1h-1.1zM49.1 145.7h1.1v1.1h-1.1zM54.4 156.6h1.1v1.1h-1.1zM51.3 164.9h1.1v1.1h-1.1zM54.7 156.4h1.1v1.1h-1.1zM47.0 140.1h1.1v1.1h-1.1zM49.4 148.3h1.1v1.1h-1.1zM47.2 148.8h1.1v1.1h-1.1zM43.6 162.2h1.1v1.1h-1.1zM45.4 145.9h1.1v1.1h-1.1zM51.5 138.7h1.1v1.1h-1.1zM52.8 158.1h1.1v1.1h-1.1zM48.4 142.9h1.1v1.1h-1.1zM47.8 137.0h1.1v1.1h-1.1zM54.5 151.4h1.1v1.1h-1.1zM46.9 144.1h1.1v1.1h-1.1zM51.6 162.4h1.1v1.1h-1.1zM44.9 146.7h1.1v1.1h-1.1zM43.2 156.1h1.1v1.1h-1.1zM49.1 147.7h1.1v1.1h-1.1zM47.0 157.5h1.1v1.1h-1.1zM43.6 156.7h1.1v1.1h-1.1zM50.4 147.2h1.1v1.1h-1.1zM46.3 159.0h1.1v1.1h-1.1zM56.2 147.6h1.1v1.1h-1.1zM51.4 164.2h1.1v1.1h-1.1zM47.3 149.1h1.1v1.1h-1.1zM45.1 149.9h1.1v1.1h-1.1zM49.2 147.8h1.1v1.1h-1.1zM46.8 139.0h1.1v1.1h-1.1zM44.7 143.6h1.1v1.1h-1.1zM51.8 147.1h1.1v1.1h-1.1zM46.4 156.0h1.1v1.1h-1.1zM51.5 145.3h1.1v1.1h-1.1zM47.2 156.0h1.1v1.1h-1.1zM50.8 144.6h1.1v1.1h-1.1zM50.4 150.8h1.1v1.1h-1.1zM53.5 144.4h1.1v1.1h-1.1zM52.7 154.3h1.1v1.1h-1.1zM45.9 159.0h1.1v1.1h-1.1zM52.8 140.9h1.1v1.1h-1.1zM56.7 142.3h1.1v1.1h-1.1zM46.2 148.5h1.1v1.1h-1.1zM52.3 155.4h1.1v1.1h-1.1zM49.2 161.4h1.1v1.1h-1.1zM51.0 161.7h1.1v1.1h-1.1zM59.7 152.5h1.1v1.1h-1.1zM45.6 151.7h1.1v1.1h-1.1zM49.9 141.6h1.1v1.1h-1.1zM45.3 149.0h1.1v1.1h-1.1zM48.8 131.0h1.1v1.1h-1.1zM53.1 151.2h1.1v1.1h-1.1zM49.5 153.3h1.1v1.1h-1.1zM45.8 150.6h1.1v1.1h-1.1zM53.3 159.3h1.1v1.1h-1.1zM51.2 148.8h1.1v1.1h-1.1zM46.5 161.2h1.1v1.1h-1.1zM51.4 147.7h1.1v1.1h-1.1zM50.2 145.2h1.1v1.1h-1.1zM54.0 140.5h1.1v1.1h-1.1zM49.0 141.4h1.1v1.1h-1.1zM43.1 152.4h1.1v1.1h-1.1zM58.5 163.2h1.1v1.1h-1.1zM49.7 148.1h1.1v1.1h-1.1zM50.2 159.1h1.1v1.1h-1.1zM44.1 136.3h1.1v1.1h-1.1zM56.5 153.2h1.1v1.1h-1.1zM55.5 152.9h1.1v1.1h-1.1zM55.0 146.2h1.1v1.1h-1.1zM51.4 163.2h1.1v1.1h-1.1zM53.3 147.4h1.1v1.1h-1.1zM52.8 145.8h1.1v1.1h-1.1zM44.2 155.1h1.1v1.1h-1.1zM54.7 157.7h1.1v1.1h-1.1zM44.8 157.9h1.1v1.1h-1.1zM52.1 147.4h1.1v1.1h-1.1zM52.8 154.9h1.1v1.1h-1.1zM43.0 139.2h1.1v1.1h-1.1zM53.3 157.4h1.1v1.1h-1.1zM51.4 149.0h1.1v1.1h-1.1zM51.0 146.7h1.1v1.1h-1.1zM48.3 144.1h1.1v1.1h-1.1zM50.5 147.7h1.1v1.1h-1.1zM53.1 156.7h1.1v1.1h-1.1zM46.4 165.6h1.1v1.1h-1.1zM45.3 154.6h1.1v1.1h-1.1zM53.6 161.2h1.1v1.1h-1.1zM54.1 162.5h1.1v1.1h-1.1zM49.1 147.4h1.1v1.1h-1.1zM54.6 145.6h1.1v1.1h-1.1zM54.2 155.5h1.1v1.1h-1.1zM44.0 143.1h1.1v1.1h-1.1zM47.7 151.8h1.1v1.1h-1.1zM53.3 149.5h1.1v1.1h-1.1zM53.0 138.4h1.1v1.1h-1.1zM51.2 148.1h1.1v1.1h-1.1zM45.7 154.4h1.1v1.1h-1.1zM56.8 150.2h1.1v1.1h-1.1zM46.7 144.2h1.1v1.1h-1.1zM57.0 150.7h1.1v1.1h-1.1zM51.8 160.8h1.1v1.1h-1.1zM53.6 143.6h1.1v1.1h-1.1zM53.1 157.8h1.1v1.1h-1.1zM51.4 159.1h1.1v1.1h-1.1zM47.4 150.4h1.1v1.1h-1.1zM47.5 157.1h1.1v1.1h-1.1zM47.0 154.1h1.1v1.1h-1.1zM45.3 150.0h1.1v1.1h-1.1zM48.1 150.1h1.1v1.1h-1.1zM50.0 149.5h1.1v1.1h-1.1zM48.7 134.4h1.1v1.1h-1.1zM53.7 146.0h1.1v1.1h-1.1zM48.6 144.4h1.1v1.1h-1.1zM53.3 143.8h1.1v1.1h-1.1zM51.4 160.4h1.1v1.1h-1.1zM55.8 160.5h1.1v1.1h-1.1zM51.9 141.4h1.1v1.1h-1.1zM54.4 160.5h1.1v1.1h-1.1zM52.7 157.4h1.1v1.1h-1.1zM49.8 146.9h1.1v1.1h-1.1zM53.6 161.2h1.1v1.1h-1.1zM45.6 158.3h1.1v1.1h-1.1zM50.5 158.1h1.1v1.1h-1.1zM50.6 159.9h1.1v1.1h-1.1zM53.4 158.2h1.1v1.1h-1.1zM44.3 157.7h1.1v1.1h-1.1zM49.7 142.1h1.1v1.1h-1.1zM52.2 140.2h1.1v1.1h-1.1zM52.9 164.6h1.1v1.1h-1.1zM47.7 158.5h1.1v1.1h-1.1zM51.3 156.3h1.1v1.1h-1.1zM44.5 156.0h1.1v1.1h-1.1zM50.1 157.0h1.1v1.1h-1.1zM49.6 159.9h1.1v1.1h-1.1zM50.6 156.6h1.1v1.1h-1.1zM54.7 152.6h1.1v1.1h-1.1zM53.3 153.0h1.1v1.1h-1.1zM51.6 147.0h1.1v1.1h-1.1zM52.5 160.9h1.1v1.1h-1.1zM49.3 157.5h1.1v1.1h-1.1zM51.2 142.5h1.1v1.1h-1.1zM50.9 161.7h1.1v1.1h-1.1zM47.8 137.2h1.1v1.1h-1.1zM50.4 146.2h1.1v1.1h-1.1zM56.7 150.9h1.1v1.1h-1.1zM49.6 146.3h1.1v1.1h-1.1zM50.6 146.8h1.1v1.1h-1.1zM46.3 150.8h1.1v1.1h-1.1zM46.6 161.7h1.1v1.1h-1.1zM45.3 150.7h1.1v1.1h-1.1zM47.1 140.4h1.1v1.1h-1.1zM55.8 134.8h1.1v1.1h-1.1zM55.1 140.2h1.1v1.1h-1.1zM54.5 152.6h1.1v1.1h-1.1zM47.6 151.0h1.1v1.1h-1.1zM46.0 152.2h1.1v1.1h-1.1zM55.2 148.3h1.1v1.1h-1.1zM50.2 160.7h1.1v1.1h-1.1zM57.0 146.7h1.1v1.1h-1.1zM50.8 146.9h1.1v1.1h-1.1zM47.2 148.1h1.1v1.1h-1.1zM47.3 137.7h1.1v1.1h-1.1zM50.1 160.8h1.1v1.1h-1.1zM47.7 150.0h1.1v1.1h-1.1zM52.1 157.1h1.1v1.1h-1.1zM49.2 150.9h1.1v1.1h-1.1zM56.6 148.7h1.1v1.1h-1.1zM47.8 138.5h1.1v1.1h-1.1zM51.2 149.2h1.1v1.1h-1.1zM56.7 148.7h1.1v1.1h-1.1zM52.7 158.6h1.1v1.1h-1.1zM55.8 141.0h1.1v1.1h-1.1zM55.5 151.4h1.1v1.1h-1.1zM49.2 148.9h1.1v1.1h-1.1zM48.2 148.6h1.1v1.1h-1.1zM49.9 143.8h1.1v1.1h-1.1zM51.0 148.2h1.1v1.1h-1.1zM56.0 145.1h1.1v1.1h-1.1zM49.1 147.0h1.1v1.1h-1.1zM48.8 157.0h1.1v1.1h-1.1zM51.8 145.6h1.1v1.1h-1.1zM49.2 151.9h1.1v1.1h-1.1zM48.1 151.0h1.1v1.1h-1.1zM47.0 145.5h1.1v1.1h-1.1zM49.8 143.2h1.1v1.1h-1.1zM51.2 149.8h1.1v1.1h-1.1zM46.2 146.5h1.1v1.1h-1.1zM47.9 150.0h1.1v1.1h-1.1zM50.0 149.6h1.1v1.1h-1.1zM46.4 162.4h1.1v1.1h-1.1zM53.0 152.1h1.1v1.1h-1.1zM53.1 153.8h1.1v1.1h-1.1zM48.7 151.9h1.1v1.1h-1.1zM59.5 159.0h1.1v1.1h-1.1zM53.5 148.2h1.1v1.1h-1.1zM51.2 159.6h1.1v1.1h-1.1zM54.3 156.2h1.1v1.1h-1.1zM55.4 153.0h1.1v1.1h-1.1zM51.4 146.4h1.1v1.1h-1.1zM59.3 153.6h1.1v1.1h-1.1zM50.0 162.0h1.1v1.1h-1.1zM47.8 151.2h1.1v1.1h-1.1zM46.7 151.4h1.1v1.1h-1.1zM48.2 155.4h1.1v1.1h-1.1zM49.1 146.6h1.1v1.1h-1.1zM48.5 150.3h1.1v1.1h-1.1zM47.7 158.5h1.1v1.1h-1.1zM52.1 152.3h1.1v1.1h-1.1zM45.2 155.2h1.1v1.1h-1.1zM44.9 152.7h1.1v1.1h-1.1zM49.8 146.7h1.1v1.1h-1.1zM46.6 145.8h1.1v1.1h-1.1zM57.1 149.2h1.1v1.1h-1.1zM48.8 158.6h1.1v1.1h-1.1zM51.1 159.4h1.1v1.1h-1.1zM45.1 142.8h1.1v1.1h-1.1zM61.8 150.9h1.1v1.1h-1.1zM48.5 152.5h1.1v1.1h-1.1zM53.2 142.0h1.1v1.1h-1.1zM50.6 151.0h1.1v1.1h-1.1zM52.1 152.6h1.1v1.1h-1.1zM47.7 144.5h1.1v1.1h-1.1zM44.2 148.1h1.1v1.1h-1.1zM55.7 148.0h1.1v1.1h-1.1zM51.8 149.6h1.1v1.1h-1.1zM52.2 151.4h1.1v1.1h-1.1zM47.7 161.6h1.1v1.1h-1.1zM48.6 140.9h1.1v1.1h-1.1zM48.4 155.4h1.1v1.1h-1.1zM45.5 157.3h1.1v1.1h-1.1zM47.3 156.3h1.1v1.1h-1.1zM43.5 148.0h1.1v1.1h-1.1zM50.0 154.3h1.1v1.1h-1.1zM49.4 150.5h1.1v1.1h-1.1zM47.4 147.8h1.1v1.1h-1.1zM50.7 155.5h1.1v1.1h-1.1zM51.9 158.9h1.1v1.1h-1.1zM53.9 137.4h1.1v1.1h-1.1zM47.7 150.0h1.1v1.1h-1.1zM47.2 159.2h1.1v1.1h-1.1zM52.3 150.4h1.1v1.1h-1.1zM50.0 160.9h1.1v1.1h-1.1zM48.3 148.8h1.1v1.1h-1.1zM52.9 154.8h1.1v1.1h-1.1zM54.8 154.0h1.1v1.1h-1.1zM52.3 147.0h1.1v1.1h-1.1zM46.2 151.1h1.1v1.1h-1.1zM53.1 151.8h1.1v1.1h-1.1zM48.8 159.5h1.1v1.1h-1.1zM49.4 158.7h1.1v1.1h-1.1zM57.6 156.8h1.1v1.1h-1.1zM53.0 155.0h1.1v1.1h-1.1zM50.5 153.3h1.1v1.1h-1.1zM49.8 159.5h1.1v1.1h-1.1zM43.7 149.2h1.1v1.1h-1.1zM52.0 144.8h1.1v1.1h-1.1zM49.2 145.9h1.1v1.1h-1.1zM51.2 157.8h1.1v1.1h-1.1zM54.9 155.1h1.1v1.1h-1.1zM47.0 153.1h1.1v1.1h-1.1zM51.7 162.0h1.1v1.1h-1.1zM43.0 156.7h1.1v1.1h-1.1zM51.2 155.0h1.1v1.1h-1.1zM52.8 154.2h1.1v1.1h-1.1zM47.3 153.9h1.1v1.1h-1.1zM54.0 150.3h1.1v1.1h-1.1zM49.7 141.9h1.1v1.1h-1.1zM53.8 147.4h1.1v1.1h-1.1zM46.9 147.8h1.1v1.1h-1.1zM46.5 149.3h1.1v1.1h-1.1zM54.2 157.3h1.1v1.1h-1.1zM54.8 162.6h1.1v1.1h-1.1zM46.4 154.9h1.1v1.1h-1.1zM44.5 140.3h1.1v1.1h-1.1zM51.3 148.6h1.1v1.1h-1.1zM46.0 154.1h1.1v1.1h-1.1zM46.7 133.9h1.1v1.1h-1.1zM49.5 152.2h1.1v1.1h-1.1zM51.9 158.4h1.1v1.1h-1.1zM50.3 149.4h1.1v1.1h-1.1zM47.2 138.6h1.1v1.1h-1.1zM48.0 158.8h1.1v1.1h-1.1zM49.0 137.6h1.1v1.1h-1.1zM52.6 159.1h1.1v1.1h-1.1zM45.3 138.9h1.1v1.1h-1.1zM50.1 156.6h1.1v1.1h-1.1zM45.5 148.6h1.1v1.1h-1.1zM46.8 142.1h1.1v1.1h-1.1zM44.8 152.2h1.1v1.1h-1.1zM48.2 146.0h1.1v1.1h-1.1zM46.1 150.1h1.1v1.1h-1.1zM45.4 154.0h1.1v1.1h-1.1zM44.1 151.9h1.1v1.1h-1.1zM48.9 158.1h1.1v1.1h-1.1zM45.6 146.2h1.1v1.1h-1.1zM44.2 153.3h1.1v1.1h-1.1zM47.2 153.5h1.1v1.1h-1.1zM51.9 152.2h1.1v1.1h-1.1zM50.5 153.2h1.1v1.1h-1.1zM47.4 149.4h1.1v1.1h-1.1zM43.5 148.4h1.1v1.1h-1.1zM46.8 149.1h1.1v1.1h-1.1zM52.2 154.0h1.1v1.1h-1.1zM51.2 159.5h1.1v1.1h-1.1zM49.4 150.3h1.1v1.1h-1.1zM44.8 155.3h1.1v1.1h-1.1zM53.7 158.9h1.1v1.1h-1.1zM49.2 155.9h1.1v1.1h-1.1zM52.9 165.0h1.1v1.1h-1.1zM54.0 152.1h1.1v1.1h-1.1zM49.9 152.3h1.1v1.1h-1.1zM50.3 147.3h1.1v1.1h-1.1zM52.3 145.8h1.1v1.1h-1.1zM46.6 153.7h1.1v1.1h-1.1zM47.4 149.2h1.1v1.1h-1.1zM49.5 150.1h1.1v1.1h-1.1zM51.2 152.6h1.1v1.1h-1.1zM47.9 158.5h1.1v1.1h-1.1zM56.1 146.3h1.1v1.1h-1.1zM49.9 144.8h1.1v1.1h-1.1zM53.3 148.5h1.1v1.1h-1.1zM45.5 161.1h1.1v1.1h-1.1zM52.8 144.2h1.1v1.1h-1.1zM53.8 152.5h1.1v1.1h-1.1zM59.4 164.1h1.1v1.1h-1.1zM47.5 149.0h1.1v1.1h-1.1zM46.3 152.0h1.1v1.1h-1.1zM49.7 156.6h1.1v1.1h-1.1zM49.8 139.8h1.1v1.1h-1.1zM46.6 161.8h1.1v1.1h-1.1zM53.7 149.8h1.1v1.1h-1.1zM49.0 149.7h1.1v1.1h-1.1zM49.6 138.2h1.1v1.1h-1.1zM52.7 146.0h1.1v1.1h-1.1zM50.0 131.7h1.1v1.1h-1.1zM50.4 161.2h1.1v1.1h-1.1zM51.2 145.4h1.1v1.1h-1.1zM43.7 159.9h1.1v1.1h-1.1zM50.4 155.5h1.1v1.1h-1.1zM48.5 144.9h1.1v1.1h-1.1zM52.7 143.7h1.1v1.1h-1.1zM52.8 138.2h1.1v1.1h-1.1zM46.1 139.9h1.1v1.1h-1.1zM54.3 137.6h1.1v1.1h-1.1zM45.4 156.0h1.1v1.1h-1.1zM56.2 155.7h1.1v1.1h-1.1zM52.0 137.0h1.1v1.1h-1.1zM46.3 148.5h1.1v1.1h-1.1zM48.9 140.5h1.1v1.1h-1.1zM46.1 144.5h1.1v1.1h-1.1zM53.4 154.3h1.1v1.1h-1.1zM48.3 148.9h1.1v1.1h-1.1zM50.6 145.7h1.1v1.1h-1.1zM48.5 137.8h1.1v1.1h-1.1zM51.9 158.4h1.1v1.1h-1.1zM50.8 154.7h1.1v1.1h-1.1zM50.2 140.9h1.1v1.1h-1.1zM45.7 156.4h1.1v1.1h-1.1zM53.4 156.9h1.1v1.1h-1.1zM52.6 152.4h1.1v1.1h-1.1zM44.1 145.6h1.1v1.1h-1.1zM42.9 148.0h1.1v1.1h-1.1zM44.5 151.7h1.1v1.1h-1.1zM48.9 136.0h1.1v1.1h-1.1zM52.2 156.8h1.1v1.1h-1.1zM44.4 152.1h1.1v1.1h-1.1zM52.1 148.7h1.1v1.1h-1.1zM52.6 152.4h1.1v1.1h-1.1zM53.4 152.4h1.1v1.1h-1.1zM48.9 154.9h1.1v1.1h-1.1zM52.3 152.9h1.1v1.1h-1.1zM47.8 144.9h1.1v1.1h-1.1zM48.1 146.5h1.1v1.1h-1.1zM50.2 152.2h1.1v1.1h-1.1zM49.1 150.9h1.1v1.1h-1.1zM50.1 163.0h1.1v1.1h-1.1zM53.9 146.5h1.1v1.1h-1.1zM51.0 148.4h1.1v1.1h-1.1zM49.1 149.0h1.1v1.1h-1.1zM47.2 140.4h1.1v1.1h-1.1zM53.8 143.9h1.1v1.1h-1.1zM51.3 147.9h1.1v1.1h-1.1zM50.5 144.6h1.1v1.1h-1.1zM48.6 150.0h1.1v1.1h-1.1zM48.9 131.7h1.1v1.1h-1.1zM51.8 150.6h1.1v1.1h-1.1zM50.2 153.6h1.1v1.1h-1.1zM47.9 142.5h1.1v1.1h-1.1zM47.8 147.5h1.1v1.1h-1.1zM57.6 165.1h1.1v1.1h-1.1zM47.6 147.6h1.1v1.1h-1.1zM50.6 155.2h1.1v1.1h-1.1zM46.9 143.1h1.1v1.1h-1.1zM56.5 159.0h1.1v1.1h-1.1zM43.7 137.1h1.1v1.1h-1.1zM46.4 152.5h1.1v1.1h-1.1zM51.4 148.1h1.1v1.1h-1.1zM43.5 152.5h1.1v1.1h-1.1zM51.6 150.8h1.1v1.1h-1.1zM47.6 155.2h1.1v1.1h-1.1zM49.2 142.1h1.1v1.1h-1.1zM49.7 140.7h1.1v1.1h-1.1zM52.9 154.4h1.1v1.1h-1.1zM45.7 152.4h1.1v1.1h-1.1zM54.0 134.1h1.1v1.1h-1.1zM48.9 163.6h1.1v1.1h-1.1zM43.7 149.5h1.1v1.1h-1.1zM44.1 150.2h1.1v1.1h-1.1zM47.4 151.8h1.1v1.1h-1.1zM50.8 154.1h1.1v1.1h-1.1zM53.6 156.2h1.1v1.1h-1.1zM52.1 143.1h1.1v1.1h-1.1zM57.8 157.2h1.1v1.1h-1.1zM52.1 158.5h1.1v1.1h-1.1zM48.0 150.1h1.1v1.1h-1.1zM57.5 134.5h1.1v1.1h-1.1zM50.7 137.2h1.1v1.1h-1.1zM47.0 150.0h1.1v1.1h-1.1zM48.1 152.1h1.1v1.1h-1.1zM46.5 149.9h1.1v1.1h-1.1zM45.0 147.7h1.1v1.1h-1.1zM44.2 155.9h1.1v1.1h-1.1zM44.5 156.2h1.1v1.1h-1.1zM47.8 148.4h1.1v1.1h-1.1zM53.8 151.6h1.1v1.1h-1.1zM47.9 139.7h1.1v1.1h-1.1zM49.7 148.3h1.1v1.1h-1.1zM56.9 147.3h1.1v1.1h-1.1zM56.7 161.7h1.1v1.1h-1.1zM47.1 144.3h1.1v1.1h-1.1zM54.3 149.7h1.1v1.1h-1.1zM50.0 148.7h1.1v1.1h-1.1zM44.8 147.8h1.1v1.1h-1.1zM45.8 138.6h1.1v1.1h-1.1zM48.3 164.9h1.1v1.1h-1.1zM55.5 150.3h1.1v1.1h-1.1zM49.9 154.8h1.1v1.1h-1.1zM54.5 153.3h1.1v1.1h-1.1zM47.6 147.7h1.1v1.1h-1.1zM47.0 134.5h1.1v1.1h-1.1zM52.4 150.2h1.1v1.1h-1.1zM49.9 160.6h1.1v1.1h-1.1zM49.6 140.2h1.1v1.1h-1.1zM45.0 153.1h1.1v1.1h-1.1zM44.6 148.0h1.1v1.1h-1.1zM43.8 147.9h1.1v1.1h-1.1zM47.7 155.5h1.1v1.1h-1.1zM54.5 149.3h1.1v1.1h-1.1zM50.8 155.6h1.1v1.1h-1.1zM51.7 162.4h1.1v1.1h-1.1zM53.2 156.2h1.1v1.1h-1.1zM52.3 143.9h1.1v1.1h-1.1zM47.1 149.9h1.1v1.1h-1.1zM49.8 150.9h1.1v1.1h-1.1zM50.6 151.0h1.1v1.1h-1.1zM47.8 137.8h1.1v1.1h-1.1zM52.6 155.5h1.1v1.1h-1.1zM46.1 154.8h1.1v1.1h-1.1zM50.9 151.4h1.1v1.1h-1.1zM47.1 163.7h1.1v1.1h-1.1zM46.1 148.0h1.1v1.1h-1.1zM45.2 146.9h1.1v1.1h-1.1zM50.7 134.2h1.1v1.1h-1.1zM49.5 146.0h1.1v1.1h-1.1zM53.1 158.5h1.1v1.1h-1.1zM53.6 145.4h1.1v1.1h-1.1zM48.2 158.4h1.1v1.1h-1.1zM48.4 141.2h1.1v1.1h-1.1zM46.8 140.2h1.1v1.1h-1.1zM51.5 137.0h1.1v1.1h-1.1zM53.2 137.6h1.1v1.1h-1.1zM49.6 139.1h1.1v1.1h-1.1zM48.2 159.0h1.1v1.1h-1.1zM53.7 161.2h1.1v1.1h-1.1zM49.1 151.6h1.1v1.1h-1.1zM50.3 155.7h1.1v1.1h-1.1zM47.9 159.6h1.1v1.1h-1.1zM50.6 159.9h1.1v1.1h-1.1zM51.2 156.2h1.1v1.1h-1.1zM46.6 147.5h1.1v1.1h-1.1zM44.5 148.4h1.1v1.1h-1.1zM48.7 157.5h1.1v1.1h-1.1zM48.9 160.9h1.1v1.1h-1.1zM53.3 130.6h1.1v1.1h-1.1zM48.4 162.6h1.1v1.1h-1.1zM45.9 147.1h1.1v1.1h-1.1zM50.2 135.9h1.1v1.1h-1.1zM50.1 145.6h1.1v1.1h-1.1zM46.5 156.4h1.1v1.1h-1.1zM62.7 153.5h1.1v1.1h-1.1zM51.5 150.4h1.1v1.1h-1.1zM46.6 152.8h1.1v1.1h-1.1zM55.2 152.3h1.1v1.1h-1.1zM52.8 149.0h1.1v1.1h-1.1zM59.0 137.6h1.1v1.1h-1.1zM51.6 155.1h1.1v1.1h-1.1zM50.4 141.8h1.1v1.1h-1.1zM45.1 148.9h1.1v1.1h-1.1zM49.8 141.0h1.1v1.1h-1.1zM45.3 155.2h1.1v1.1h-1.1zM53.3 146.2h1.1v1.1h-1.1zM46.7 144.9h1.1v1.1h-1.1zM58.8 154.6h1.1v1.1h-1.1zM49.1 158.8h1.1v1.1h-1.1zM58.1 160.1h1.1v1.1h-1.1zM43.9 150.0h1.1v1.1h-1.1zM47.8 148.0h1.1v1.1h-1.1zM44.7 147.6h1.1v1.1h-1.1zM45.2 153.4h1.1v1.1h-1.1zM49.5 139.4h1.1v1.1h-1.1zM42.9 146.8h1.1v1.1h-1.1zM51.8 154.7h1.1v1.1h-1.1zM49.1 124.2h1.1v1.1h-1.1zM47.5 144.8h1.1v1.1h-1.1zM48.1 140.9h1.1v1.1h-1.1zM47.7 145.4h1.1v1.1h-1.1zM59.7 156.3h1.1v1.1h-1.1z" fill="#222" fill-opacity="0.32"/>
<path d="M48.3 149.1h1.1v1.1h-1.1zM48.4 150.2h1.1v1.1h-1.1zM47.8 149.2h1.1v1.1h-1.1zM51.1 153.5h1.1v1.1h-1.1zM49.4 156.0h1.1v1.1h-1.1zM49.2 144.4h1.1v1.1h-1.1zM44.7 145.8h1.1v1.1h-1.1zM48.6 151.3h1.1v1.1h-1.1zM51.2 146.4h1.1v1.1h-1.1zM46.8 153.2h1.1v1.1h-1.1zM51.4 146.9h1.1v1.1h-1.1zM49.5 156.2h1.1v1.1h-1.1zM49.4 149.0h1.1v1.1h-1.1zM43.9 155.9h1.1v1.1h-1.1zM50.2 149.9h1.1v1.1h-1.1zM47.6 143.0h1.1v1.1h-1.1zM48.5 148.8h1.1v1.1h-1.1zM51.2 143.2h1.1v1.1h-1.1zM52.0 149.5h1.1v1.1h-1.1zM51.4 144.4h1.1v1.1h-1.1zM49.5 155.4h1.1v1.1h-1.1zM49.0 141.9h1.1v1.1h-1.1zM47.9 152.0h1.1v1.1h-1.1zM45.5 142.1h1.1v1.1h-1.1zM49.3 144.5h1.1v1.1h-1.1zM50.3 143.4h1.1v1.1h-1.1zM44.5 145.4h1.1v1.1h-1.1zM52.1 145.0h1.1v1.1h-1.1zM48.7 150.5h1.1v1.1h-1.1zM46.5 154.8h1.1v1.1h-1.1zM49.1 151.5h1.1v1.1h-1.1zM44.8 140.5h1.1v1.1h-1.1zM48.2 152.9h1.1v1.1h-1.1zM52.1 148.0h1.1v1.1h-1.1zM48.1 151.6h1.1v1.1h-1.1zM52.2 145.2h1.1v1.1h-1.1zM50.2 148.1h1.1v1.1h-1.1zM47.9 153.4h1.1v1.1h-1.1zM46.9 144.0h1.1v1.1h-1.1zM50.2 149.2h1.1v1.1h-1.1zM48.1 148.6h1.1v1.1h-1.1zM49.9 147.5h1.1v1.1h-1.1zM50.5 151.4h1.1v1.1h-1.1zM52.1 155.7h1.1v1.1h-1.1zM50.7 148.3h1.1v1.1h-1.1zM49.0 146.4h1.1v1.1h-1.1zM55.3 148.2h1.1v1.1h-1.1zM50.0 156.1h1.1v1.1h-1.1zM45.6 145.2h1.1v1.1h-1.1zM47.8 144.4h1.1v1.1h-1.1zM45.8 146.7h1.1v1.1h-1.1zM51.7 153.0h1.1v1.1h-1.1zM48.8 149.5h1.1v1.1h-1.1zM44.9 152.8h1.1v1.1h-1.1zM49.7 143.9h1.1v1.1h-1.1zM49.2 148.4h1.1v1.1h-1.1zM47.5 144.4h1.1v1.1h-1.1zM47.2 144.6h1.1v1.1h-1.1zM49.8 151.2h1.1v1.1h-1.1zM49.5 148.4h1.1v1.1h-1.1zM47.8 159.6h1.1v1.1h-1.1zM44.4 155.3h1.1v1.1h-1.1zM49.5 149.7h1.1v1.1h-1.1zM47.6 148.3h1.1v1.1h-1.1zM46.0 142.4h1.1v1.1h-1.1zM48.5 141.1h1.1v1.1h-1.1zM50.7 154.9h1.1v1.1h-1.1zM49.4 150.4h1.1v1.1h-1.1zM49.0 151.5h1.1v1.1h-1.1zM50.5 153.7h1.1v1.1h-1.1zM52.9 149.5h1.1v1.1h-1.1zM50.7 141.2h1.1v1.1h-1.1zM48.4 143.3h1.1v1.1h-1.1zM51.9 161.0h1.1v1.1h-1.1zM50.0 142.9h1.1v1.1h-1.1zM48.5 149.5h1.1v1.1h-1.1zM49.2 154.8h1.1v1.1h-1.1zM50.9 136.1h1.1v1.1h-1.1zM51.9 146.9h1.1v1.1h-1.1zM47.5 156.5h1.1v1.1h-1.1zM48.1 142.5h1.1v1.1h-1.1zM45.7 149.7h1.1v1.1h-1.1zM50.8 156.9h1.1v1.1h-1.1zM48.4 147.0h1.1v1.1h-1.1zM52.5 147.1h1.1v1.1h-1.1zM52.1 150.6h1.1v1.1h-1.1zM49.3 148.2h1.1v1.1h-1.1zM49.4 147.1h1.1v1.1h-1.1zM47.2 148.7h1.1v1.1h-1.1zM47.3 150.9h1.1v1.1h-1.1zM48.9 148.1h1.1v1.1h-1.1zM48.3 148.2h1.1v1.1h-1.1zM52.7 149.3h1.1v1.1h-1.1zM47.4 147.9h1.1v1.1h-1.1zM50.3 148.4h1.1v1.1h-1.1zM48.4 148.1h1.1v1.1h-1.1zM49.1 151.3h1.1v1.1h-1.1zM49.8 141.2h1.1v1.1h-1.1zM46.3 136.2h1.1v1.1h-1.1zM50.6 154.9h1.1v1.1h-1.1zM51.7 150.1h1.1v1.1h-1.1zM51.4 149.2h1.1v1.1h-1.1zM48.5 141.7h1.1v1.1h-1.1zM46.9 146.4h1.1v1.1h-1.1zM50.9 157.7h1.1v1.1h-1.1zM47.7 151.2h1.1v1.1h-1.1zM49.4 145.5h1.1v1.1h-1.1zM44.8 145.6h1.1v1.1h-1.1zM45.4 147.8h1.1v1.1h-1.1zM48.4 148.5h1.1v1.1h-1.1zM48.4 151.8h1.1v1.1h-1.1zM46.6 153.8h1.1v1.1h-1.1zM44.9 149.7h1.1v1.1h-1.1zM49.6 145.4h1.1v1.1h-1.1zM45.1 152.6h1.1v1.1h-1.1zM47.2 153.3h1.1v1.1h-1.1zM50.5 149.3h1.1v1.1h-1.1zM48.7 154.3h1.1v1.1h-1.1zM49.6 144.7h1.1v1.1h-1.1zM49.1 152.1h1.1v1.1h-1.1zM49.2 150.3h1.1v1.1h-1.1zM48.4 148.8h1.1v1.1h-1.1zM46.6 142.2h1.1v1.1h-1.1zM51.3 146.2h1.1v1.1h-1.1zM49.2 141.9h1.1v1.1h-1.1zM49.1 145.2h1.1v1.1h-1.1zM55.5 144.3h1.1v1.1h-1.1zM46.5 154.1h1.1v1.1h-1.1zM51.3 138.9h1.1v1.1h-1.1zM49.3 153.7h1.1v1.1h-1.1zM45.9 152.8h1.1v1.1h-1.1zM47.5 144.4h1.1v1.1h-1.1zM47.9 147.1h1.1v1.1h-1.1zM45.6 160.5h1.1v1.1h-1.1zM47.7 145.6h1.1v1.1h-1.1zM50.7 149.0h1.1v1.1h-1.1zM51.8 148.0h1.1v1.1h-1.1zM49.5 149.8h1.1v1.1h-1.1zM49.1 148.3h1.1v1.1h-1.1zM48.5 157.7h1.1v1.1h-1.1zM47.2 146.6h1.1v1.1h-1.1zM47.9 152.2h1.1v1.1h-1.1zM49.6 154.0h1.1v1.1h-1.1zM45.7 150.6h1.1v1.1h-1.1zM48.3 147.9h1.1v1.1h-1.1zM49.1 139.6h1.1v1.1h-1.1zM49.4 150.1h1.1v1.1h-1.1zM45.5 148.9h1.1v1.1h-1.1zM52.3 147.4h1.1v1.1h-1.1zM50.1 148.2h1.1v1.1h-1.1zM46.9 144.8h1.1v1.1h-1.1zM47.8 155.8h1.1v1.1h-1.1zM50.6 145.9h1.1v1.1h-1.1zM51.0 148.7h1.1v1.1h-1.1zM47.2 151.5h1.1v1.1h-1.1zM46.7 141.6h1.1v1.1h-1.1zM51.7 140.3h1.1v1.1h-1.1zM50.0 141.8h1.1v1.1h-1.1zM48.7 148.4h1.1v1.1h-1.1zM47.7 138.5h1.1v1.1h-1.1zM48.5 149.2h1.1v1.1h-1.1zM46.7 149.0h1.1v1.1h-1.1zM51.0 145.8h1.1v1.1h-1.1zM49.3 143.7h1.1v1.1h-1.1zM49.6 152.5h1.1v1.1h-1.1zM54.4 153.8h1.1v1.1h-1.1zM49.7 156.3h1.1v1.1h-1.1zM46.5 154.7h1.1v1.1h-1.1zM47.5 146.3h1.1v1.1h-1.1zM51.2 150.5h1.1v1.1h-1.1zM51.8 142.2h1.1v1.1h-1.1zM49.4 146.8h1.1v1.1h-1.1zM48.1 140.0h1.1v1.1h-1.1zM50.9 150.4h1.1v1.1h-1.1zM46.5 142.8h1.1v1.1h-1.1zM46.8 156.3h1.1v1.1h-1.1zM48.5 147.8h1.1v1.1h-1.1zM49.9 149.5h1.1v1.1h-1.1zM49.3 153.1h1.1v1.1h-1.1zM49.5 153.7h1.1v1.1h-1.1zM46.1 149.7h1.1v1.1h-1.1zM48.0 150.0h1.1v1.1h-1.1zM48.7 146.3h1.1v1.1h-1.1zM48.0 154.1h1.1v1.1h-1.1zM47.5 143.3h1.1v1.1h-1.1zM50.1 154.2h1.1v1.1h-1.1zM48.2 150.1h1.1v1.1h-1.1zM46.9 148.5h1.1v1.1h-1.1zM51.3 153.4h1.1v1.1h-1.1zM49.1 148.1h1.1v1.1h-1.1zM45.1 151.0h1.1v1.1h-1.1zM49.8 154.6h1.1v1.1h-1.1zM53.3 151.3h1.1v1.1h-1.1zM50.9 144.0h1.1v1.1h-1.1zM51.5 153.7h1.1v1.1h-1.1zM51.9 152.8h1.1v1.1h-1.1zM49.8 156.7h1.1v1.1h-1.1zM47.3 152.7h1.1v1.1h-1.1zM51.2 145.7h1.1v1.1h-1.1zM46.2 151.6h1.1v1.1h-1.1zM49.1 152.5h1.1v1.1h-1.1zM50.3 145.8h1.1v1.1h-1.1zM49.6 155.0h1.1v1.1h-1.1zM48.0 148.2h1.1v1.1h-1.1zM46.3 153.5h1.1v1.1h-1.1zM53.2 142.9h1.1v1.1h-1.1zM50.5 154.0h1.1v1.1h-1.1zM47.6 147.7h1.1v1.1h-1.1zM46.5 145.7h1.1v1.1h-1.1zM49.2 152.7h1.1v1.1h-1.1zM49.1 153.7h1.1v1.1h-1.1zM49.3 143.9h1.1v1.1h-1.1zM52.1 155.4h1.1v1.1h-1.1zM47.2 158.2h1.1v1.1h-1.1zM49.9 150.2h1.1v1.1h-1.1zM53.1 137.4h1.1v1.1h-1.1zM45.2 153.1h1.1v1.1h-1.1zM48.3 145.0h1.1v1.1h-1.1zM52.2 152.0h1.1v1.1h-1.1zM46.0 146.4h1.1v1.1h-1.1zM50.7 158.3h1.1v1.1h-1.1zM44.4 150.8h1.1v1.1h-1.1zM48.0 141.1h1.1v1.1h-1.1zM48.5 141.8h1.1v1.1h-1.1zM47.7 157.5h1.1v1.1h-1.1zM50.0 153.4h1.1v1.1h-1.1zM50.2 151.4h1.1v1.1h-1.1zM51.0 144.0h1.1v1.1h-1.1zM48.1 153.8h1.1v1.1h-1.1zM47.2 147.5h1.1v1.1h-1.1zM51.6 157.1h1.1v1.1h-1.1zM47.5 145.7h1.1v1.1h-1.1zM50.2 151.0h1.1v1.1h-1.1zM47.4 152.6h1.1v1.1h-1.1zM50.1 150.1h1.1v1.1h-1.1zM55.5 156.3h1.1v1.1h-1.1zM50.7 154.7h1.1v1.1h-1.1zM55.5 155.1h1.1v1.1h-1.1zM47.3 151.3h1.1v1.1h-1.1zM49.1 146.9h1.1v1.1h-1.1zM49.5 150.9h1.1v1.1h-1.1zM48.8 147.3h1.1v1.1h-1.1zM50.8 141.9h1.1v1.1h-1.1zM50.7 149.8h1.1v1.1h-1.1zM49.5 138.1h1.1v1.1h-1.1zM52.7 141.3h1.1v1.1h-1.1zM47.0 152.9h1.1v1.1h-1.1zM47.5 147.7h1.1v1.1h-1.1zM43.9 147.6h1.1v1.1h-1.1zM49.4 153.0h1.1v1.1h-1.1zM48.3 150.8h1.1v1.1h-1.1zM49.9 146.4h1.1v1.1h-1.1zM47.2 159.3h1.1v1.1h-1.1zM47.0 155.8h1.1v1.1h-1.1zM49.1 156.9h1.1v1.1h-1.1zM47.5 152.3h1.1v1.1h-1.1zM49.6 148.6h1.1v1.1h-1.1zM49.6 146.0h1.1v1.1h-1.1zM48.7 147.8h1.1v1.1h-1.1zM50.6 149.3h1.1v1.1h-1.1zM45.8 147.9h1.1v1.1h-1.1zM48.7 145.3h1.1v1.1h-1.1zM51.9 151.7h1.1v1.1h-1.1zM50.8 146.0h1.1v1.1h-1.1zM48.0 154.7h1.1v1.1h-1.1zM45.7 151.5h1.1v1.1h-1.1zM49.1 147.3h1.1v1.1h-1.1zM49.1 144.5h1.1v1.1h-1.1zM49.4 143.8h1.1v1.1h-1.1zM46.0 156.6h1.1v1.1h-1.1zM47.3 139.4h1.1v1.1h-1.1zM51.1 145.9h1.1v1.1h-1.1zM51.0 151.5h1.1v1.1h-1.1zM52.8 149.1h1.1v1.1h-1.1zM50.3 144.8h1.1v1.1h-1.1zM49.3 157.3h1.1v1.1h-1.1zM50.0 150.5h1.1v1.1h-1.1zM44.4 147.9h1.1v1.1h-1.1zM46.0 153.6h1.1v1.1h-1.1zM47.2 151.5h1.1v1.1h-1.1zM46.6 159.0h1.1v1.1h-1.1zM46.3 150.4h1.1v1.1h-1.1zM54.9 150.8h1.1v1.1h-1.1zM46.9 152.8h1.1v1.1h-1.1zM51.2 154.0h1.1v1.1h-1.1zM44.4 150.8h1.1v1.1h-1.1zM44.1 159.1h1.1v1.1h-1.1zM49.1 147.5h1.1v1.1h-1.1zM50.4 152.1h1.1v1.1h-1.1zM46.2 157.7h1.1v1.1h-1.1zM48.4 141.1h1.1v1.1h-1.1zM52.1 157.3h1.1v1.1h-1.1zM51.8 152.4h1.1v1.1h-1.1zM46.9 154.4h1.1v1.1h-1.1zM53.1 153.8h1.1v1.1h-1.1zM52.6 145.9h1.1v1.1h-1.1zM51.2 154.4h1.1v1.1h-1.1zM45.5 141.7h1.1v1.1h-1.1zM47.3 150.2h1.1v1.1h-1.1zM49.9 148.6h1.1v1.1h-1.1zM48.8 149.2h1.1v1.1h-1.1zM49.1 152.6h1.1v1.1h-1.1zM50.0 149.5h1.1v1.1h-1.1zM49.5 147.5h1.1v1.1h-1.1zM50.7 147.3h1.1v1.1h-1.1zM52.7 149.6h1.1v1.1h-1.1zM49.5 146.0h1.1v1.1h-1.1zM48.1 150.6h1.1v1.1h-1.1zM49.0 146.7h1.1v1.1h-1.1zM46.3 150.0h1.1v1.1h-1.1zM49.3 152.5h1.1v1.1h-1.1zM51.8 148.2h1.1v1.1h-1.1zM44.4 149.1h1.1v1.1h-1.1zM44.7 143.4h1.1v1.1h-1.1zM51.3 152.6h1.1v1.1h-1.1zM47.5 146.6h1.1v1.1h-1.1zM48.7 141.1h1.1v1.1h-1.1zM50.0 148.0h1.1v1.1h-1.1zM53.1 144.5h1.1v1.1h-1.1zM51.2 146.4h1.1v1.1h-1.1zM51.3 144.9h1.1v1.1h-1.1zM50.6 147.6h1.1v1.1h-1.1zM47.0 149.0h1.1v1.1h-1.1zM50.0 151.8h1.1v1.1h-1.1zM52.5 153.9h1.1v1.1h-1.1zM42.9 147.8h1.1v1.1h-1.1zM44.4 147.9h1.1v1.1h-1.1zM50.4 143.1h1.1v1.1h-1.1zM46.2 150.5h1.1v1.1h-1.1zM48.3 157.7h1.1v1.1h-1.1zM49.7 152.4h1.1v1.1h-1.1zM52.9 147.3h1.1v1.1h-1.1zM48.9 144.8h1.1v1.1h-1.1zM49.5 154.9h1.1v1.1h-1.1zM52.1 149.6h1.1v1.1h-1.1zM47.3 146.0h1.1v1.1h-1.1zM45.7 150.4h1.1v1.1h-1.1zM52.1 138.0h1.1v1.1h-1.1zM43.9 156.8h1.1v1.1h-1.1zM45.2 151.4h1.1v1.1h-1.1zM46.0 153.7h1.1v1.1h-1.1zM50.7 150.6h1.1v1.1h-1.1zM50.8 150.1h1.1v1.1h-1.1zM50.2 158.9h1.1v1.1h-1.1zM51.5 146.5h1.1v1.1h-1.1zM47.1 148.6h1.1v1.1h-1.1zM48.4 150.2h1.1v1.1h-1.1zM47.6 153.1h1.1v1.1h-1.1zM49.0 151.6h1.1v1.1h-1.1zM49.0 152.9h1.1v1.1h-1.1zM46.2 157.7h1.1v1.1h-1.1zM49.8 152.1h1.1v1.1h-1.1zM50.4 155.3h1.1v1.1h-1.1zM50.7 151.0h1.1v1.1h-1.1zM48.5 141.6h1.1v1.1h-1.1zM49.5 148.3h1.1v1.1h-1.1zM48.2 161.9h1.1v1.1h-1.1zM44.7 150.1h1.1v1.1h-1.1zM51.8 154.7h1.1v1.1h-1.1zM51.8 143.5h1.1v1.1h-1.1zM46.8 153.0h1.1v1.1h-1.1zM48.3 158.4h1.1v1.1h-1.1zM49.5 150.9h1.1v1.1h-1.1zM50.0 148.5h1.1v1.1h-1.1zM49.3 146.5h1.1v1.1h-1.1zM48.9 147.5h1.1v1.1h-1.1zM49.6 142.8h1.1v1.1h-1.1zM45.6 152.2h1.1v1.1h-1.1zM49.5 145.1h1.1v1.1h-1.1zM48.5 144.7h1.1v1.1h-1.1zM53.7 142.1h1.1v1.1h-1.1zM52.9 145.8h1.1v1.1h-1.1zM50.0 148.6h1.1v1.1h-1.1zM48.1 154.6h1.1v1.1h-1.1zM50.9 148.5h1.1v1.1h-1.1zM46.9 160.3h1.1v1.1h-1.1zM52.2 150.6h1.1v1.1h-1.1zM48.3 151.4h1.1v1.1h-1.1zM49.2 155.9h1.1v1.1h-1.1zM46.8 150.0h1.1v1.1h-1.1zM47.2 156.5h1.1v1.1h-1.1zM53.2 149.5h1.1v1.1h-1.1zM50.2 157.0h1.1v1.1h-1.1zM48.3 145.3h1.1v1.1h-1.1zM51.4 152.5h1.1v1.1h-1.1zM48.5 157.3h1.1v1.1h-1.1zM49.6 141.1h1.1v1.1h-1.1zM49.8 149.7h1.1v1.1h-1.1zM53.3 149.9h1.1v1.1h-1.1zM48.5 152.1h1.1v1.1h-1.1zM49.6 142.9h1.1v1.1h-1.1zM49.3 148.3h1.1v1.1h-1.1zM52.2 162.0h1.1v1.1h-1.1zM46.4 145.1h1.1v1.1h-1.1zM47.1 146.7h1.1v1.1h-1.1zM47.4 150.2h1.1v1.1h-1.1zM51.5 143.5h1.1v1.1h-1.1zM45.5 140.8h1.1v1.1h-1.1zM51.6 156.6h1.1v1.1h-1.1zM45.5 141.8h1.1v1.1h-1.1zM49.3 155.4h1.1v1.1h-1.1zM51.3 150.9h1.1v1.1h-1.1zM50.6 151.6h1.1v1.1h-1.1zM47.7 159.5h1.1v1.1h-1.1zM49.0 144.4h1.1v1.1h-1.1zM47.9 142.3h1.1v1.1h-1.1zM49.1 155.5h1.1v1.1h-1.1zM46.1 155.6h1.1v1.1h-1.1zM53.8 151.9h1.1v1.1h-1.1zM46.4 145.7h1.1v1.1h-1.1zM48.2 143.6h1.1v1.1h-1.1zM46.1 148.7h1.1v1.1h-1.1zM48.6 153.0h1.1v1.1h-1.1zM46.3 159.3h1.1v1.1h-1.1zM51.5 154.4h1.1v1.1h-1.1zM47.5 158.7h1.1v1.1h-1.1zM48.2 159.1h1.1v1.1h-1.1zM51.5 145.5h1.1v1.1h-1.1zM48.0 159.3h1.1v1.1h-1.1zM51.3 149.2h1.1v1.1h-1.1zM49.5 151.0h1.1v1.1h-1.1zM47.2 149.0h1.1v1.1h-1.1zM47.5 147.8h1.1v1.1h-1.1zM50.1 145.2h1.1v1.1h-1.1zM50.7 150.5h1.1v1.1h-1.1zM50.8 154.4h1.1v1.1h-1.1zM51.9 153.1h1.1v1.1h-1.1zM50.6 149.1h1.1v1.1h-1.1zM50.3 145.5h1.1v1.1h-1.1zM48.5 153.7h1.1v1.1h-1.1zM48.9 152.2h1.1v1.1h-1.1zM46.6 156.8h1.1v1.1h-1.1zM47.7 152.0h1.1v1.1h-1.1zM49.0 154.6h1.1v1.1h-1.1zM48.1 145.0h1.1v1.1h-1.1zM44.6 148.4h1.1v1.1h-1.1zM46.3 152.7h1.1v1.1h-1.1zM52.3 138.8h1.1v1.1h-1.1zM46.0 151.5h1.1v1.1h-1.1zM51.9 151.5h1.1v1.1h-1.1zM49.8 152.5h1.1v1.1h-1.1zM50.3 158.2h1.1v1.1h-1.1zM50.4 143.8h1.1v1.1h-1.1zM47.9 151.0h1.1v1.1h-1.1zM47.1 148.7h1.1v1.1h-1.1zM47.8 146.5h1.1v1.1h-1.1zM50.6 148.0h1.1v1.1h-1.1zM46.5 146.4h1.1v1.1h-1.1zM49.1 160.6h1.1v1.1h-1.1zM49.6 157.4h1.1v1.1h-1.1zM50.2 139.2h1.1v1.1h-1.1zM49.9 145.7h1.1v1.1h-1.1zM45.9 144.6h1.1v1.1h-1.1zM53.2 142.0h1.1v1.1h-1.1zM47.6 155.8h1.1v1.1h-1.1zM50.6 141.4h1.1v1.1h-1.1zM48.8 147.4h1.1v1.1h-1.1zM48.6 153.7h1.1v1.1h-1.1zM47.7 148.4h1.1v1.1h-1.1zM52.4 140.7h1.1v1.1h-1.1zM48.2 152.3h1.1v1.1h-1.1zM46.1 146.8h1.1v1.1h-1.1zM46.0 150.7h1.1v1.1h-1.1zM47.6 153.9h1.1v1.1h-1.1zM51.4 150.2h1.1v1.1h-1.1zM48.1 151.3h1.1v1.1h-1.1zM49.1 143.8h1.1v1.1h-1.1zM51.5 151.1h1.1v1.1h-1.1zM50.8 143.1h1.1v1.1h-1.1zM51.0 160.6h1.1v1.1h-1.1zM50.4 142.6h1.1v1.1h-1.1zM49.1 149.7h1.1v1.1h-1.1zM49.5 148.8h1.1v1.1h-1.1zM50.2 147.6h1.1v1.1h-1.1zM49.5 146.5h1.1v1.1h-1.1zM49.2 155.0h1.1v1.1h-1.1zM47.9 153.3h1.1v1.1h-1.1zM46.9 148.1h1.1v1.1h-1.1zM48.5 156.2h1.1v1.1h-1.1zM47.2 156.1h1.1v1.1h-1.1zM45.6 149.1h1.1v1.1h-1.1zM51.1 153.4h1.1v1.1h-1.1zM46.7 143.8h1.1v1.1h-1.1zM51.0 143.6h1.1v1.1h-1.1zM50.3 147.3h1.1v1.1h-1.1zM49.0 161.6h1.1v1.1h-1.1zM52.6 154.2h1.1v1.1h-1.1zM45.8 151.5h1.1v1.1h-1.1zM49.1 149.4h1.1v1.1h-1.1zM52.1 141.2h1.1v1.1h-1.1zM49.7 150.6h1.1v1.1h-1.1zM47.2 158.6h1.1v1.1h-1.1zM46.0 150.1h1.1v1.1h-1.1zM49.2 138.8h1.1v1.1h-1.1zM45.7 145.0h1.1v1.1h-1.1zM50.8 154.7h1.1v1.1h-1.1zM50.4 151.1h1.1v1.1h-1.1z" fill="#222" fill-opacity="0.45"/>
<rect x="42.30" y="105.70" width="60.60" height="60.60" fill="none" stroke="#3a3a3a" stroke-width="0.9"/>
<line x1="60.50" y1="105.70" x2="60.50" y2="166.30" stroke="#3a3a3a" stroke-width="0.9"/>
<line x1="42.30" y1="148.40" x2="102.90" y2="148.40" stroke="#3a3a3a" stroke-width="0.9"/>
<path d="M167.2 142.6h1.1v1.1h-1.1zM173.6 145.9h1.1v1.1h-1.1zM180.8 149.6h1.1v1.1h-1.1zM178.3 144.7h1.1v1.1h-1.1zM171.6 142.1h1.1v1.1h-1.1zM170.9 145.0h1.1v1.1h-1.1zM171.0 141.1h1.1v1.1h-1.1zM172.4 140.3h1.1v1.1h-1.1zM177.4 139.9h1.1v1.1h-1.1zM176.4 138.4h1.1v1.1h-1.1zM181.0 139.6h1.1v1.1h-1.1zM179.5 149.2h1.1v1.1h-1.1zM166.2 138.4h1.1v1.1h-1.1zM174.8 145.9h1.1v1.1h-1.1zM173.7 143.2h1.1v1.1h-1.1zM172.8 143.8h1.1v1.1h-1.1zM170.9 144.7h1.1v1.1h-1.1zM164.0 135.3h1.1v1.1h-1.1zM182.6 142.4h1.1v1.1h-1.1zM172.1 149.5h1.1v1.1h-1.1zM179.6 145.8h1.1v1.1h-1.1zM173.9 144.0h1.1v1.1h-1.1zM177.5 136.1h1.1v1.1h-1.1zM177.9 141.2h1.1v1.1h-1.1zM180.6 146.4h1.1v1.1h-1.1zM173.1 139.8h1.1v1.1h-1.1zM176.3 144.1h1.1v1.1h-1.1zM174.0 141.4h1.1v1.1h-1.1zM177.9 143.3h1.1v1.1h-1.1zM180.1 142.7h1.1v1.1h-1.1zM172.1 135.7h1.1v1.1h-1.1zM178.7 140.7h1.1v1.1h-1.1zM174.2 140.8h1.1v1.1h-1.1zM169.5 140.5h1.1v1.1h-1.1zM165.5 140.4h1.1v1.1h-1.1zM172.1 148.2h1.1v1.1h-1.1zM177.3 141.1h1.1v1.1h-1.1zM176.2 144.4h1.1v1.1h-1.1zM172.6 141.0h1.1v1.1h-1.1zM174.2 150.5h1.1v1.1h-1.1zM175.8 135.0h1.1v1.1h-1.1zM178.7 150.8h1.1v1.1h-1.1zM171.8 154.0h1.1v1.1h-1.1zM175.3 145.3h1.1v1.1h-1.1zM173.4 140.9h1.1v1.1h-1.1zM170.7 138.1h1.1v1.1h-1.1zM167.2 145.8h1.1v1.1h-1.1zM171.1 143.1h1.1v1.1h-1.1zM176.8 139.5h1.1v1.1h-1.1zM175.7 141.5h1.1v1.1h-1.1zM173.6 142.0h1.1v1.1h-1.1zM175.7 138.2h1.1v1.1h-1.1zM170.5 138.8h1.1v1.1h-1.1zM176.0 146.7h1.1v1.1h-1.1zM181.3 142.9h1.1v1.1h-1.1zM179.2 142.2h1.1v1.1h-1.1zM179.9 142.3h1.1v1.1h-1.1zM177.1 140.8h1.1v1.1h-1.1zM175.5 148.5h1.1v1.1h-1.1zM170.8 141.8h1.1v1.1h-1.1zM173.2 145.2h1.1v1.1h-1.1zM182.6 140.7h1.1v1.1h-1.1zM164.6 144.0h1.1v1.1h-1.1zM177.9 135.9h1.1v1.1h-1.1zM174.6 141.6h1.1v1.1h-1.1zM166.4 144.2h1.1v1.1h-1.1zM177.2 142.6h1.1v1.1h-1.1zM171.3 139.3h1.1v1.1h-1.1zM173.0 143.5h1.1v1.1h-1.1zM171.6 146.9h1.1v1.1h-1.1zM177.0 134.1h1.1v1.1h-1.1zM182.1 142.3h1.1v1.1h-1.1zM173.3 142.1h1.1v1.1h-1.1zM168.3 142.4h1.1v1.1h-1.1zM165.8 138.2h1.1v1.1h-1.1zM180.8 146.2h1.1v1.1h-1.1zM174.1 138.4h1.1v1.1h-1.1zM179.2 141.6h1.1v1.1h-1.1zM176.3 144.0h1.1v1.1h-1.1zM171.2 144.6h1.1v1.1h-1.1zM167.1 146.9h1.1v1.1h-1.1zM169.3 139.5h1.1v1.1h-1.1zM172.8 144.3h1.1v1.1h-1.1zM178.4 143.0h1.1v1.1h-1.1zM177.6 143.4h1.1v1.1h-1.1zM175.2 135.0h1.1v1.1h-1.1zM166.3 133.6h1.1v1.1h-1.1zM175.3 140.9h1.1v1.1h-1.1zM174.9 142.5h1.1v1.1h-1.1zM174.5 138.2h1.1v1.1h-1.1zM169.5 135.0h1.1v1.1h-1.1zM180.3 144.9h1.1v1.1h-1.1zM170.1 140.8h1.1v1.1h-1.1zM177.2 147.4h1.1v1.1h-1.1zM173.1 142.3h1.1v1.1h-1.1zM180.0 135.6h1.1v1.1h-1.1zM172.5 141.6h1.1v1.1h-1.1zM172.6 149.2h1.1v1.1h-1.1zM178.9 142.4h1.1v1.1h-1.1zM171.6 144.8h1.1v1.1h-1.1zM177.9 139.9h1.1v1.1h-1.1zM173.7 136.5h1.1v1.1h-1.1zM175.1 144.8h1.1v1.1h-1.1zM179.4 143.8h1.1v1.1h-1.1zM178.7 139.6h1.1v1.1h-1.1zM173.5 146.0h1.1v1.1h-1.1zM177.2 138.9h1.1v1.1h-1.1zM177.4 144.6h1.1v1.1h-1.1zM178.2 142.1h1.1v1.1h-1.1zM173.4 143.1h1.1v1.1h-1.1zM182.1 142.2h1.1v1.1h-1.1zM172.8 142.9h1.1v1.1h-1.1zM170.5 142.5h1.1v1.1h-1.1zM174.2 145.1h1.1v1.1h-1.1zM175.8 145.4h1.1v1.1h-1.1zM184.5 140.9h1.1v1.1h-1.1zM172.1 143.3h1.1v1.1h-1.1zM175.0 142.2h1.1v1.1h-1.1zM173.0 143.7h1.1v1.1h-1.1zM175.7 134.0h1.1v1.1h-1.1zM174.5 142.9h1.1v1.1h-1.1zM180.1 139.6h1.1v1.1h-1.1zM172.2 145.7h1.1v1.1h-1.1zM173.0 142.0h1.1v1.1h-1.1zM177.3 144.3h1.1v1.1h-1.1zM175.4 137.7h1.1v1.1h-1.1zM179.4 140.1h1.1v1.1h-1.1zM173.3 148.8h1.1v1.1h-1.1zM178.9 137.9h1.1v1.1h-1.1zM173.5 140.8h1.1v1.1h-1.1zM172.4 134.9h1.1v1.1h-1.1zM178.5 144.4h1.1v1.1h-1.1zM176.3 140.3h1.1v1.1h-1.1zM176.2 143.9h1.1v1.1h-1.1zM171.3 140.5h1.1v1.1h-1.1zM173.2 144.1h1.1v1.1h-1.1zM176.4 137.1h1.1v1.1h-1.1zM172.9 147.9h1.1v1.1h-1.1zM171.5 142.2h1.1v1.1h-1.1zM172.9 146.1h1.1v1.1h-1.1zM175.1 140.1h1.1v1.1h-1.1zM170.7 140.8h1.1v1.1h-1.1zM178.6 144.0h1.1v1.1h-1.1zM170.2 147.2h1.1v1.1h-1.1zM174.4 137.9h1.1v1.1h-1.1zM175.9 139.5h1.1v1.1h-1.1zM173.1 139.4h1.1v1.1h-1.1zM175.0 139.9h1.1v1.1h-1.1zM168.6 143.5h1.1v1.1h-1.1zM173.3 145.9h1.1v1.1h-1.1zM177.5 143.8h1.1v1.1h-1.1zM176.1 146.2h1.1v1.1h-1.1zM174.1 138.1h1.1v1.1h-1.1zM176.7 132.1h1.1v1.1h-1.1zM173.9 142.4h1.1v1.1h-1.1zM173.7 146.1h1.1v1.1h-1.1zM178.1 142.0h1.1v1.1h-1.1zM173.8 145.5h1.1v1.1h-1.1zM172.7 140.2h1.1v1.1h-1.1zM178.3 143.7h1.1v1.1h-1.1zM183.3 140.9h1.1v1.1h-1.1zM167.9 143.9h1.1v1.1h-1.1zM180.3 141.0h1.1v1.1h-1.1zM181.5 147.9h1.1v1.1h-1.1zM172.7 139.9h1.1v1.1h-1.1zM170.4 143.5h1.1v1.1h-1.1zM178.1 143.7h1.1v1.1h-1.1zM170.5 138.9h1.1v1.1h-1.1zM169.7 136.0h1.1v1.1h-1.1zM170.0 136.1h1.1v1.1h-1.1zM174.6 143.1h1.1v1.1h-1.1zM177.8 141.5h1.1v1.1h-1.1zM172.7 141.6h1.1v1.1h-1.1zM177.5 140.6h1.1v1.1h-1.1zM175.5 140.5h1.1v1.1h-1.1zM173.3 141.7h1.1v1.1h-1.1zM170.9 145.3h1.1v1.1h-1.1zM169.2 143.2h1.1v1.1h-1.1zM170.0 146.9h1.1v1.1h-1.1zM178.7 138.8h1.1v1.1h-1.1zM173.5 137.7h1.1v1.1h-1.1zM175.1 143.0h1.1v1.1h-1.1zM185.3 136.8h1.1v1.1h-1.1zM180.2 139.6h1.1v1.1h-1.1zM176.4 144.7h1.1v1.1h-1.1zM177.4 143.1h1.1v1.1h-1.1zM174.5 141.6h1.1v1.1h-1.1zM175.9 145.8h1.1v1.1h-1.1zM169.6 139.9h1.1v1.1h-1.1zM170.4 138.2h1.1v1.1h-1.1zM172.2 145.4h1.1v1.1h-1.1zM183.7 146.3h1.1v1.1h-1.1zM170.7 141.9h1.1v1.1h-1.1zM170.9 143.2h1.1v1.1h-1.1zM180.3 143.7h1.1v1.1h-1.1zM178.7 141.1h1.1v1.1h-1.1zM167.6 134.7h1.1v1.1h-1.1zM174.9 143.6h1.1v1.1h-1.1zM180.3 140.4h1.1v1.1h-1.1zM175.6 142.5h1.1v1.1h-1.1zM179.5 141.4h1.1v1.1h-1.1zM171.0 145.4h1.1v1.1h-1.1zM176.9 142.9h1.1v1.1h-1.1zM170.3 141.6h1.1v1.1h-1.1zM168.6 134.6h1.1v1.1h-1.1zM174.4 140.1h1.1v1.1h-1.1zM177.5 146.6h1.1v1.1h-1.1zM175.2 147.8h1.1v1.1h-1.1zM173.0 144.3h1.1v1.1h-1.1zM170.4 142.0h1.1v1.1h-1.1zM174.1 140.9h1.1v1.1h-1.1zM177.6 135.0h1.1v1.1h-1.1zM175.8 138.8h1.1v1.1h-1.1zM175.8 143.0h1.1v1.1h-1.1zM173.9 140.3h1.1v1.1h-1.1zM170.8 143.5h1.1v1.1h-1.1zM172.7 143.1h1.1v1.1h-1.1zM169.7 146.4h1.1v1.1h-1.1zM171.3 145.6h1.1v1.1h-1.1zM173.6 143.5h1.1v1.1h-1.1zM174.7 144.0h1.1v1.1h-1.1zM175.3 146.0h1.1v1.1h-1.1zM177.9 144.0h1.1v1.1h-1.1zM181.8 139.2h1.1v1.1h-1.1zM180.4 141.8h1.1v1.1h-1.1zM169.5 143.3h1.1v1.1h-1.1zM174.5 147.5h1.1v1.1h-1.1zM173.4 141.8h1.1v1.1h-1.1zM176.2 135.0h1.1v1.1h-1.1zM177.3 138.1h1.1v1.1h-1.1zM180.8 147.4h1.1v1.1h-1.1zM175.3 136.1h1.1v1.1h-1.1zM176.0 142.2h1.1v1.1h-1.1zM178.1 140.6h1.1v1.1h-1.1zM170.7 141.1h1.1v1.1h-1.1zM171.7 147.8h1.1v1.1h-1.1zM172.5 139.3h1.1v1.1h-1.1zM175.1 137.3h1.1v1.1h-1.1zM173.6 141.1h1.1v1.1h-1.1zM173.4 140.7h1.1v1.1h-1.1zM180.1 143.1h1.1v1.1h-1.1zM170.1 140.1h1.1v1.1h-1.1zM178.2 139.3h1.1v1.1h-1.1zM175.6 141.5h1.1v1.1h-1.1zM177.4 141.0h1.1v1.1h-1.1zM174.7 138.6h1.1v1.1h-1.1zM176.7 138.4h1.1v1.1h-1.1zM182.1 141.5h1.1v1.1h-1.1zM174.4 144.3h1.1v1.1h-1.1zM175.0 141.9h1.1v1.1h-1.1zM175.1 139.1h1.1v1.1h-1.1zM171.7 139.2h1.1v1.1h-1.1zM179.7 139.4h1.1v1.1h-1.1zM173.7 140.0h1.1v1.1h-1.1zM178.0 148.5h1.1v1.1h-1.1zM171.7 143.5h1.1v1.1h-1.1zM175.8 140.5h1.1v1.1h-1.1zM177.3 137.2h1.1v1.1h-1.1zM178.5 142.4h1.1v1.1h-1.1zM171.4 147.1h1.1v1.1h-1.1zM178.6 145.6h1.1v1.1h-1.1zM169.6 140.7h1.1v1.1h-1.1zM173.3 143.8h1.1v1.1h-1.1zM180.6 135.0h1.1v1.1h-1.1zM175.4 141.2h1.1v1.1h-1.1zM179.2 141.5h1.1v1.1h-1.1zM170.4 140.9h1.1v1.1h-1.1zM171.3 138.9h1.1v1.1h-1.1zM175.5 139.9h1.1v1.1h-1.1zM176.4 136.3h1.1v1.1h-1.1zM184.3 146.0h1.1v1.1h-1.1zM178.1 137.1h1.1v1.1h-1.1zM166.9 138.6h1.1v1.1h-1.1zM174.4 149.4h1.1v1.1h-1.1zM180.4 139.8h1.1v1.1h-1.1zM180.0 145.9h1.1v1.1h-1.1zM175.4 145.8h1.1v1.1h-1.1zM176.6 139.3h1.1v1.1h-1.1zM170.7 141.2h1.1v1.1h-1.1zM179.2 136.9h1.1v1.1h-1.1zM169.0 143.5h1.1v1.1h-1.1zM164.7 147.9h1.1v1.1h-1.1zM173.6 144.1h1.1v1.1h-1.1zM182.5 136.6h1.1v1.1h-1.1zM171.2 149.4h1.1v1.1h-1.1zM174.2 141.2h1.1v1.1h-1.1zM176.2 145.3h1.1v1.1h-1.1zM180.5 142.0h1.1v1.1h-1.1zM174.0 141.5h1.1v1.1h-1.1zM176.5 146.2h1.1v1.1h-1.1zM175.8 147.9h1.1v1.1h-1.1zM172.0 143.4h1.1v1.1h-1.1zM182.1 146.1h1.1v1.1h-1.1zM176.6 138.5h1.1v1.1h-1.1zM172.5 141.1h1.1v1.1h-1.1zM176.5 140.7h1.1v1.1h-1.1zM169.6 139.0h1.1v1.1h-1.1zM177.3 144.5h1.1v1.1h-1.1zM169.9 140.3h1.1v1.1h-1.1zM168.8 139.6h1.1v1.1h-1.1zM189.1 141.8h1.1v1.1h-1.1zM174.0 139.6h1.1v1.1h-1.1zM170.6 135.1h1.1v1.1h-1.1zM175.1 140.6h1.1v1.1h-1.1zM181.0 135.9h1.1v1.1h-1.1zM177.0 146.3h1.1v1.1h-1.1zM167.7 143.9h1.1v1.1h-1.1zM169.0 143.4h1.1v1.1h-1.1zM181.0 141.6h1.1v1.1h-1.1zM176.4 139.2h1.1v1.1h-1.1zM176.4 145.5h1.1v1.1h-1.1zM174.6 141.1h1.1v1.1h-1.1zM176.8 144.5h1.1v1.1h-1.1zM168.9 141.8h1.1v1.1h-1.1zM172.6 143.3h1.1v1.1h-1.1zM179.3 142.7h1.1v1.1h-1.1zM180.3 138.2h1.1v1.1h-1.1zM173.7 138.2h1.1v1.1h-1.1zM175.5 141.9h1.1v1.1h-1.1zM174.5 137.4h1.1v1.1h-1.1zM175.0 140.1h1.1v1.1h-1.1zM177.7 140.7h1.1v1.1h-1.1zM179.8 142.4h1.1v1.1h-1.1zM168.1 141.0h1.1v1.1h-1.1zM169.7 145.0h1.1v1.1h-1.1zM180.9 141.5h1.1v1.1h-1.1zM177.0 136.6h1.1v1.1h-1.1zM166.6 139.7h1.1v1.1h-1.1zM174.3 136.3h1.1v1.1h-1.1zM175.7 142.7h1.1v1.1h-1.1zM177.8 147.0h1.1v1.1h-1.1zM178.5 140.3h1.1v1.1h-1.1zM175.7 143.7h1.1v1.1h-1.1zM171.2 146.2h1.1v1.1h-1.1zM178.8 140.8h1.1v1.1h-1.1zM172.8 154.8h1.1v1.1h-1.1zM178.6 144.9h1.1v1.1h-1.1zM182.3 145.0h1.1v1.1h-1.1zM176.1 144.1h1.1v1.1h-1.1zM171.8 144.1h1.1v1.1h-1.1zM169.3 143.1h1.1v1.1h-1.1zM177.5 136.2h1.1v1.1h-1.1zM182.8 137.6h1.1v1.1h-1.1zM179.4 139.8h1.1v1.1h-1.1zM176.5 139.3h1.1v1.1h-1.1zM185.0 145.2h1.1v1.1h-1.1zM182.4 144.4h1.1v1.1h-1.1zM178.1 142.2h1.1v1.1h-1.1zM174.4 143.8h1.1v1.1h-1.1zM176.0 141.1h1.1v1.1h-1.1zM170.0 140.6h1.1v1.1h-1.1zM177.7 140.0h1.1v1.1h-1.1zM176.7 141.2h1.1v1.1h-1.1zM171.4 138.5h1.1v1.1h-1.1zM172.5 140.7h1.1v1.1h-1.1zM174.4 145.6h1.1v1.1h-1.1zM171.2 134.6h1.1v1.1h-1.1zM178.1 140.1h1.1v1.1h-1.1zM174.9 150.6h1.1v1.1h-1.1zM181.1 143.7h1.1v1.1h-1.1zM179.1 142.1h1.1v1.1h-1.1zM179.1 139.6h1.1v1.1h-1.1zM172.6 140.1h1.1v1.1h-1.1zM181.6 147.1h1.1v1.1h-1.1zM173.0 145.7h1.1v1.1h-1.1zM174.8 145.4h1.1v1.1h-1.1zM174.2 145.0h1.1v1.1h-1.1zM175.0 140.7h1.1v1.1h-1.1zM175.3 142.3h1.1v1.1h-1.1zM173.2 136.9h1.1v1.1h-1.1zM182.0 140.3h1.1v1.1h-1.1zM168.3 133.8h1.1v1.1h-1.1zM164.5 139.6h1.1v1.1h-1.1zM180.7 136.0h1.1v1.1h-1.1zM174.2 135.3h1.1v1.1h-1.1zM179.7 143.0h1.1v1.1h-1.1zM176.7 146.4h1.1v1.1h-1.1zM181.9 145.3h1.1v1.1h-1.1zM173.2 137.1h1.1v1.1h-1.1zM171.4 135.6h1.1v1.1h-1.1zM182.5 141.1h1.1v1.1h-1.1zM176.0 142.4h1.1v1.1h-1.1zM183.3 139.8h1.1v1.1h-1.1zM180.1 142.8h1.1v1.1h-1.1zM174.9 135.0h1.1v1.1h-1.1zM179.0 139.1h1.1v1.1h-1.1zM173.7 142.5h1.1v1.1h-1.1zM175.8 145.7h1.1v1.1h-1.1zM172.8 142.3h1.1v1.1h-1.1zM176.5 141.8h1.1v1.1h-1.1zM178.1 140.9h1.1v1.1h-1.1zM180.2 139.3h1.1v1.1h-1.1zM169.8 141.6h1.1v1.1h-1.1zM180.1 139.9h1.1v1.1h-1.1zM173.0 140.5h1.1v1.1h-1.1zM176.1 141.1h1.1v1.1h-1.1zM176.7 135.7h1.1v1.1h-1.1zM181.3 143.8h1.1v1.1h-1.1zM172.1 146.5h1.1v1.1h-1.1zM177.2 146.9h1.1v1.1h-1.1zM170.9 147.6h1.1v1.1h-1.1zM175.6 134.5h1.1v1.1h-1.1zM178.4 140.7h1.1v1.1h-1.1zM171.5 141.0h1.1v1.1h-1.1zM167.9 143.8h1.1v1.1h-1.1zM174.6 140.8h1.1v1.1h-1.1zM181.0 141.9h1.1v1.1h-1.1zM172.9 138.4h1.1v1.1h-1.1zM175.2 145.5h1.1v1.1h-1.1zM173.2 138.1h1.1v1.1h-1.1zM179.1 142.0h1.1v1.1h-1.1zM175.4 149.0h1.1v1.1h-1.1zM170.7 142.4h1.1v1.1h-1.1zM168.5 140.7h1.1v1.1h-1.1zM177.8 145.7h1.1v1.1h-1.1zM170.5 144.7h1.1v1.1h-1.1zM178.5 141.3h1.1v1.1h-1.1zM185.1 141.7h1.1v1.1h-1.1zM172.0 143.2h1.1v1.1h-1.1zM168.2 147.2h1.1v1.1h-1.1zM179.3 140.3h1.1v1.1h-1.1zM177.9 143.6h1.1v1.1h-1.1zM183.0 139.6h1.1v1.1h-1.1zM170.4 134.6h1.1v1.1h-1.1zM174.3 136.3h1.1v1.1h-1.1zM174.8 143.2h1.1v1.1h-1.1zM173.7 138.4h1.1v1.1h-1.1zM180.1 141.0h1.1v1.1h-1.1zM176.4 145.1h1.1v1.1h-1.1zM170.4 138.5h1.1v1.1h-1.1zM185.2 141.2h1.1v1.1h-1.1zM171.4 140.8h1.1v1.1h-1.1zM173.2 137.4h1.1v1.1h-1.1zM173.9 141.7h1.1v1.1h-1.1zM175.4 143.6h1.1v1.1h-1.1zM168.7 136.5h1.1v1.1h-1.1zM178.5 140.2h1.1v1.1h-1.1zM180.2 142.8h1.1v1.1h-1.1zM169.9 143.6h1.1v1.1h-1.1zM171.5 142.6h1.1v1.1h-1.1zM180.3 149.1h1.1v1.1h-1.1zM175.2 144.2h1.1v1.1h-1.1zM176.6 144.5h1.1v1.1h-1.1zM165.5 140.4h1.1v1.1h-1.1zM176.6 143.4h1.1v1.1h-1.1zM172.5 144.6h1.1v1.1h-1.1zM179.8 142.0h1.1v1.1h-1.1zM174.6 140.5h1.1v1.1h-1.1zM176.0 145.9h1.1v1.1h-1.1zM181.3 140.1h1.1v1.1h-1.1z" fill="#222" fill-opacity="0.3"/>
<path d="M173.6 140.4h1.1v1.1h-1.1zM177.3 142.3h1.1v1.1h-1.1zM176.0 142.8h1.1v1.1h-1.1zM176.1 141.6h1.1v1.1h-1.1zM173.3 140.7h1.1v1.1h-1.1zM175.6 142.6h1.1v1.1h-1.1zM174.7 141.1h1.1v1.1h-1.1zM178.0 141.0h1.1v1.1h-1.1zM175.8 141.3h1.1v1.1h-1.1zM173.7 139.1h1.1v1.1h-1.1zM174.3 140.4h1.1v1.1h-1.1zM177.0 139.8h1.1v1.1h-1.1zM174.6 143.1h1.1v1.1h-1.1zM175.2 142.8h1.1v1.1h-1.1zM177.0 138.8h1.1v1.1h-1.1zM174.6 140.1h1.1v1.1h-1.1zM178.0 141.7h1.1v1.1h-1.1zM176.3 145.0h1.1v1.1h-1.1zM174.7 142.0h1.1v1.1h-1.1zM176.2 141.4h1.1v1.1h-1.1zM177.8 143.4h1.1v1.1h-1.1zM177.3 142.0h1.1v1.1h-1.1zM174.7 141.2h1.1v1.1h-1.1zM174.7 138.9h1.1v1.1h-1.1zM176.1 143.4h1.1v1.1h-1.1zM175.4 141.0h1.1v1.1h-1.1zM175.4 142.3h1.1v1.1h-1.1zM176.0 145.2h1.1v1.1h-1.1zM173.7 142.5h1.1v1.1h-1.1zM176.7 142.0h1.1v1.1h-1.1zM174.9 140.0h1.1v1.1h-1.1zM174.2 143.2h1.1v1.1h-1.1zM178.2 140.7h1.1v1.1h-1.1zM176.3 142.8h1.1v1.1h-1.1zM177.3 142.3h1.1v1.1h-1.1zM176.2 143.5h1.1v1.1h-1.1zM173.1 142.0h1.1v1.1h-1.1zM172.0 138.3h1.1v1.1h-1.1zM173.8 139.1h1.1v1.1h-1.1zM176.3 143.7h1.1v1.1h-1.1zM174.8 141.6h1.1v1.1h-1.1zM174.9 141.4h1.1v1.1h-1.1zM175.6 142.5h1.1v1.1h-1.1zM174.5 140.4h1.1v1.1h-1.1zM174.4 143.3h1.1v1.1h-1.1zM174.6 144.5h1.1v1.1h-1.1zM174.9 144.4h1.1v1.1h-1.1zM173.1 140.6h1.1v1.1h-1.1zM176.3 142.8h1.1v1.1h-1.1zM175.1 145.6h1.1v1.1h-1.1zM175.5 142.4h1.1v1.1h-1.1zM174.3 144.9h1.1v1.1h-1.1zM177.0 142.6h1.1v1.1h-1.1zM172.2 142.5h1.1v1.1h-1.1zM174.5 142.6h1.1v1.1h-1.1zM177.1 140.5h1.1v1.1h-1.1zM175.8 143.5h1.1v1.1h-1.1zM175.7 141.3h1.1v1.1h-1.1zM173.3 140.6h1.1v1.1h-1.1zM172.9 143.6h1.1v1.1h-1.1zM175.6 139.7h1.1v1.1h-1.1zM175.4 139.5h1.1v1.1h-1.1zM169.1 144.0h1.1v1.1h-1.1zM177.6 139.2h1.1v1.1h-1.1zM174.0 142.2h1.1v1.1h-1.1zM174.6 140.3h1.1v1.1h-1.1zM174.4 141.4h1.1v1.1h-1.1zM174.3 142.2h1.1v1.1h-1.1zM174.9 140.5h1.1v1.1h-1.1zM175.4 138.9h1.1v1.1h-1.1zM178.1 138.7h1.1v1.1h-1.1zM175.2 142.5h1.1v1.1h-1.1zM176.1 142.3h1.1v1.1h-1.1zM177.8 139.8h1.1v1.1h-1.1zM175.2 142.1h1.1v1.1h-1.1zM174.4 140.8h1.1v1.1h-1.1zM177.8 140.6h1.1v1.1h-1.1zM174.4 141.4h1.1v1.1h-1.1zM174.9 142.1h1.1v1.1h-1.1zM175.0 142.5h1.1v1.1h-1.1zM175.6 142.7h1.1v1.1h-1.1zM178.0 140.3h1.1v1.1h-1.1zM178.5 141.0h1.1v1.1h-1.1zM176.6 142.1h1.1v1.1h-1.1zM174.8 138.3h1.1v1.1h-1.1zM178.4 140.5h1.1v1.1h-1.1zM173.9 143.8h1.1v1.1h-1.1zM175.5 145.3h1.1v1.1h-1.1zM178.5 143.1h1.1v1.1h-1.1zM175.8 143.2h1.1v1.1h-1.1zM172.8 142.2h1.1v1.1h-1.1zM175.6 141.0h1.1v1.1h-1.1zM175.8 139.2h1.1v1.1h-1.1zM177.1 144.2h1.1v1.1h-1.1zM172.9 142.1h1.1v1.1h-1.1zM178.3 142.6h1.1v1.1h-1.1zM173.4 140.1h1.1v1.1h-1.1zM177.0 145.1h1.1v1.1h-1.1zM173.3 141.9h1.1v1.1h-1.1zM173.9 141.3h1.1v1.1h-1.1zM175.9 141.8h1.1v1.1h-1.1zM174.0 145.6h1.1v1.1h-1.1zM175.0 141.5h1.1v1.1h-1.1zM177.4 141.9h1.1v1.1h-1.1zM175.0 143.5h1.1v1.1h-1.1zM173.4 143.2h1.1v1.1h-1.1zM177.3 143.0h1.1v1.1h-1.1zM175.0 141.8h1.1v1.1h-1.1zM172.1 141.6h1.1v1.1h-1.1zM175.9 143.4h1.1v1.1h-1.1zM175.6 141.1h1.1v1.1h-1.1zM173.8 141.8h1.1v1.1h-1.1zM175.6 144.0h1.1v1.1h-1.1zM175.4 140.9h1.1v1.1h-1.1zM175.1 141.0h1.1v1.1h-1.1zM174.9 137.9h1.1v1.1h-1.1zM172.3 139.7h1.1v1.1h-1.1zM176.2 141.7h1.1v1.1h-1.1zM175.6 143.9h1.1v1.1h-1.1zM173.4 143.9h1.1v1.1h-1.1zM176.1 140.6h1.1v1.1h-1.1zM178.1 139.3h1.1v1.1h-1.1zM173.2 141.5h1.1v1.1h-1.1zM176.1 141.5h1.1v1.1h-1.1zM171.3 141.3h1.1v1.1h-1.1zM175.2 146.4h1.1v1.1h-1.1zM177.9 142.1h1.1v1.1h-1.1zM173.3 142.4h1.1v1.1h-1.1zM173.1 142.2h1.1v1.1h-1.1zM176.0 141.1h1.1v1.1h-1.1zM175.8 141.2h1.1v1.1h-1.1zM174.3 144.6h1.1v1.1h-1.1zM176.4 141.3h1.1v1.1h-1.1zM173.9 142.1h1.1v1.1h-1.1zM176.4 143.3h1.1v1.1h-1.1zM178.1 142.6h1.1v1.1h-1.1zM173.2 145.4h1.1v1.1h-1.1zM177.5 143.3h1.1v1.1h-1.1zM177.8 139.2h1.1v1.1h-1.1zM174.6 140.9h1.1v1.1h-1.1zM177.6 139.7h1.1v1.1h-1.1zM174.7 144.5h1.1v1.1h-1.1zM176.5 141.1h1.1v1.1h-1.1zM178.9 139.5h1.1v1.1h-1.1zM176.2 141.4h1.1v1.1h-1.1zM176.3 141.3h1.1v1.1h-1.1zM173.8 142.2h1.1v1.1h-1.1zM172.9 142.8h1.1v1.1h-1.1zM174.7 143.5h1.1v1.1h-1.1zM174.5 140.6h1.1v1.1h-1.1zM176.1 144.0h1.1v1.1h-1.1zM171.4 142.0h1.1v1.1h-1.1zM176.5 139.3h1.1v1.1h-1.1zM173.7 143.0h1.1v1.1h-1.1zM173.8 140.7h1.1v1.1h-1.1zM178.5 140.1h1.1v1.1h-1.1zM173.7 137.7h1.1v1.1h-1.1zM173.3 139.6h1.1v1.1h-1.1zM178.5 144.0h1.1v1.1h-1.1zM173.0 145.3h1.1v1.1h-1.1zM176.8 141.5h1.1v1.1h-1.1zM176.8 142.5h1.1v1.1h-1.1zM173.9 138.7h1.1v1.1h-1.1zM173.6 141.8h1.1v1.1h-1.1zM174.7 140.5h1.1v1.1h-1.1zM177.1 139.9h1.1v1.1h-1.1zM177.0 141.0h1.1v1.1h-1.1zM175.5 139.8h1.1v1.1h-1.1zM175.3 140.4h1.1v1.1h-1.1zM172.0 141.8h1.1v1.1h-1.1zM175.2 143.3h1.1v1.1h-1.1zM175.8 140.0h1.1v1.1h-1.1zM174.2 137.4h1.1v1.1h-1.1zM173.2 144.1h1.1v1.1h-1.1zM178.2 143.2h1.1v1.1h-1.1zM175.9 142.9h1.1v1.1h-1.1zM176.2 138.7h1.1v1.1h-1.1zM173.7 143.9h1.1v1.1h-1.1zM177.5 142.2h1.1v1.1h-1.1zM174.7 141.1h1.1v1.1h-1.1zM174.3 140.2h1.1v1.1h-1.1zM171.7 142.1h1.1v1.1h-1.1zM174.5 141.4h1.1v1.1h-1.1zM178.5 142.9h1.1v1.1h-1.1zM174.0 142.8h1.1v1.1h-1.1zM172.5 143.7h1.1v1.1h-1.1zM175.8 141.5h1.1v1.1h-1.1zM176.4 144.4h1.1v1.1h-1.1zM174.4 140.1h1.1v1.1h-1.1zM179.3 141.8h1.1v1.1h-1.1zM178.1 140.6h1.1v1.1h-1.1zM176.0 140.7h1.1v1.1h-1.1zM176.5 141.3h1.1v1.1h-1.1zM174.1 144.6h1.1v1.1h-1.1zM175.9 138.2h1.1v1.1h-1.1zM174.9 140.2h1.1v1.1h-1.1zM173.0 140.8h1.1v1.1h-1.1zM174.4 141.9h1.1v1.1h-1.1zM173.8 138.5h1.1v1.1h-1.1zM174.3 143.4h1.1v1.1h-1.1zM172.7 142.9h1.1v1.1h-1.1zM176.2 141.0h1.1v1.1h-1.1zM175.9 140.5h1.1v1.1h-1.1zM174.6 140.0h1.1v1.1h-1.1zM176.2 144.3h1.1v1.1h-1.1zM174.0 143.9h1.1v1.1h-1.1zM171.3 140.2h1.1v1.1h-1.1zM173.4 144.9h1.1v1.1h-1.1zM174.2 143.2h1.1v1.1h-1.1zM171.4 142.0h1.1v1.1h-1.1zM176.4 141.7h1.1v1.1h-1.1zM170.2 142.1h1.1v1.1h-1.1zM176.8 144.2h1.1v1.1h-1.1zM176.1 138.8h1.1v1.1h-1.1zM174.9 143.4h1.1v1.1h-1.1zM173.8 142.8h1.1v1.1h-1.1zM174.4 142.0h1.1v1.1h-1.1zM176.7 140.5h1.1v1.1h-1.1zM180.7 142.1h1.1v1.1h-1.1zM176.0 140.5h1.1v1.1h-1.1zM175.4 141.3h1.1v1.1h-1.1zM172.5 139.1h1.1v1.1h-1.1zM175.8 141.6h1.1v1.1h-1.1zM170.3 137.9h1.1v1.1h-1.1zM174.7 141.7h1.1v1.1h-1.1zM176.5 139.6h1.1v1.1h-1.1zM176.4 141.2h1.1v1.1h-1.1zM174.3 141.5h1.1v1.1h-1.1zM177.2 142.8h1.1v1.1h-1.1zM177.0 140.6h1.1v1.1h-1.1zM174.8 139.7h1.1v1.1h-1.1zM174.2 141.1h1.1v1.1h-1.1zM174.4 143.1h1.1v1.1h-1.1zM176.1 143.2h1.1v1.1h-1.1zM175.5 143.7h1.1v1.1h-1.1zM175.5 143.5h1.1v1.1h-1.1zM176.3 143.1h1.1v1.1h-1.1zM175.2 139.6h1.1v1.1h-1.1zM172.6 145.3h1.1v1.1h-1.1zM176.0 142.6h1.1v1.1h-1.1zM175.0 141.0h1.1v1.1h-1.1zM180.8 139.8h1.1v1.1h-1.1zM175.2 141.7h1.1v1.1h-1.1zM173.2 139.5h1.1v1.1h-1.1zM174.0 141.2h1.1v1.1h-1.1zM174.4 143.3h1.1v1.1h-1.1zM173.1 142.5h1.1v1.1h-1.1zM178.1 143.4h1.1v1.1h-1.1zM173.1 136.5h1.1v1.1h-1.1zM176.9 142.7h1.1v1.1h-1.1zM174.2 144.1h1.1v1.1h-1.1zM174.5 142.0h1.1v1.1h-1.1zM173.3 142.4h1.1v1.1h-1.1zM174.5 140.9h1.1v1.1h-1.1zM177.4 142.2h1.1v1.1h-1.1zM172.5 143.0h1.1v1.1h-1.1zM176.9 140.3h1.1v1.1h-1.1zM174.6 141.9h1.1v1.1h-1.1zM174.8 142.0h1.1v1.1h-1.1zM176.5 140.9h1.1v1.1h-1.1zM179.3 140.5h1.1v1.1h-1.1zM174.3 145.3h1.1v1.1h-1.1zM179.8 141.9h1.1v1.1h-1.1zM174.9 139.9h1.1v1.1h-1.1zM177.5 142.1h1.1v1.1h-1.1zM173.7 142.5h1.1v1.1h-1.1zM177.9 143.0h1.1v1.1h-1.1zM179.5 143.9h1.1v1.1h-1.1zM176.1 141.7h1.1v1.1h-1.1zM176.3 144.0h1.1v1.1h-1.1zM176.9 143.7h1.1v1.1h-1.1zM175.7 143.2h1.1v1.1h-1.1zM177.6 141.5h1.1v1.1h-1.1zM172.8 144.9h1.1v1.1h-1.1zM176.4 141.0h1.1v1.1h-1.1zM175.7 141.4h1.1v1.1h-1.1zM172.1 141.5h1.1v1.1h-1.1zM172.6 142.2h1.1v1.1h-1.1zM175.1 143.8h1.1v1.1h-1.1zM175.1 142.5h1.1v1.1h-1.1zM174.7 141.1h1.1v1.1h-1.1zM172.6 143.6h1.1v1.1h-1.1zM175.6 140.8h1.1v1.1h-1.1zM175.7 141.1h1.1v1.1h-1.1zM173.9 142.2h1.1v1.1h-1.1zM177.6 141.3h1.1v1.1h-1.1zM172.6 140.7h1.1v1.1h-1.1zM178.7 140.3h1.1v1.1h-1.1zM177.6 141.4h1.1v1.1h-1.1zM176.7 141.6h1.1v1.1h-1.1zM172.3 141.1h1.1v1.1h-1.1zM179.3 141.6h1.1v1.1h-1.1zM176.4 141.2h1.1v1.1h-1.1zM175.0 142.4h1.1v1.1h-1.1zM176.2 145.8h1.1v1.1h-1.1zM175.3 141.5h1.1v1.1h-1.1zM174.0 139.4h1.1v1.1h-1.1zM172.2 143.0h1.1v1.1h-1.1zM171.8 144.3h1.1v1.1h-1.1zM176.9 141.3h1.1v1.1h-1.1z" fill="#222" fill-opacity="0.42"/>
<path d="M170.0 151.1h1.1v1.1h-1.1zM173.6 155.0h1.1v1.1h-1.1zM171.3 149.7h1.1v1.1h-1.1zM173.3 150.0h1.1v1.1h-1.1zM171.6 145.0h1.1v1.1h-1.1zM168.6 148.6h1.1v1.1h-1.1zM172.8 154.5h1.1v1.1h-1.1zM180.4 157.0h1.1v1.1h-1.1zM174.7 157.6h1.1v1.1h-1.1zM173.2 149.2h1.1v1.1h-1.1zM180.4 147.3h1.1v1.1h-1.1zM172.3 150.1h1.1v1.1h-1.1zM177.9 148.9h1.1v1.1h-1.1zM175.9 149.6h1.1v1.1h-1.1zM169.8 151.8h1.1v1.1h-1.1zM174.0 147.0h1.1v1.1h-1.1zM170.9 148.2h1.1v1.1h-1.1zM176.4 152.6h1.1v1.1h-1.1zM174.2 152.7h1.1v1.1h-1.1zM172.1 152.7h1.1v1.1h-1.1zM171.7 146.4h1.1v1.1h-1.1zM171.4 151.8h1.1v1.1h-1.1zM173.8 154.7h1.1v1.1h-1.1zM168.5 150.3h1.1v1.1h-1.1zM174.7 147.7h1.1v1.1h-1.1zM174.3 149.6h1.1v1.1h-1.1zM170.1 154.9h1.1v1.1h-1.1zM169.4 154.5h1.1v1.1h-1.1zM172.3 147.7h1.1v1.1h-1.1zM170.9 148.4h1.1v1.1h-1.1zM171.0 152.0h1.1v1.1h-1.1zM167.9 155.4h1.1v1.1h-1.1zM176.0 155.9h1.1v1.1h-1.1zM170.6 142.9h1.1v1.1h-1.1zM171.7 150.4h1.1v1.1h-1.1zM174.4 149.2h1.1v1.1h-1.1zM173.3 151.6h1.1v1.1h-1.1zM168.9 157.3h1.1v1.1h-1.1zM170.2 152.0h1.1v1.1h-1.1zM176.8 148.3h1.1v1.1h-1.1zM173.5 156.7h1.1v1.1h-1.1zM172.7 154.7h1.1v1.1h-1.1zM174.4 151.8h1.1v1.1h-1.1zM175.7 150.2h1.1v1.1h-1.1zM172.9 154.4h1.1v1.1h-1.1zM174.3 152.8h1.1v1.1h-1.1zM170.0 151.1h1.1v1.1h-1.1zM177.2 154.2h1.1v1.1h-1.1zM174.6 149.2h1.1v1.1h-1.1zM171.7 152.6h1.1v1.1h-1.1zM177.8 151.2h1.1v1.1h-1.1zM177.5 150.0h1.1v1.1h-1.1zM177.1 147.6h1.1v1.1h-1.1zM174.1 147.3h1.1v1.1h-1.1zM175.5 153.1h1.1v1.1h-1.1zM170.7 148.4h1.1v1.1h-1.1zM172.2 145.8h1.1v1.1h-1.1zM170.8 148.0h1.1v1.1h-1.1zM175.9 155.9h1.1v1.1h-1.1zM172.2 150.0h1.1v1.1h-1.1zM174.2 149.2h1.1v1.1h-1.1zM172.7 154.0h1.1v1.1h-1.1zM174.2 150.8h1.1v1.1h-1.1zM171.8 156.2h1.1v1.1h-1.1zM171.7 151.5h1.1v1.1h-1.1zM170.5 149.0h1.1v1.1h-1.1zM173.8 149.7h1.1v1.1h-1.1zM175.1 151.3h1.1v1.1h-1.1zM169.4 143.0h1.1v1.1h-1.1zM176.5 149.0h1.1v1.1h-1.1z" fill="#222" fill-opacity="0.22"/>
<rect x="141.60" y="105.80" width="60.70" height="60.30" fill="none" stroke="#3a3a3a" stroke-width="0.9"/>
<line x1="159.60" y1="105.80" x2="159.60" y2="166.10" stroke="#3a3a3a" stroke-width="0.9"/>
<line x1="141.60" y1="148.40" x2="202.30" y2="148.40" stroke="#3a3a3a" stroke-width="0.9"/>
<circle cx="87.5" cy="57.3" r="1.9" fill="#111"/>
<circle cx="186.8" cy="57.3" r="1.9" fill="#111"/>
<line x1="87.50" y1="57.50" x2="137.00" y2="57.50" stroke="#2a2a2a" stroke-width="0.9"/>
<path d="M139.6 57.5 L135.6 55.6 L135.6 59.4 Z" fill="#111"/>
<line x1="116.40" y1="57.50" x2="116.40" y2="130.00" stroke="#2a2a2a" stroke-width="0.9"/>
<line x1="116.40" y1="130.00" x2="105.50" y2="130.00" stroke="#2a2a2a" stroke-width="0.9"/>
<path d="M103.3 130 L106.8 128.3 L106.8 131.7 Z" fill="#111"/>
<line x1="186.80" y1="57.50" x2="215.80" y2="57.50" stroke="#2a2a2a" stroke-width="0.9"/>
<line x1="215.80" y1="57.50" x2="215.80" y2="130.20" stroke="#2a2a2a" stroke-width="0.9"/>
<line x1="215.80" y1="130.20" x2="204.50" y2="130.20" stroke="#2a2a2a" stroke-width="0.9"/>
<path d="M202.6 130.2 L206.1 128.5 L206.1 131.9 Z" fill="#111"/>
<line x1="25.40" y1="184.80" x2="25.40" y2="120.00" stroke="#111" stroke-width="1.2"/>
<path d="M25.4 116.8 L23.3 121.4 L27.5 121.4 Z" fill="#111"/>
<line x1="24.80" y1="184.20" x2="94.00" y2="184.20" stroke="#111" stroke-width="1.2"/>
<path d="M98.2 184.2 L93.8 182 L93.8 186.4 Z" fill="#111"/>
<text x="43.5" y="21.5" font-size="8.8" textLength="58.6" lengthAdjust="spacingAndGlyphs" fill="#1a1a1a" stroke="#1a1a1a" stroke-width="0.2">Unselected (1)</text>
<text x="44.7" y="35.3" font-size="10.3" text-anchor="start" fill="#111" stroke="#111" stroke-width="0.1">8</text>
<text x="101.3" y="35.3" font-size="10.3" text-anchor="end" fill="#111" stroke="#111" stroke-width="0.1">27</text>
<text x="101.6" y="83.4" font-size="10.3" text-anchor="end" fill="#111" stroke="#111" stroke-width="0.1">33</text>
<text x="199.5" y="35.3" font-size="10.3" text-anchor="end" fill="#111" stroke="#111" stroke-width="0.1">57</text>
<text x="199.1" y="83.2" font-size="10.3" text-anchor="end" fill="#111" stroke="#111" stroke-width="0.1">41</text>
<text x="44.3" y="115.9" font-size="10.3" text-anchor="start" fill="#111" stroke="#111" stroke-width="0.1">24</text>
<text x="101.5" y="115.9" font-size="10.3" text-anchor="end" fill="#111" stroke="#111" stroke-width="0.1">0.3</text>
<text x="101.4" y="163.0" font-size="10.3" text-anchor="end" fill="#111" stroke="#111" stroke-width="0.1">0.1</text>
<text x="199.6" y="116.2" font-size="10.3" text-anchor="end" fill="#111" stroke="#111" stroke-width="0.1">92</text>
<text x="199.5" y="163.4" font-size="10.3" text-anchor="end" fill="#111" stroke="#111" stroke-width="0.1">7.9</text>
<text x="108" y="42" font-size="8.4" font-weight="bold" textLength="22.8" lengthAdjust="spacingAndGlyphs" fill="#1a1a1a" stroke="#1a1a1a" stroke-width="0.2">CD34</text>
<text x="108" y="52.9" font-size="8.4" textLength="25.4" lengthAdjust="spacingAndGlyphs" fill="#1a1a1a" stroke="#1a1a1a" stroke-width="0.2">MACS</text>
<text x="152.9" y="22" font-size="8.8" textLength="41" lengthAdjust="spacingAndGlyphs" fill="#1a1a1a" stroke="#1a1a1a" stroke-width="0.2">CD34<tspan font-size="5.5" dy="-3">+</tspan><tspan dy="3"> (3)</tspan></text>
<text x="207" y="42" font-size="8.4" font-weight="bold" textLength="20.7" lengthAdjust="spacingAndGlyphs" fill="#1a1a1a" stroke="#1a1a1a" stroke-width="0.2">C-Kit</text>
<text x="207" y="52.7" font-size="8.4" textLength="23.3" lengthAdjust="spacingAndGlyphs" fill="#1a1a1a" stroke="#1a1a1a" stroke-width="0.2">FACS</text>
<text x="54.1" y="102" font-size="8.8" textLength="41.1" lengthAdjust="spacingAndGlyphs" fill="#1a1a1a" stroke="#1a1a1a" stroke-width="0.2">CD34<tspan font-size="5.5" dy="-3">−</tspan><tspan dy="3"> (2)</tspan></text>
<text x="140.3" y="102.4" font-size="8.8" textLength="65.7" lengthAdjust="spacingAndGlyphs" fill="#1a1a1a" stroke="#1a1a1a" stroke-width="0.2">CD34<tspan font-size="5.5" dy="-3">+</tspan><tspan dy="3">C-Kit</tspan><tspan font-size="5.5" dy="-3">+</tspan><tspan dy="3"> (4)</tspan></text>
<text x="0" y="0" font-size="13" fill="#1a1a1a" stroke="#1a1a1a" stroke-width="0.2" transform="translate(30 112.6) rotate(-90)">C-Kit</text>
<text x="105.3" y="188.8" font-size="13.3" textLength="33.2" lengthAdjust="spacingAndGlyphs" fill="#1a1a1a" stroke="#1a1a1a" stroke-width="0.2">CD34</text>
<text x="259.2" y="10.6" font-size="11.8" font-weight="bold" fill="#111" stroke="#111" stroke-width="0.2">B</text>
<line x1="308.30" y1="30.80" x2="308.30" y2="150.80" stroke="#444" stroke-width="0.9"/>
<line x1="307.80" y1="150.30" x2="498.60" y2="150.30" stroke="#444" stroke-width="0.9"/>
<line x1="498.20" y1="150.30" x2="498.20" y2="152.30" stroke="#444" stroke-width="0.8"/>
<line x1="306.30" y1="150.30" x2="308.30" y2="150.30" stroke="#444" stroke-width="0.8"/>
<text x="304.2" y="152.8" font-size="6.9" text-anchor="end" fill="#222" stroke="#222" stroke-width="0.25">0</text>
<line x1="306.30" y1="126.48" x2="308.30" y2="126.48" stroke="#444" stroke-width="0.8"/>
<text x="304.2" y="128.98000000000002" font-size="6.9" text-anchor="end" fill="#222" stroke="#222" stroke-width="0.25">1.0</text>
<line x1="306.30" y1="102.66" x2="308.30" y2="102.66" stroke="#444" stroke-width="0.8"/>
<text x="304.2" y="105.16000000000001" font-size="6.9" text-anchor="end" fill="#222" stroke="#222" stroke-width="0.25">2.0</text>
<line x1="306.30" y1="78.84" x2="308.30" y2="78.84" stroke="#444" stroke-width="0.8"/>
<text x="304.2" y="81.34" font-size="6.9" text-anchor="end" fill="#222" stroke="#222" stroke-width="0.25">3.0</text>
<line x1="306.30" y1="55.02" x2="308.30" y2="55.02" stroke="#444" stroke-width="0.8"/>
<text x="304.2" y="57.52000000000001" font-size="6.9" text-anchor="end" fill="#222" stroke="#222" stroke-width="0.25">4.0</text>
<line x1="306.30" y1="31.20" x2="308.30" y2="31.20" stroke="#444" stroke-width="0.8"/>
<text x="304.2" y="33.70000000000002" font-size="6.9" text-anchor="end" fill="#222" stroke="#222" stroke-width="0.25">5.0</text>
<line x1="332.10" y1="150.30" x2="332.10" y2="152.30" stroke="#444" stroke-width="0.8"/>
<line x1="355.90" y1="150.30" x2="355.90" y2="152.30" stroke="#444" stroke-width="0.8"/>
<line x1="379.70" y1="150.30" x2="379.70" y2="152.30" stroke="#444" stroke-width="0.8"/>
<line x1="403.50" y1="150.30" x2="403.50" y2="152.30" stroke="#444" stroke-width="0.8"/>
<line x1="427.30" y1="150.30" x2="427.30" y2="152.30" stroke="#444" stroke-width="0.8"/>
<line x1="451.10" y1="150.30" x2="451.10" y2="152.30" stroke="#444" stroke-width="0.8"/>
<line x1="474.90" y1="150.30" x2="474.90" y2="152.30" stroke="#444" stroke-width="0.8"/>
<line x1="498.70" y1="150.30" x2="498.70" y2="152.30" stroke="#444" stroke-width="0.8"/>
<rect x="311.50" y="126.48" width="4.25" height="23.82" fill="#4F81BD"/>
<rect x="315.90" y="146.01" width="4.25" height="4.29" fill="#C0504D"/>
<line x1="318.00" y1="145.54" x2="318.00" y2="146.01" stroke="#777" stroke-width="0.6"/>
<line x1="316.80" y1="145.54" x2="319.20" y2="145.54" stroke="#777" stroke-width="0.6"/>
<rect x="320.30" y="102.66" width="4.25" height="47.64" fill="#9BBB59"/>
<line x1="322.40" y1="99.09" x2="322.40" y2="102.66" stroke="#777" stroke-width="0.6"/>
<line x1="321.20" y1="99.09" x2="323.60" y2="99.09" stroke="#777" stroke-width="0.6"/>
<rect x="324.70" y="89.80" width="4.25" height="60.50" fill="#8064A2"/>
<line x1="326.80" y1="87.18" x2="326.80" y2="89.80" stroke="#777" stroke-width="0.6"/>
<line x1="325.60" y1="87.18" x2="328.00" y2="87.18" stroke="#777" stroke-width="0.6"/>
<rect x="335.30" y="126.48" width="4.25" height="23.82" fill="#4F81BD"/>
<rect x="339.70" y="141.49" width="4.25" height="8.81" fill="#C0504D"/>
<rect x="344.10" y="111.24" width="4.25" height="39.06" fill="#9BBB59"/>
<line x1="346.20" y1="109.09" x2="346.20" y2="111.24" stroke="#777" stroke-width="0.6"/>
<line x1="345.00" y1="109.09" x2="347.40" y2="109.09" stroke="#777" stroke-width="0.6"/>
<rect x="348.50" y="68.60" width="4.25" height="81.70" fill="#8064A2"/>
<line x1="350.60" y1="65.26" x2="350.60" y2="68.60" stroke="#777" stroke-width="0.6"/>
<line x1="349.40" y1="65.26" x2="351.80" y2="65.26" stroke="#777" stroke-width="0.6"/>
<rect x="359.10" y="126.48" width="4.25" height="23.82" fill="#4F81BD"/>
<rect x="363.50" y="133.39" width="4.25" height="16.91" fill="#C0504D"/>
<line x1="365.60" y1="129.58" x2="365.60" y2="133.39" stroke="#777" stroke-width="0.6"/>
<line x1="364.40" y1="129.58" x2="366.80" y2="129.58" stroke="#777" stroke-width="0.6"/>
<rect x="367.90" y="114.09" width="4.25" height="36.21" fill="#9BBB59"/>
<line x1="370.00" y1="109.81" x2="370.00" y2="114.09" stroke="#777" stroke-width="0.6"/>
<line x1="368.80" y1="109.81" x2="371.20" y2="109.81" stroke="#777" stroke-width="0.6"/>
<rect x="372.30" y="94.80" width="4.25" height="55.50" fill="#8064A2"/>
<line x1="374.40" y1="93.13" x2="374.40" y2="94.80" stroke="#777" stroke-width="0.6"/>
<line x1="373.20" y1="93.13" x2="375.60" y2="93.13" stroke="#777" stroke-width="0.6"/>
<rect x="382.90" y="126.48" width="4.25" height="23.82" fill="#4F81BD"/>
<rect x="387.30" y="131.72" width="4.25" height="18.58" fill="#C0504D"/>
<rect x="391.70" y="106.95" width="4.25" height="43.35" fill="#9BBB59"/>
<line x1="393.80" y1="104.09" x2="393.80" y2="106.95" stroke="#777" stroke-width="0.6"/>
<line x1="392.60" y1="104.09" x2="395.00" y2="104.09" stroke="#777" stroke-width="0.6"/>
<rect x="396.10" y="82.17" width="4.25" height="68.13" fill="#8064A2"/>
<line x1="398.20" y1="79.32" x2="398.20" y2="82.17" stroke="#777" stroke-width="0.6"/>
<line x1="397.00" y1="79.32" x2="399.40" y2="79.32" stroke="#777" stroke-width="0.6"/>
<rect x="406.70" y="126.48" width="4.25" height="23.82" fill="#4F81BD"/>
<rect x="411.10" y="131.24" width="4.25" height="19.06" fill="#C0504D"/>
<rect x="415.50" y="95.04" width="4.25" height="55.26" fill="#9BBB59"/>
<line x1="417.60" y1="87.89" x2="417.60" y2="95.04" stroke="#777" stroke-width="0.6"/>
<line x1="416.40" y1="87.89" x2="418.80" y2="87.89" stroke="#777" stroke-width="0.6"/>
<rect x="419.90" y="57.64" width="4.25" height="92.66" fill="#8064A2"/>
<line x1="422.00" y1="55.02" x2="422.00" y2="57.64" stroke="#777" stroke-width="0.6"/>
<line x1="420.80" y1="55.02" x2="423.20" y2="55.02" stroke="#777" stroke-width="0.6"/>
<rect x="430.50" y="126.48" width="4.25" height="23.82" fill="#4F81BD"/>
<rect x="434.90" y="141.49" width="4.25" height="8.81" fill="#C0504D"/>
<rect x="439.30" y="113.14" width="4.25" height="37.16" fill="#9BBB59"/>
<line x1="441.40" y1="110.76" x2="441.40" y2="113.14" stroke="#777" stroke-width="0.6"/>
<line x1="440.20" y1="110.76" x2="442.60" y2="110.76" stroke="#777" stroke-width="0.6"/>
<rect x="443.70" y="87.18" width="4.25" height="63.12" fill="#8064A2"/>
<line x1="445.80" y1="83.60" x2="445.80" y2="87.18" stroke="#777" stroke-width="0.6"/>
<line x1="444.60" y1="83.60" x2="447.00" y2="83.60" stroke="#777" stroke-width="0.6"/>
<rect x="454.30" y="126.48" width="4.25" height="23.82" fill="#4F81BD"/>
<rect x="458.70" y="138.87" width="4.25" height="11.43" fill="#C0504D"/>
<line x1="460.80" y1="136.25" x2="460.80" y2="138.87" stroke="#777" stroke-width="0.6"/>
<line x1="459.60" y1="136.25" x2="462.00" y2="136.25" stroke="#777" stroke-width="0.6"/>
<rect x="463.10" y="96.71" width="4.25" height="53.59" fill="#9BBB59"/>
<line x1="465.20" y1="88.37" x2="465.20" y2="96.71" stroke="#777" stroke-width="0.6"/>
<line x1="464.00" y1="88.37" x2="466.40" y2="88.37" stroke="#777" stroke-width="0.6"/>
<rect x="467.50" y="68.12" width="4.25" height="82.18" fill="#8064A2"/>
<line x1="469.60" y1="51.92" x2="469.60" y2="68.12" stroke="#777" stroke-width="0.6"/>
<line x1="468.40" y1="51.92" x2="470.80" y2="51.92" stroke="#777" stroke-width="0.6"/>
<rect x="478.10" y="126.48" width="4.25" height="23.82" fill="#4F81BD"/>
<rect x="482.50" y="135.53" width="4.25" height="14.77" fill="#C0504D"/>
<rect x="486.90" y="113.14" width="4.25" height="37.16" fill="#9BBB59"/>
<line x1="489.00" y1="105.28" x2="489.00" y2="113.14" stroke="#777" stroke-width="0.6"/>
<line x1="487.80" y1="105.28" x2="490.20" y2="105.28" stroke="#777" stroke-width="0.6"/>
<rect x="491.30" y="102.66" width="4.25" height="47.64" fill="#8064A2"/>
<line x1="493.40" y1="100.28" x2="493.40" y2="102.66" stroke="#777" stroke-width="0.6"/>
<line x1="492.20" y1="100.28" x2="494.60" y2="100.28" stroke="#777" stroke-width="0.6"/>
<rect x="316.30" y="26.50" width="5.00" height="4.30" fill="#4F81BD"/>
<text x="325.6" y="31.200000000000003" font-size="7.3" fill="#333" stroke="#333" stroke-width="0.2">Unsorted</text>
<rect x="316.30" y="36.00" width="5.00" height="4.30" fill="#C0504D"/>
<text x="325.6" y="40.7" font-size="7.3" fill="#333" stroke="#333" stroke-width="0.2">CD34<tspan font-size="4.5" dy="-2.5">−</tspan></text>
<rect x="316.30" y="45.30" width="5.00" height="4.30" fill="#9BBB59"/>
<text x="325.6" y="50.0" font-size="7.3" fill="#333" stroke="#333" stroke-width="0.2">CD34<tspan font-size="4.5" dy="-2.5">+</tspan></text>
<rect x="316.30" y="54.40" width="5.00" height="4.30" fill="#8064A2"/>
<text x="325.6" y="59.1" font-size="7.3" fill="#333" stroke="#333" stroke-width="0.2">CD34<tspan font-size="4.5" dy="-2.5">+</tspan><tspan dy="2.5">C-Kit</tspan><tspan font-size="4.5" dy="-2.5">+</tspan></text>
<text x="0" y="0" font-size="9.8" text-anchor="middle" textLength="87.6" lengthAdjust="spacingAndGlyphs" fill="#1a1a1a" stroke="#1a1a1a" stroke-width="0.2" transform="translate(285.2 90.5) rotate(-90)">Relative expression</text>
<text x="0" y="0" font-size="8.8" text-anchor="end" fill="#1a1a1a" stroke="#1a1a1a" stroke-width="0.24" transform="translate(325.7 158.7) rotate(-45)">CD34</text>
<text x="0" y="0" font-size="8.8" text-anchor="end" fill="#1a1a1a" stroke="#1a1a1a" stroke-width="0.24" transform="translate(349.5 158.7) rotate(-45)">C-Kit</text>
<text x="0" y="0" font-size="8.8" text-anchor="end" fill="#1a1a1a" stroke="#1a1a1a" stroke-width="0.24" transform="translate(373.3 158.7) rotate(-45)">LMO2</text>
<text x="0" y="0" font-size="8.8" text-anchor="end" fill="#1a1a1a" stroke="#1a1a1a" stroke-width="0.24" transform="translate(397.1 158.7) rotate(-45)">SCL</text>
<text x="0" y="0" font-size="8.8" text-anchor="end" fill="#1a1a1a" stroke="#1a1a1a" stroke-width="0.24" transform="translate(420.9 158.7) rotate(-45)">GATA2</text>
<text x="0" y="0" font-size="8.8" text-anchor="end" fill="#1a1a1a" stroke="#1a1a1a" stroke-width="0.24" transform="translate(444.7 158.7) rotate(-45)">RUNX1</text>
<text x="0" y="0" font-size="8.8" text-anchor="end" fill="#1a1a1a" stroke="#1a1a1a" stroke-width="0.24" transform="translate(468.5 158.7) rotate(-45)">Cmyb</text>
<text x="0" y="0" font-size="8.8" text-anchor="end" fill="#1a1a1a" stroke="#1a1a1a" stroke-width="0.24" transform="translate(492.3 158.7) rotate(-45)">HOXB4</text>
<text x="0.4" y="211.9" font-size="11.8" font-weight="bold" fill="#111" stroke="#111" stroke-width="0.2">C</text>
<line x1="42.00" y1="223.20" x2="42.00" y2="305.60" stroke="#444" stroke-width="0.9"/>
<line x1="41.50" y1="305.10" x2="122.20" y2="305.10" stroke="#444" stroke-width="0.9"/>
<line x1="40.20" y1="305.10" x2="42.00" y2="305.10" stroke="#444" stroke-width="0.8"/>
<text x="40.2" y="307.40000000000003" font-size="6.8" text-anchor="end" fill="#222" stroke="#222" stroke-width="0.22">0</text>
<line x1="40.20" y1="277.90" x2="42.00" y2="277.90" stroke="#444" stroke-width="0.8"/>
<text x="40.2" y="280.20000000000005" font-size="6.8" text-anchor="end" fill="#222" stroke="#222" stroke-width="0.22">40</text>
<line x1="40.20" y1="250.70" x2="42.00" y2="250.70" stroke="#444" stroke-width="0.8"/>
<text x="40.2" y="253.00000000000006" font-size="6.8" text-anchor="end" fill="#222" stroke="#222" stroke-width="0.22">80</text>
<line x1="40.20" y1="223.50" x2="42.00" y2="223.50" stroke="#444" stroke-width="0.8"/>
<text x="40.2" y="225.80000000000004" font-size="6.8" text-anchor="end" fill="#222" stroke="#222" stroke-width="0.22">120</text>
<line x1="62.40" y1="305.10" x2="62.40" y2="306.90" stroke="#444" stroke-width="0.8"/>
<line x1="82.20" y1="305.10" x2="82.20" y2="306.90" stroke="#444" stroke-width="0.8"/>
<line x1="102.00" y1="305.10" x2="102.00" y2="306.90" stroke="#444" stroke-width="0.8"/>
<rect x="44.80" y="298.57" width="4.50" height="6.53" fill="#C0504D"/>
<line x1="47.05" y1="296.94" x2="47.05" y2="298.57" stroke="#777" stroke-width="0.6"/>
<line x1="45.75" y1="296.94" x2="48.35" y2="296.94" stroke="#777" stroke-width="0.6"/>
<rect x="49.55" y="291.50" width="4.50" height="13.60" fill="#4F81BD"/>
<line x1="51.80" y1="286.06" x2="51.80" y2="291.50" stroke="#777" stroke-width="0.6"/>
<line x1="50.50" y1="286.06" x2="53.10" y2="286.06" stroke="#777" stroke-width="0.6"/>
<rect x="54.30" y="303.06" width="4.50" height="2.04" fill="#9BBB59"/>
<rect x="64.60" y="300.34" width="4.50" height="4.76" fill="#C0504D"/>
<line x1="66.85" y1="295.58" x2="66.85" y2="300.34" stroke="#777" stroke-width="0.6"/>
<line x1="65.55" y1="295.58" x2="68.15" y2="295.58" stroke="#777" stroke-width="0.6"/>
<rect x="69.35" y="304.42" width="4.50" height="0.68" fill="#4F81BD"/>
<rect x="74.10" y="304.90" width="4.50" height="0.20" fill="#9BBB59"/>
<rect x="84.40" y="298.98" width="4.50" height="6.12" fill="#C0504D"/>
<line x1="86.65" y1="296.94" x2="86.65" y2="298.98" stroke="#777" stroke-width="0.6"/>
<line x1="85.35" y1="296.94" x2="87.95" y2="296.94" stroke="#777" stroke-width="0.6"/>
<rect x="89.15" y="268.72" width="4.50" height="36.38" fill="#4F81BD"/>
<line x1="91.40" y1="266.34" x2="91.40" y2="268.72" stroke="#777" stroke-width="0.6"/>
<line x1="90.10" y1="266.34" x2="92.70" y2="266.34" stroke="#777" stroke-width="0.6"/>
<rect x="93.90" y="292.86" width="4.50" height="12.24" fill="#9BBB59"/>
<line x1="96.15" y1="290.14" x2="96.15" y2="292.86" stroke="#777" stroke-width="0.6"/>
<line x1="94.85" y1="290.14" x2="97.45" y2="290.14" stroke="#777" stroke-width="0.6"/>
<rect x="104.20" y="301.02" width="4.50" height="4.08" fill="#C0504D"/>
<line x1="106.45" y1="300.00" x2="106.45" y2="301.02" stroke="#777" stroke-width="0.6"/>
<line x1="105.15" y1="300.00" x2="107.75" y2="300.00" stroke="#777" stroke-width="0.6"/>
<rect x="108.95" y="245.26" width="4.50" height="59.84" fill="#4F81BD"/>
<line x1="111.20" y1="234.38" x2="111.20" y2="245.26" stroke="#777" stroke-width="0.6"/>
<line x1="109.90" y1="234.38" x2="112.50" y2="234.38" stroke="#777" stroke-width="0.6"/>
<rect x="113.70" y="285.04" width="4.50" height="20.06" fill="#9BBB59"/>
<line x1="115.95" y1="281.98" x2="115.95" y2="285.04" stroke="#777" stroke-width="0.6"/>
<line x1="114.65" y1="281.98" x2="117.25" y2="281.98" stroke="#777" stroke-width="0.6"/>
<rect x="48.70" y="223.80" width="4.50" height="4.10" fill="#C0504D"/>
<text x="55.8" y="228.1" font-size="7.0" textLength="44.3" lengthAdjust="spacingAndGlyphs" fill="#222" stroke="#222" stroke-width="0.2">CFU-E/BFU-E</text>
<rect x="48.70" y="234.80" width="4.50" height="4.10" fill="#4F81BD"/>
<text x="55.8" y="239.1" font-size="7.0" textLength="42.4" lengthAdjust="spacingAndGlyphs" fill="#222" stroke="#222" stroke-width="0.2">CFU-G/M/GM</text>
<rect x="48.70" y="246.10" width="4.50" height="4.10" fill="#9BBB59"/>
<text x="55.8" y="250.4" font-size="7.0" textLength="38.3" lengthAdjust="spacingAndGlyphs" fill="#222" stroke="#222" stroke-width="0.2">CFU-GEMM</text>
<text x="52.3" y="317.0" font-size="9.3" text-anchor="middle" fill="#111" stroke="#111" stroke-width="0.2">1</text>
<text x="71.9" y="317.0" font-size="9.3" text-anchor="middle" fill="#111" stroke="#111" stroke-width="0.2">2</text>
<text x="91.5" y="317.0" font-size="9.3" text-anchor="middle" fill="#111" stroke="#111" stroke-width="0.2">3</text>
<text x="111.1" y="317.0" font-size="9.3" text-anchor="middle" fill="#111" stroke="#111" stroke-width="0.2">4</text>
<text x="0" y="0" font-size="9.0" text-anchor="middle" fill="#222" stroke="#222" stroke-width="0.08" transform="translate(12.2 264) rotate(-90)">No. colonies</text>
<text x="0" y="0" font-size="9.0" text-anchor="middle" textLength="57.2" lengthAdjust="spacingAndGlyphs" fill="#222" stroke="#222" stroke-width="0.08" transform="translate(22.6 261.6) rotate(-90)">per 5,000 cells</text>
<text x="142.3" y="211.9" font-size="11.8" font-weight="bold" fill="#111" stroke="#111" stroke-width="0.2">D</text>
<line x1="180.40" y1="224.40" x2="180.40" y2="305.10" stroke="#444" stroke-width="0.9"/>
<line x1="179.90" y1="304.60" x2="240.80" y2="304.60" stroke="#444" stroke-width="0.9"/>
<line x1="240.40" y1="304.60" x2="240.40" y2="306.40" stroke="#444" stroke-width="0.8"/>
<line x1="178.60" y1="304.60" x2="180.40" y2="304.60" stroke="#444" stroke-width="0.8"/>
<text x="178.4" y="307.1" font-size="6.8" text-anchor="end" fill="#222" stroke="#222" stroke-width="0.22">0</text>
<line x1="178.60" y1="288.60" x2="180.40" y2="288.60" stroke="#444" stroke-width="0.8"/>
<text x="178.4" y="291.1" font-size="6.8" text-anchor="end" fill="#222" stroke="#222" stroke-width="0.22">20</text>
<line x1="178.60" y1="272.60" x2="180.40" y2="272.60" stroke="#444" stroke-width="0.8"/>
<text x="178.4" y="275.1" font-size="6.8" text-anchor="end" fill="#222" stroke="#222" stroke-width="0.22">40</text>
<line x1="178.60" y1="256.60" x2="180.40" y2="256.60" stroke="#444" stroke-width="0.8"/>
<text x="178.4" y="259.1" font-size="6.8" text-anchor="end" fill="#222" stroke="#222" stroke-width="0.22">60</text>
<line x1="178.60" y1="240.60" x2="180.40" y2="240.60" stroke="#444" stroke-width="0.8"/>
<text x="178.4" y="243.10000000000002" font-size="6.8" text-anchor="end" fill="#222" stroke="#222" stroke-width="0.22">80</text>
<line x1="178.60" y1="224.60" x2="180.40" y2="224.60" stroke="#444" stroke-width="0.8"/>
<text x="178.4" y="227.10000000000002" font-size="6.8" text-anchor="end" fill="#222" stroke="#222" stroke-width="0.22">100</text>
<line x1="195.80" y1="304.60" x2="195.80" y2="306.40" stroke="#444" stroke-width="0.8"/>
<line x1="210.80" y1="304.60" x2="210.80" y2="306.40" stroke="#444" stroke-width="0.8"/>
<line x1="225.80" y1="304.60" x2="225.80" y2="306.40" stroke="#444" stroke-width="0.8"/>
<rect x="185.35" y="269.40" width="5.70" height="35.20" fill="#4F81BD"/>
<line x1="188.20" y1="266.60" x2="188.20" y2="269.40" stroke="#8ea5c8" stroke-width="0.6"/>
<line x1="186.80" y1="266.60" x2="189.60" y2="266.60" stroke="#8ea5c8" stroke-width="0.6"/>
<text x="188.2" y="317.7" font-size="9.3" text-anchor="middle" fill="#111" stroke="#111" stroke-width="0.2">1</text>
<rect x="200.30" y="302.36" width="5.70" height="2.24" fill="#4F81BD"/>
<line x1="203.15" y1="301.80" x2="203.15" y2="302.36" stroke="#8ea5c8" stroke-width="0.6"/>
<line x1="201.75" y1="301.80" x2="204.55" y2="301.80" stroke="#8ea5c8" stroke-width="0.6"/>
<text x="203.14999999999998" y="317.7" font-size="9.3" text-anchor="middle" fill="#111" stroke="#111" stroke-width="0.2">2</text>
<rect x="215.25" y="245.56" width="5.70" height="59.04" fill="#4F81BD"/>
<line x1="218.10" y1="243.00" x2="218.10" y2="245.56" stroke="#8ea5c8" stroke-width="0.6"/>
<line x1="216.70" y1="243.00" x2="219.50" y2="243.00" stroke="#8ea5c8" stroke-width="0.6"/>
<text x="218.1" y="317.7" font-size="9.3" text-anchor="middle" fill="#111" stroke="#111" stroke-width="0.2">3</text>
<rect x="230.20" y="227.16" width="5.70" height="77.44" fill="#4F81BD"/>
<line x1="233.05" y1="225.80" x2="233.05" y2="227.16" stroke="#8ea5c8" stroke-width="0.6"/>
<line x1="231.65" y1="225.80" x2="234.45" y2="225.80" stroke="#8ea5c8" stroke-width="0.6"/>
<text x="233.04999999999998" y="317.7" font-size="9.3" text-anchor="middle" fill="#111" stroke="#111" stroke-width="0.2">4</text>
<text x="0" y="0" font-size="9.0" text-anchor="middle" fill="#222" stroke="#222" stroke-width="0.08" transform="translate(152.6 262.3) rotate(-90)">Percentage</text>
<text x="0" y="0" font-size="9.0" text-anchor="middle" fill="#222" stroke="#222" stroke-width="0.08" transform="translate(162.2 261) rotate(-90)">of CD45<tspan font-size="5.5" dy="-3">+</tspan><tspan dy="3"> cells</tspan></text>
<text x="262.5" y="211.9" font-size="11.8" font-weight="bold" fill="#111" stroke="#111" stroke-width="0.2">E</text>
<line x1="302.90" y1="224.10" x2="302.90" y2="304.20" stroke="#444" stroke-width="0.9"/>
<line x1="302.40" y1="303.70" x2="518.50" y2="303.70" stroke="#444" stroke-width="0.9"/>
<line x1="301.10" y1="303.70" x2="302.90" y2="303.70" stroke="#444" stroke-width="0.8"/>
<text x="299.4" y="306.09999999999997" font-size="6.8" text-anchor="end" fill="#222" stroke="#222" stroke-width="0.22">0</text>
<line x1="301.10" y1="287.84" x2="302.90" y2="287.84" stroke="#444" stroke-width="0.8"/>
<text x="299.4" y="290.23999999999995" font-size="6.8" text-anchor="end" fill="#222" stroke="#222" stroke-width="0.22">20</text>
<line x1="301.10" y1="271.98" x2="302.90" y2="271.98" stroke="#444" stroke-width="0.8"/>
<text x="299.4" y="274.38" font-size="6.8" text-anchor="end" fill="#222" stroke="#222" stroke-width="0.22">40</text>
<line x1="301.10" y1="256.12" x2="302.90" y2="256.12" stroke="#444" stroke-width="0.8"/>
<text x="299.4" y="258.52" font-size="6.8" text-anchor="end" fill="#222" stroke="#222" stroke-width="0.22">60</text>
<line x1="301.10" y1="240.26" x2="302.90" y2="240.26" stroke="#444" stroke-width="0.8"/>
<text x="299.4" y="242.66" font-size="6.8" text-anchor="end" fill="#222" stroke="#222" stroke-width="0.22">80</text>
<line x1="301.10" y1="224.40" x2="302.90" y2="224.40" stroke="#444" stroke-width="0.8"/>
<text x="299.4" y="226.79999999999998" font-size="6.8" text-anchor="end" fill="#222" stroke="#222" stroke-width="0.22">100</text>
<rect x="307.80" y="230.51" width="5.70" height="73.19" fill="#4F81BD"/>
<line x1="310.65" y1="227.97" x2="310.65" y2="230.51" stroke="#8ea5c8" stroke-width="0.6"/>
<line x1="309.25" y1="227.97" x2="312.05" y2="227.97" stroke="#8ea5c8" stroke-width="0.6"/>
<text x="0" y="0" font-size="7.7" text-anchor="end" fill="#1a1a1a" stroke="#1a1a1a" stroke-width="0.24" transform="translate(314.7 311.5) rotate(-45)">CD31</text>
<line x1="318.37" y1="303.70" x2="318.37" y2="305.50" stroke="#444" stroke-width="0.8"/>
<rect x="323.27" y="227.57" width="5.70" height="76.13" fill="#4F81BD"/>
<line x1="326.12" y1="225.99" x2="326.12" y2="227.57" stroke="#8ea5c8" stroke-width="0.6"/>
<line x1="324.72" y1="225.99" x2="327.52" y2="225.99" stroke="#8ea5c8" stroke-width="0.6"/>
<text x="0" y="0" font-size="7.7" text-anchor="end" fill="#1a1a1a" stroke="#1a1a1a" stroke-width="0.24" transform="translate(330.1 311.5) rotate(-45)">KDR</text>
<line x1="333.84" y1="303.70" x2="333.84" y2="305.50" stroke="#444" stroke-width="0.8"/>
<rect x="338.74" y="226.78" width="5.70" height="76.92" fill="#4F81BD"/>
<line x1="341.59" y1="226.38" x2="341.59" y2="226.78" stroke="#8ea5c8" stroke-width="0.6"/>
<line x1="340.19" y1="226.38" x2="342.99" y2="226.38" stroke="#8ea5c8" stroke-width="0.6"/>
<text x="0" y="0" font-size="7.7" text-anchor="end" fill="#1a1a1a" stroke="#1a1a1a" stroke-width="0.24" transform="translate(345.6 311.5) rotate(-45)">TIE2</text>
<line x1="349.31" y1="303.70" x2="349.31" y2="305.50" stroke="#444" stroke-width="0.8"/>
<rect x="354.21" y="300.92" width="5.70" height="2.78" fill="#4F81BD"/>
<line x1="357.06" y1="298.39" x2="357.06" y2="300.92" stroke="#8ea5c8" stroke-width="0.6"/>
<line x1="355.66" y1="298.39" x2="358.46" y2="298.39" stroke="#8ea5c8" stroke-width="0.6"/>
<text x="0" y="0" font-size="7.7" text-anchor="end" fill="#1a1a1a" stroke="#1a1a1a" stroke-width="0.24" transform="translate(361.1 311.5) rotate(-45)">GYPA</text>
<line x1="364.78" y1="303.70" x2="364.78" y2="305.50" stroke="#444" stroke-width="0.8"/>
<rect x="369.68" y="299.89" width="5.70" height="3.81" fill="#4F81BD"/>
<line x1="372.53" y1="297.75" x2="372.53" y2="299.89" stroke="#8ea5c8" stroke-width="0.6"/>
<line x1="371.13" y1="297.75" x2="373.93" y2="297.75" stroke="#8ea5c8" stroke-width="0.6"/>
<text x="0" y="0" font-size="7.7" text-anchor="end" fill="#1a1a1a" stroke="#1a1a1a" stroke-width="0.24" transform="translate(376.5 311.5) rotate(-45)">CD41</text>
<line x1="380.25" y1="303.70" x2="380.25" y2="305.50" stroke="#444" stroke-width="0.8"/>
<rect x="385.15" y="303.30" width="5.70" height="0.40" fill="#4F81BD"/>
<text x="0" y="0" font-size="7.7" text-anchor="end" fill="#1a1a1a" stroke="#1a1a1a" stroke-width="0.24" transform="translate(392.0 311.5) rotate(-45)">VE-Cad</text>
<line x1="395.72" y1="303.70" x2="395.72" y2="305.50" stroke="#444" stroke-width="0.8"/>
<rect x="400.62" y="254.85" width="5.70" height="48.85" fill="#4F81BD"/>
<line x1="403.47" y1="243.43" x2="403.47" y2="254.85" stroke="#8ea5c8" stroke-width="0.6"/>
<line x1="402.07" y1="243.43" x2="404.87" y2="243.43" stroke="#8ea5c8" stroke-width="0.6"/>
<text x="0" y="0" font-size="7.7" text-anchor="end" fill="#1a1a1a" stroke="#1a1a1a" stroke-width="0.24" transform="translate(407.5 311.5) rotate(-45)">CD73</text>
<line x1="411.19" y1="303.70" x2="411.19" y2="305.50" stroke="#444" stroke-width="0.8"/>
<rect x="416.09" y="302.91" width="5.70" height="0.79" fill="#4F81BD"/>
<text x="0" y="0" font-size="7.7" text-anchor="end" fill="#1a1a1a" stroke="#1a1a1a" stroke-width="0.24" transform="translate(422.9 311.5) rotate(-45)">CD45</text>
<line x1="426.66" y1="303.70" x2="426.66" y2="305.50" stroke="#444" stroke-width="0.8"/>
<rect x="431.56" y="303.30" width="5.70" height="0.40" fill="#4F81BD"/>
<text x="0" y="0" font-size="7.7" text-anchor="end" fill="#1a1a1a" stroke="#1a1a1a" stroke-width="0.24" transform="translate(438.4 311.5) rotate(-45)">PDGFR&#945;</text>
<line x1="442.13" y1="303.70" x2="442.13" y2="305.50" stroke="#444" stroke-width="0.8"/>
<rect x="447.03" y="228.21" width="5.70" height="75.49" fill="#4F81BD"/>
<line x1="449.88" y1="226.38" x2="449.88" y2="228.21" stroke="#8ea5c8" stroke-width="0.6"/>
<line x1="448.48" y1="226.38" x2="451.28" y2="226.38" stroke="#8ea5c8" stroke-width="0.6"/>
<text x="0" y="0" font-size="7.7" text-anchor="end" fill="#1a1a1a" stroke="#1a1a1a" stroke-width="0.24" transform="translate(453.9 311.5) rotate(-45)">CD90</text>
<line x1="457.60" y1="303.70" x2="457.60" y2="305.50" stroke="#444" stroke-width="0.8"/>
<rect x="462.50" y="242.00" width="5.70" height="61.70" fill="#4F81BD"/>
<line x1="465.35" y1="239.86" x2="465.35" y2="242.00" stroke="#8ea5c8" stroke-width="0.6"/>
<line x1="463.95" y1="239.86" x2="466.75" y2="239.86" stroke="#8ea5c8" stroke-width="0.6"/>
<text x="0" y="0" font-size="7.7" text-anchor="end" fill="#1a1a1a" stroke="#1a1a1a" stroke-width="0.24" transform="translate(469.4 311.5) rotate(-45)">CD43</text>
<line x1="473.07" y1="303.70" x2="473.07" y2="305.50" stroke="#444" stroke-width="0.8"/>
<rect x="477.97" y="298.94" width="5.70" height="4.76" fill="#4F81BD"/>
<line x1="480.82" y1="294.50" x2="480.82" y2="298.94" stroke="#8ea5c8" stroke-width="0.6"/>
<line x1="479.42" y1="294.50" x2="482.22" y2="294.50" stroke="#8ea5c8" stroke-width="0.6"/>
<text x="0" y="0" font-size="7.7" text-anchor="end" fill="#1a1a1a" stroke="#1a1a1a" stroke-width="0.24" transform="translate(484.8 311.5) rotate(-45)">CD143</text>
<line x1="488.54" y1="303.70" x2="488.54" y2="305.50" stroke="#444" stroke-width="0.8"/>
<rect x="493.44" y="273.25" width="5.70" height="30.45" fill="#4F81BD"/>
<line x1="496.29" y1="265.64" x2="496.29" y2="273.25" stroke="#8ea5c8" stroke-width="0.6"/>
<line x1="494.89" y1="265.64" x2="497.69" y2="265.64" stroke="#8ea5c8" stroke-width="0.6"/>
<text x="0" y="0" font-size="7.7" text-anchor="end" fill="#1a1a1a" stroke="#1a1a1a" stroke-width="0.24" transform="translate(500.3 311.5) rotate(-45)">CD105</text>
<line x1="504.01" y1="303.70" x2="504.01" y2="305.50" stroke="#444" stroke-width="0.8"/>
<rect x="508.91" y="238.67" width="5.70" height="65.03" fill="#4F81BD"/>
<line x1="511.76" y1="237.09" x2="511.76" y2="238.67" stroke="#8ea5c8" stroke-width="0.6"/>
<line x1="510.36" y1="237.09" x2="513.16" y2="237.09" stroke="#8ea5c8" stroke-width="0.6"/>
<text x="0" y="0" font-size="7.7" text-anchor="end" fill="#1a1a1a" stroke="#1a1a1a" stroke-width="0.24" transform="translate(515.8 311.5) rotate(-45)">CXCR4</text>
<text x="0" y="0" font-size="9.0" text-anchor="middle" fill="#222" stroke="#222" stroke-width="0.08" transform="translate(274 262.8) rotate(-90)">Percentage</text>
<text x="0" y="0" font-size="9.0" text-anchor="middle" fill="#222" stroke="#222" stroke-width="0.08" transform="translate(283.4 262.4) rotate(-90)">of positive cells</text>
</svg></body></html>
